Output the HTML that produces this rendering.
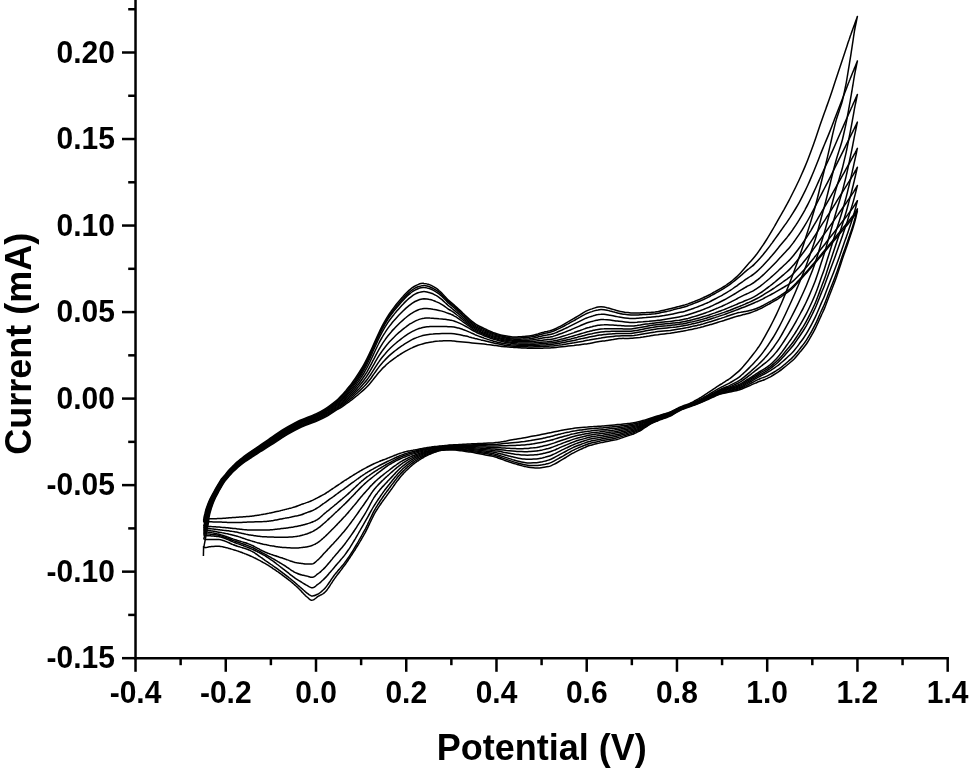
<!DOCTYPE html>
<html><head><meta charset="utf-8"><style>
html,body{margin:0;padding:0;background:#fff;}
svg{display:block;filter:grayscale(1);}
.t{font-family:"Liberation Sans",sans-serif;font-weight:bold;font-size:30px;fill:#000;}
.a{font-family:"Liberation Sans",sans-serif;font-weight:bold;font-size:36px;fill:#000;}
path{fill:none;stroke:#000;stroke-width:1.5;stroke-linejoin:round;}
</style></head><body>
<svg width="969" height="774" viewBox="0 0 969 774">
<line x1="135.52" y1="-2" x2="135.52" y2="659.42" stroke="#000" stroke-width="2.5"/>
<line x1="134.27" y1="658.17" x2="948.93" y2="658.17" stroke="#000" stroke-width="2.5"/>
<line x1="122.0" y1="658.18" x2="135.52" y2="658.18" stroke="#000" stroke-width="2.5"/>
<text transform="translate(114.9,668.18) scale(1,1.065)" text-anchor="end" class="t">-0.15</text>
<line x1="128.2" y1="614.91" x2="135.52" y2="614.91" stroke="#000" stroke-width="2.5"/>
<line x1="122.0" y1="571.65" x2="135.52" y2="571.65" stroke="#000" stroke-width="2.5"/>
<text transform="translate(114.9,581.65) scale(1,1.065)" text-anchor="end" class="t">-0.10</text>
<line x1="128.2" y1="528.39" x2="135.52" y2="528.39" stroke="#000" stroke-width="2.5"/>
<line x1="122.0" y1="485.12" x2="135.52" y2="485.12" stroke="#000" stroke-width="2.5"/>
<text transform="translate(114.9,495.12) scale(1,1.065)" text-anchor="end" class="t">-0.05</text>
<line x1="128.2" y1="441.86" x2="135.52" y2="441.86" stroke="#000" stroke-width="2.5"/>
<line x1="122.0" y1="398.60" x2="135.52" y2="398.60" stroke="#000" stroke-width="2.5"/>
<text transform="translate(114.9,408.60) scale(1,1.065)" text-anchor="end" class="t">0.00</text>
<line x1="128.2" y1="355.34" x2="135.52" y2="355.34" stroke="#000" stroke-width="2.5"/>
<line x1="122.0" y1="312.08" x2="135.52" y2="312.08" stroke="#000" stroke-width="2.5"/>
<text transform="translate(114.9,322.08) scale(1,1.065)" text-anchor="end" class="t">0.05</text>
<line x1="128.2" y1="268.81" x2="135.52" y2="268.81" stroke="#000" stroke-width="2.5"/>
<line x1="122.0" y1="225.55" x2="135.52" y2="225.55" stroke="#000" stroke-width="2.5"/>
<text transform="translate(114.9,235.55) scale(1,1.065)" text-anchor="end" class="t">0.10</text>
<line x1="128.2" y1="182.29" x2="135.52" y2="182.29" stroke="#000" stroke-width="2.5"/>
<line x1="122.0" y1="139.02" x2="135.52" y2="139.02" stroke="#000" stroke-width="2.5"/>
<text transform="translate(114.9,149.02) scale(1,1.065)" text-anchor="end" class="t">0.15</text>
<line x1="128.2" y1="95.76" x2="135.52" y2="95.76" stroke="#000" stroke-width="2.5"/>
<line x1="122.0" y1="52.50" x2="135.52" y2="52.50" stroke="#000" stroke-width="2.5"/>
<text transform="translate(114.9,62.50) scale(1,1.065)" text-anchor="end" class="t">0.20</text>
<line x1="128.2" y1="9.24" x2="135.52" y2="9.24" stroke="#000" stroke-width="2.5"/>
<line x1="135.52" y1="658.17" x2="135.52" y2="671.8" stroke="#000" stroke-width="2.5"/>
<text transform="translate(135.52,703.05) scale(1,1.065)" text-anchor="middle" class="t">-0.4</text>
<line x1="180.64" y1="658.17" x2="180.64" y2="665.2" stroke="#000" stroke-width="2.5"/>
<line x1="225.76" y1="658.17" x2="225.76" y2="671.8" stroke="#000" stroke-width="2.5"/>
<text transform="translate(225.76,703.05) scale(1,1.065)" text-anchor="middle" class="t">-0.2</text>
<line x1="270.88" y1="658.17" x2="270.88" y2="665.2" stroke="#000" stroke-width="2.5"/>
<line x1="316.00" y1="658.17" x2="316.00" y2="671.8" stroke="#000" stroke-width="2.5"/>
<text transform="translate(316.00,703.05) scale(1,1.065)" text-anchor="middle" class="t">0.0</text>
<line x1="361.12" y1="658.17" x2="361.12" y2="665.2" stroke="#000" stroke-width="2.5"/>
<line x1="406.24" y1="658.17" x2="406.24" y2="671.8" stroke="#000" stroke-width="2.5"/>
<text transform="translate(406.24,703.05) scale(1,1.065)" text-anchor="middle" class="t">0.2</text>
<line x1="451.36" y1="658.17" x2="451.36" y2="665.2" stroke="#000" stroke-width="2.5"/>
<line x1="496.48" y1="658.17" x2="496.48" y2="671.8" stroke="#000" stroke-width="2.5"/>
<text transform="translate(496.48,703.05) scale(1,1.065)" text-anchor="middle" class="t">0.4</text>
<line x1="541.60" y1="658.17" x2="541.60" y2="665.2" stroke="#000" stroke-width="2.5"/>
<line x1="586.72" y1="658.17" x2="586.72" y2="671.8" stroke="#000" stroke-width="2.5"/>
<text transform="translate(586.72,703.05) scale(1,1.065)" text-anchor="middle" class="t">0.6</text>
<line x1="631.84" y1="658.17" x2="631.84" y2="665.2" stroke="#000" stroke-width="2.5"/>
<line x1="676.96" y1="658.17" x2="676.96" y2="671.8" stroke="#000" stroke-width="2.5"/>
<text transform="translate(676.96,703.05) scale(1,1.065)" text-anchor="middle" class="t">0.8</text>
<line x1="722.08" y1="658.17" x2="722.08" y2="665.2" stroke="#000" stroke-width="2.5"/>
<line x1="767.20" y1="658.17" x2="767.20" y2="671.8" stroke="#000" stroke-width="2.5"/>
<text transform="translate(767.20,703.05) scale(1,1.065)" text-anchor="middle" class="t">1.0</text>
<line x1="812.32" y1="658.17" x2="812.32" y2="665.2" stroke="#000" stroke-width="2.5"/>
<line x1="857.44" y1="658.17" x2="857.44" y2="671.8" stroke="#000" stroke-width="2.5"/>
<text transform="translate(857.44,703.05) scale(1,1.065)" text-anchor="middle" class="t">1.2</text>
<line x1="902.56" y1="658.17" x2="902.56" y2="665.2" stroke="#000" stroke-width="2.5"/>
<line x1="947.68" y1="658.17" x2="947.68" y2="671.8" stroke="#000" stroke-width="2.5"/>
<text transform="translate(947.68,703.05) scale(1,1.065)" text-anchor="middle" class="t">1.4</text>
<text x="541.8" y="759.6" text-anchor="middle" class="a">Potential (V)</text>
<text transform="translate(31.4,343.7) rotate(-90)" text-anchor="middle" class="a">Current (mA)</text>
<path d="M203.7,547.8 C204.5,543.5 207.6,527.1 208.5,522.2 C209.3,517.3 208.6,519.6 208.8,518.4 C209.0,517.1 209.3,515.8 209.6,514.6 C209.9,513.3 210.1,512.1 210.6,510.7 C211.0,509.2 211.6,507.4 212.2,505.8 C212.7,504.2 213.3,502.5 214.0,500.9 C214.7,499.3 215.5,497.6 216.4,496.0 C217.2,494.3 218.1,492.7 219.0,491.0 C219.9,489.3 220.8,487.7 221.8,486.0 C222.8,484.4 223.8,482.6 224.8,481.2 C225.9,479.8 226.8,478.9 228.0,477.5 C229.2,476.1 230.6,474.3 231.9,472.9 C233.2,471.5 234.6,470.3 236.0,469.1 C237.4,467.8 238.6,466.7 240.2,465.5 C241.8,464.2 243.6,462.8 245.5,461.5 C247.3,460.1 248.8,459.2 251.5,457.5 C254.1,455.7 258.2,453.2 261.5,451.0 C264.9,448.9 267.4,447.2 271.6,444.6 C275.8,441.9 281.7,437.9 286.7,434.9 C291.6,432.0 296.3,429.3 301.4,427.0 C306.5,424.6 313.0,422.6 317.4,420.8 C321.7,418.9 324.3,417.6 327.6,415.8 C330.9,413.9 334.9,411.0 337.0,409.7 C339.1,408.4 339.0,408.7 340.0,408.1 C341.0,407.5 342.0,406.8 343.0,406.1 C344.0,405.4 345.0,404.7 346.0,403.9 C347.0,403.2 348.0,402.5 349.0,401.8 C350.0,401.1 351.0,400.3 352.0,399.6 C353.0,398.8 354.0,398.0 355.0,397.2 C356.0,396.4 357.0,395.6 358.0,394.8 C359.0,393.9 360.0,393.1 361.0,392.2 C362.0,391.4 363.0,390.5 364.0,389.6 C365.0,388.7 366.0,387.8 367.0,386.8 C368.0,385.8 369.0,384.7 370.0,383.5 C371.0,382.4 372.0,381.0 373.0,379.8 C374.0,378.5 375.0,377.2 376.0,376.0 C377.0,374.7 378.0,373.4 379.0,372.3 C380.0,371.1 381.0,370.0 382.0,368.9 C383.0,367.9 384.0,367.0 385.0,366.1 C386.0,365.1 387.0,364.2 388.0,363.3 C389.0,362.5 390.0,361.6 391.0,360.8 C392.0,360.1 393.0,359.4 394.0,358.6 C395.0,357.9 396.0,357.2 397.0,356.5 C398.0,355.8 399.0,355.2 400.0,354.5 C401.0,353.9 402.0,353.3 403.0,352.7 C404.0,352.1 405.0,351.5 406.0,350.9 C407.0,350.4 408.0,349.8 409.0,349.3 C410.0,348.8 411.0,348.3 412.0,347.9 C413.0,347.4 414.0,346.9 415.0,346.5 C416.0,346.1 417.0,345.7 418.0,345.3 C419.0,345.0 420.0,344.7 421.0,344.4 C422.0,344.1 423.0,343.8 424.0,343.5 C425.0,343.2 426.0,342.9 427.0,342.7 C428.0,342.5 429.0,342.4 430.0,342.2 C431.0,342.0 432.0,341.8 433.0,341.7 C434.0,341.5 435.0,341.4 436.0,341.3 C437.0,341.2 438.0,341.1 439.0,341.1 C440.0,341.0 441.0,340.9 442.0,340.9 C443.0,340.8 444.0,340.8 445.0,340.7 C446.0,340.7 447.0,340.7 448.0,340.8 C449.0,340.8 450.0,340.8 451.0,340.8 C452.0,340.9 453.0,341.0 454.0,341.0 C455.0,341.1 456.0,341.3 457.0,341.4 C458.0,341.5 459.0,341.6 460.0,341.7 C461.0,341.8 462.0,341.9 463.0,342.0 C464.0,342.1 465.0,342.2 466.0,342.3 C467.0,342.4 468.0,342.5 469.0,342.6 C470.0,342.7 471.0,342.8 472.0,342.9 C473.0,343.0 474.0,343.1 475.0,343.2 C476.0,343.3 477.0,343.4 478.0,343.5 C479.0,343.6 480.0,343.7 481.0,343.8 C482.0,343.9 483.0,344.0 484.0,344.1 C485.0,344.2 486.0,344.3 487.0,344.5 C488.0,344.6 489.0,344.7 490.0,344.8 C491.0,344.9 492.0,345.1 493.0,345.2 C494.0,345.3 495.0,345.5 496.0,345.6 C497.0,345.7 498.0,345.9 499.0,346.0 C500.0,346.1 501.0,346.3 502.0,346.4 C503.0,346.5 504.0,346.6 505.0,346.7 C506.0,346.8 507.0,346.8 508.0,346.9 C509.0,347.0 510.0,347.1 511.0,347.2 C512.0,347.3 513.0,347.3 514.0,347.4 C515.0,347.5 516.0,347.6 517.0,347.6 C518.0,347.7 519.0,347.8 520.0,347.8 C521.0,347.9 522.0,347.9 523.0,348.0 C524.0,348.0 525.0,348.1 526.0,348.1 C527.0,348.1 528.0,348.2 529.0,348.2 C530.0,348.2 531.0,348.3 532.0,348.3 C533.0,348.3 534.0,348.3 535.0,348.3 C536.0,348.3 537.0,348.2 538.0,348.2 C539.0,348.2 540.0,348.2 541.0,348.2 C542.0,348.2 543.0,348.1 544.0,348.1 C545.0,348.1 546.0,348.0 547.0,348.0 C548.0,348.0 549.0,347.9 550.0,347.9 C551.0,347.8 552.0,347.8 553.0,347.7 C554.0,347.6 555.0,347.5 556.0,347.4 C557.0,347.3 558.0,347.2 559.0,347.1 C560.0,347.0 561.0,346.9 562.0,346.8 C563.0,346.7 564.0,346.6 565.0,346.5 C566.0,346.4 567.0,346.3 568.0,346.1 C569.0,346.0 570.0,345.9 571.0,345.8 C572.0,345.7 573.0,345.6 574.0,345.5 C575.0,345.3 576.0,345.2 577.0,345.1 C578.0,345.0 579.0,344.8 580.0,344.7 C581.0,344.6 582.0,344.4 583.0,344.3 C584.0,344.2 585.0,344.0 586.0,343.9 C587.0,343.7 588.0,343.6 589.0,343.4 C590.0,343.2 591.0,343.1 592.0,342.9 C593.0,342.7 594.0,342.5 595.0,342.3 C596.0,342.2 597.0,342.0 598.0,341.8 C599.0,341.7 600.0,341.5 601.0,341.3 C602.0,341.2 603.0,341.0 604.0,340.9 C605.0,340.7 606.0,340.6 607.0,340.4 C608.0,340.2 609.0,340.1 610.0,339.9 C611.0,339.8 612.0,339.6 613.0,339.5 C614.0,339.3 615.0,339.2 616.0,339.0 C617.0,338.9 618.0,338.7 619.0,338.6 C620.0,338.5 621.0,338.4 622.0,338.4 C623.0,338.3 624.0,338.4 625.0,338.4 C626.0,338.4 627.0,338.4 628.0,338.4 C629.0,338.4 630.0,338.4 631.0,338.3 C632.0,338.3 633.0,338.2 634.0,338.0 C635.0,337.9 636.0,337.8 637.0,337.7 C638.0,337.6 639.0,337.5 640.0,337.4 C641.0,337.2 642.0,337.1 643.0,337.0 C644.0,336.8 645.0,336.6 646.0,336.5 C647.0,336.3 648.0,336.1 649.0,336.0 C650.0,335.8 651.0,335.7 652.0,335.5 C653.0,335.3 654.0,335.2 655.0,335.0 C656.0,334.9 657.0,334.8 658.0,334.7 C659.0,334.5 660.0,334.4 661.0,334.3 C662.0,334.2 663.0,334.1 664.0,334.0 C665.0,333.9 666.0,333.8 667.0,333.6 C668.0,333.5 669.0,333.4 670.0,333.3 C671.0,333.1 672.0,333.0 673.0,332.8 C674.0,332.6 675.0,332.5 676.0,332.3 C677.0,332.1 678.0,332.0 679.0,331.8 C680.0,331.6 681.0,331.5 682.0,331.3 C683.0,331.1 684.0,331.0 685.0,330.8 C686.0,330.6 687.0,330.4 688.0,330.1 C689.0,329.9 690.0,329.7 691.0,329.5 C692.0,329.3 693.0,329.0 694.0,328.8 C695.0,328.6 696.0,328.4 697.0,328.2 C698.0,327.9 699.0,327.7 700.0,327.5 C701.0,327.2 702.0,326.9 703.0,326.7 C704.0,326.4 705.0,326.1 706.0,325.8 C707.0,325.6 708.0,325.3 709.0,325.0 C710.0,324.7 711.0,324.5 712.0,324.2 C713.0,323.9 714.0,323.6 715.0,323.3 C716.0,323.0 717.0,322.7 718.0,322.3 C719.0,322.0 720.0,321.7 721.0,321.4 C722.0,321.1 723.0,320.8 724.0,320.5 C725.0,320.1 726.0,319.8 727.0,319.5 C728.0,319.2 729.0,318.8 730.0,318.5 C731.0,318.2 732.0,317.8 733.0,317.5 C734.0,317.2 735.0,316.9 736.0,316.6 C737.0,316.4 738.0,316.1 739.0,315.8 C740.0,315.5 741.0,315.3 742.0,315.0 C743.0,314.7 744.0,314.5 745.0,314.2 C746.0,314.0 747.0,313.8 748.0,313.5 C749.0,313.2 750.0,312.9 751.0,312.5 C752.0,312.2 753.0,311.8 754.0,311.4 C755.0,311.0 756.0,310.6 757.0,310.2 C758.0,309.8 759.0,309.4 760.0,308.9 C761.0,308.4 762.0,307.9 763.0,307.3 C764.0,306.8 765.0,306.3 766.0,305.7 C767.0,305.2 768.0,304.6 769.0,304.1 C770.0,303.5 771.0,303.0 772.0,302.4 C773.0,301.9 774.0,301.3 775.0,300.7 C776.0,300.1 777.0,299.4 778.0,298.8 C779.0,298.1 780.0,297.4 781.0,296.8 C782.0,296.1 783.0,295.4 784.0,294.7 C785.0,294.1 786.0,293.4 787.0,292.7 C788.0,292.0 789.0,291.3 790.0,290.5 C791.0,289.7 792.0,288.7 793.0,287.7 C794.0,286.7 795.0,285.6 796.0,284.5 C797.0,283.4 798.0,282.3 799.0,281.2 C800.0,280.1 801.0,279.0 802.0,277.9 C803.0,276.8 804.0,275.7 805.0,274.6 C806.0,273.5 807.0,272.4 808.0,271.2 C809.0,270.1 810.0,268.9 811.0,267.8 C812.0,266.6 813.0,265.5 814.0,264.3 C815.0,263.1 816.0,262.0 817.0,260.8 C818.0,259.6 819.0,258.5 820.0,257.3 C821.0,256.1 822.0,255.0 823.0,253.8 C824.0,252.6 825.0,251.4 826.0,250.2 C827.0,249.0 828.0,247.8 829.0,246.6 C830.0,245.5 831.0,244.3 832.0,243.1 C833.0,241.9 834.0,240.7 835.0,239.5 C836.0,238.3 837.0,237.1 838.0,235.9 C839.0,234.7 840.0,233.5 841.0,232.3 C842.0,231.1 843.0,229.9 844.0,228.7 C845.0,227.6 846.3,226.0 847.0,225.2 C847.7,224.4 847.7,224.4 848.0,224.0 C848.3,223.6 848.7,223.2 849.0,222.7 C849.3,222.3 849.7,221.9 850.0,221.5 C850.3,221.0 850.7,220.6 851.0,220.2 C851.3,219.8 851.7,219.3 852.0,218.9 C852.3,218.5 852.7,218.1 853.0,217.6 C853.3,217.2 853.7,216.7 854.0,216.2 C854.3,215.7 854.7,215.2 855.0,214.7 C855.3,214.2 855.6,213.8 856.0,213.2 C856.4,212.5 857.2,211.4 857.4,211.0 L857.4,211.0 C857.2,211.7 856.7,213.8 856.4,215.2 C856.1,216.6 855.7,218.1 855.4,219.4 C855.1,220.7 854.7,221.8 854.4,223.0 C854.1,224.2 853.7,225.4 853.4,226.6 C853.1,227.7 852.7,228.8 852.4,229.8 C852.1,230.8 851.7,231.8 851.4,232.8 C851.1,233.8 850.7,234.8 850.4,235.8 C850.1,236.8 849.7,237.8 849.4,238.8 C849.1,239.8 848.7,240.8 848.4,241.8 C848.1,242.7 847.7,243.7 847.4,244.7 C847.1,245.7 846.7,246.7 846.4,247.6 C846.1,248.6 846.1,248.5 845.4,250.4 C844.7,252.3 843.4,256.1 842.4,259.1 C841.4,262.1 840.4,265.3 839.4,268.3 C838.4,271.3 837.4,274.3 836.4,277.2 C835.4,280.0 834.4,282.7 833.4,285.3 C832.4,288.0 831.4,290.4 830.4,293.0 C829.4,295.5 828.4,298.1 827.4,300.7 C826.4,303.3 825.4,306.2 824.4,308.6 C823.4,311.0 822.4,312.9 821.4,315.1 C820.4,317.3 819.4,319.7 818.4,321.9 C817.4,324.1 816.4,326.4 815.4,328.4 C814.4,330.4 813.4,332.1 812.4,333.9 C811.4,335.7 810.4,337.5 809.4,339.2 C808.4,340.8 807.4,342.5 806.4,344.0 C805.4,345.5 804.4,346.7 803.4,348.0 C802.4,349.3 801.4,350.4 800.4,351.6 C799.4,352.8 798.4,354.1 797.4,355.2 C796.4,356.4 795.4,357.6 794.4,358.7 C793.4,359.7 792.4,360.6 791.4,361.5 C790.4,362.4 789.4,363.2 788.4,364.0 C787.4,364.9 786.4,365.7 785.4,366.5 C784.4,367.3 783.4,368.1 782.4,368.9 C781.4,369.7 780.4,370.5 779.4,371.2 C778.4,371.9 777.4,372.6 776.4,373.2 C775.4,373.8 774.4,374.4 773.4,375.0 C772.4,375.6 771.4,376.2 770.4,376.8 C769.4,377.3 768.4,378.0 767.4,378.4 C766.4,378.9 765.4,379.3 764.4,379.7 C763.4,380.1 762.4,380.4 761.4,380.7 C760.4,381.1 759.4,381.4 758.4,381.8 C757.4,382.2 756.4,382.7 755.4,383.1 C754.4,383.6 753.4,384.0 752.4,384.4 C751.4,384.9 750.4,385.3 749.4,385.8 C748.4,386.2 747.4,386.6 746.4,387.0 C745.4,387.5 744.4,387.9 743.4,388.3 C742.4,388.7 741.4,389.2 740.4,389.5 C739.4,389.8 738.4,390.1 737.4,390.4 C736.4,390.6 735.4,390.8 734.4,391.0 C733.4,391.3 732.4,391.5 731.4,391.7 C730.4,391.9 729.4,392.1 728.4,392.3 C727.4,392.5 726.4,392.7 725.4,392.9 C724.4,393.1 723.4,393.3 722.4,393.5 C721.4,393.8 720.4,394.1 719.4,394.4 C718.4,394.8 717.4,395.2 716.4,395.6 C715.4,396.1 714.4,396.5 713.4,397.0 C712.4,397.4 711.4,397.9 710.4,398.3 C709.4,398.8 708.4,399.2 707.4,399.7 C706.4,400.1 705.4,400.6 704.4,401.0 C703.4,401.5 702.4,401.9 701.4,402.3 C700.4,402.8 699.4,403.2 698.4,403.6 C697.4,403.9 696.4,404.3 695.4,404.7 C694.4,405.0 693.4,405.4 692.4,405.7 C691.4,406.1 690.4,406.5 689.4,406.8 C688.4,407.2 687.4,407.6 686.4,407.9 C685.4,408.3 684.4,408.7 683.4,409.1 C682.4,409.4 681.4,409.8 680.4,410.3 C679.4,410.8 678.4,411.3 677.4,411.9 C676.4,412.5 675.4,413.1 674.4,413.7 C673.4,414.3 672.4,414.9 671.4,415.5 C670.4,416.0 669.4,416.5 668.4,416.9 C667.4,417.3 666.4,417.6 665.4,418.0 C664.4,418.3 663.4,418.6 662.4,419.0 C661.4,419.4 660.4,419.7 659.4,420.1 C658.4,420.5 657.4,421.0 656.4,421.4 C655.4,421.8 654.4,422.2 653.4,422.7 C652.4,423.2 651.4,423.6 650.4,424.2 C649.4,424.7 648.4,425.4 647.4,426.0 C646.4,426.6 645.4,427.3 644.4,428.0 C643.4,428.7 642.4,429.4 641.4,430.0 C640.4,430.6 639.4,431.2 638.4,431.7 C637.4,432.2 636.4,432.6 635.4,433.1 C634.4,433.5 633.4,434.0 632.4,434.4 C631.4,434.7 630.4,435.1 629.4,435.4 C628.4,435.7 627.4,436.0 626.4,436.4 C625.4,436.7 624.4,437.0 623.4,437.4 C622.4,437.7 621.4,438.1 620.4,438.4 C619.4,438.8 618.4,439.1 617.4,439.4 C616.4,439.6 615.4,439.8 614.4,440.1 C613.4,440.3 612.4,440.4 611.4,440.6 C610.4,440.8 609.4,441.0 608.4,441.2 C607.4,441.4 606.4,441.6 605.4,441.8 C604.4,442.0 603.4,442.2 602.4,442.4 C601.4,442.7 600.4,442.9 599.4,443.1 C598.4,443.4 597.4,443.6 596.4,443.8 C595.4,444.1 594.4,444.3 593.4,444.5 C592.4,444.8 591.4,445.0 590.4,445.3 C589.4,445.6 588.4,445.9 587.4,446.3 C586.4,446.7 585.4,447.2 584.4,447.6 C583.4,448.1 582.4,448.5 581.4,449.0 C580.4,449.4 579.4,449.9 578.4,450.3 C577.4,450.8 576.4,451.3 575.4,451.8 C574.4,452.3 573.4,452.8 572.4,453.4 C571.4,454.0 570.4,454.6 569.4,455.2 C568.4,455.8 567.4,456.5 566.4,457.1 C565.4,457.7 564.4,458.3 563.4,458.9 C562.4,459.5 561.4,460.1 560.4,460.7 C559.4,461.3 558.4,461.9 557.4,462.5 C556.4,463.1 555.4,463.7 554.4,464.2 C553.4,464.7 552.4,465.2 551.4,465.6 C550.4,466.0 549.4,466.3 548.4,466.6 C547.4,466.8 546.4,467.0 545.4,467.1 C544.4,467.3 543.4,467.4 542.4,467.5 C541.4,467.7 540.4,467.8 539.4,467.9 C538.4,467.9 537.4,467.9 536.4,467.9 C535.4,467.9 534.4,467.8 533.4,467.7 C532.4,467.6 531.4,467.5 530.4,467.4 C529.4,467.3 528.4,467.2 527.4,467.0 C526.4,466.9 525.4,466.6 524.4,466.4 C523.4,466.2 522.4,465.9 521.4,465.6 C520.4,465.4 519.4,465.1 518.4,464.8 C517.4,464.5 516.4,464.3 515.4,463.9 C514.4,463.6 513.4,463.3 512.4,463.0 C511.4,462.6 510.4,462.3 509.4,462.0 C508.4,461.6 507.4,461.3 506.4,461.0 C505.4,460.6 504.4,460.3 503.4,459.9 C502.4,459.5 501.4,459.2 500.4,458.8 C499.4,458.4 498.4,458.0 497.4,457.7 C496.4,457.4 495.4,457.0 494.4,456.8 C493.4,456.5 492.4,456.3 491.4,456.1 C490.4,455.9 489.4,455.7 488.4,455.5 C487.4,455.3 486.4,455.1 485.4,454.9 C484.4,454.7 483.4,454.5 482.4,454.3 C481.4,454.1 480.4,453.9 479.4,453.7 C478.4,453.6 477.4,453.4 476.4,453.2 C475.4,453.0 474.4,452.8 473.4,452.6 C472.4,452.5 471.4,452.3 470.4,452.1 C469.4,452.0 468.4,451.8 467.4,451.7 C466.4,451.5 465.4,451.3 464.4,451.2 C463.4,451.0 462.4,450.9 461.4,450.8 C460.4,450.6 459.4,450.5 458.4,450.4 C457.4,450.3 456.4,450.2 455.4,450.1 C454.4,450.0 453.4,449.9 452.4,449.9 C451.4,449.8 450.4,449.8 449.4,449.8 C448.4,449.9 447.4,449.9 446.4,450.0 C445.4,450.0 444.2,450.1 443.4,450.2 C442.6,450.2 442.1,450.2 441.4,450.3 C440.7,450.4 440.1,450.6 439.4,450.8 C438.7,451.0 438.1,451.2 437.4,451.4 C436.7,451.6 436.1,451.8 435.4,452.0 C434.7,452.3 434.1,452.5 433.4,452.8 C432.7,453.0 432.1,453.3 431.4,453.5 C430.7,453.8 430.1,454.1 429.4,454.4 C428.7,454.7 428.1,455.0 427.4,455.4 C426.7,455.7 426.1,456.0 425.4,456.4 C424.7,456.7 424.1,457.1 423.4,457.5 C422.7,457.9 422.1,458.3 421.4,458.7 C420.7,459.1 420.1,459.5 419.4,459.9 C418.7,460.3 418.1,460.8 417.4,461.2 C416.7,461.7 416.1,462.2 415.4,462.7 C414.7,463.2 414.1,463.7 413.4,464.2 C412.7,464.8 412.1,465.3 411.4,465.9 C410.7,466.5 410.1,467.1 409.4,467.7 C408.7,468.3 408.1,468.9 407.4,469.6 C406.7,470.2 406.1,470.9 405.4,471.5 C404.7,472.2 404.1,472.9 403.4,473.6 C402.7,474.3 402.1,475.0 401.4,475.8 C400.7,476.6 400.1,477.4 399.4,478.2 C398.7,479.1 398.1,480.0 397.4,480.8 C396.7,481.7 396.1,482.7 395.4,483.6 C394.7,484.5 394.1,485.5 393.4,486.4 C392.7,487.4 392.1,488.3 391.4,489.2 C390.7,490.2 390.1,491.1 389.4,492.0 C388.7,492.9 388.1,493.8 387.4,494.7 C386.7,495.7 386.1,496.6 385.4,497.5 C384.7,498.4 384.1,499.3 383.4,500.2 C382.7,501.1 382.1,502.1 381.4,503.0 C380.7,504.0 380.1,504.9 379.4,505.9 C378.7,506.9 378.1,507.9 377.4,509.0 C376.7,510.0 376.1,511.1 375.4,512.2 C374.7,513.4 374.1,514.5 373.4,515.8 C372.7,517.1 372.1,518.5 371.4,519.9 C370.7,521.2 370.1,522.7 369.4,524.1 C368.7,525.5 368.1,527.0 367.4,528.3 C366.7,529.7 366.1,531.0 365.4,532.3 C364.7,533.5 364.1,534.7 363.4,535.8 C362.7,537.0 362.1,538.2 361.4,539.3 C360.7,540.4 360.1,541.6 359.4,542.7 C358.7,543.8 358.1,544.9 357.4,546.0 C356.7,547.0 356.1,548.1 355.4,549.2 C354.7,550.2 354.1,551.2 353.4,552.3 C352.7,553.3 352.1,554.3 351.4,555.3 C350.7,556.3 350.1,557.3 349.4,558.3 C348.7,559.3 348.1,560.3 347.4,561.3 C346.7,562.2 346.1,563.2 345.4,564.2 C344.7,565.1 344.1,566.0 343.4,566.9 C342.7,567.8 342.1,568.7 341.4,569.6 C340.7,570.5 340.1,571.3 339.4,572.2 C338.7,573.1 338.1,573.9 337.4,574.8 C336.7,575.7 336.1,576.5 335.4,577.5 C334.7,578.4 334.1,579.3 333.4,580.3 C332.7,581.3 332.1,582.4 331.4,583.4 C330.7,584.4 330.1,585.5 329.4,586.5 C328.7,587.5 328.1,588.5 327.4,589.4 C326.7,590.3 326.1,591.1 325.4,591.8 C324.7,592.5 324.1,593.1 323.4,593.5 C322.7,594.0 322.1,594.4 321.4,594.7 C320.7,595.1 320.1,595.4 319.4,595.7 C318.7,596.1 318.1,596.4 317.4,596.9 C316.7,597.4 316.1,598.0 315.4,598.5 C314.7,599.0 314.1,599.6 313.4,599.9 C312.7,600.2 312.1,600.4 311.4,600.2 C310.7,600.1 310.1,599.5 309.4,599.1 C308.7,598.6 308.1,597.9 307.4,597.3 C306.7,596.7 306.1,596.2 305.4,595.6 C304.7,594.9 304.1,594.2 303.4,593.5 C302.7,592.8 302.1,592.1 301.4,591.4 C300.7,590.7 300.1,590.0 299.4,589.3 C298.7,588.7 298.1,588.0 297.4,587.3 C296.7,586.7 296.1,586.1 295.4,585.5 C294.7,584.9 294.1,584.3 293.4,583.7 C292.7,583.1 292.1,582.6 291.4,582.0 C290.7,581.5 290.1,580.9 289.4,580.4 C288.7,579.9 288.1,579.3 287.4,578.8 C286.7,578.3 286.1,577.8 285.4,577.3 C284.7,576.8 284.1,576.3 283.4,575.8 C282.7,575.3 282.1,574.8 281.4,574.3 C280.7,573.9 280.1,573.4 279.4,572.9 C278.7,572.4 278.1,572.0 277.4,571.5 C276.7,571.0 276.1,570.6 275.4,570.1 C274.7,569.6 274.1,569.2 273.4,568.8 C272.7,568.3 272.1,567.9 271.4,567.4 C270.7,567.0 270.1,566.6 269.4,566.2 C268.7,565.7 268.1,565.3 267.4,564.9 C266.7,564.5 266.1,564.1 265.4,563.7 C264.7,563.3 264.1,563.0 263.4,562.6 C262.7,562.2 262.1,561.8 261.4,561.5 C260.7,561.1 260.1,560.7 259.4,560.4 C258.7,560.0 258.1,559.7 257.4,559.3 C256.7,559.0 256.1,558.6 255.4,558.3 C254.7,558.0 254.1,557.7 253.4,557.3 C252.7,557.0 252.1,556.7 251.4,556.4 C250.7,556.1 250.1,555.8 249.4,555.5 C248.7,555.3 248.1,555.0 247.4,554.7 C246.7,554.4 246.1,554.1 245.4,553.9 C244.7,553.6 244.1,553.3 243.4,553.1 C242.7,552.8 242.1,552.6 241.4,552.3 C240.7,552.1 240.1,551.8 239.4,551.6 C238.7,551.4 238.1,551.1 237.4,550.9 C236.7,550.7 236.1,550.5 235.4,550.3 C234.7,550.1 234.1,549.9 233.4,549.7 C232.7,549.5 232.1,549.3 231.4,549.1 C230.7,548.9 230.1,548.7 229.4,548.5 C228.7,548.3 228.1,548.1 227.4,547.9 C226.7,547.7 226.1,547.5 225.4,547.4 C224.7,547.2 224.1,547.0 223.4,546.9 C222.7,546.8 222.1,546.6 221.4,546.6 C220.7,546.5 220.1,546.4 219.4,546.3 C218.7,546.3 218.1,546.3 217.4,546.3 C216.7,546.3 216.1,546.3 215.4,546.3 C214.7,546.4 214.1,546.4 213.4,546.4 C212.7,546.5 212.1,546.5 211.4,546.6 C210.7,546.7 210.1,546.7 209.4,546.8 C208.7,546.9 208.1,547.0 207.4,547.2 C206.7,547.3 205.9,547.5 205.4,547.6 C204.9,547.7 204.7,547.8 204.5,547.8"/>
<path d="M203.7,539.5 C204.4,536.6 207.2,525.7 208.0,522.1 C208.7,518.6 208.1,519.6 208.2,518.3 C208.4,517.0 208.8,515.7 209.1,514.4 C209.4,513.1 209.6,512.0 210.1,510.5 C210.5,509.1 211.1,507.3 211.7,505.6 C212.3,504.0 212.8,502.3 213.6,500.7 C214.3,499.1 215.1,497.4 215.9,495.8 C216.8,494.1 217.7,492.4 218.6,490.8 C219.5,489.1 220.5,487.4 221.4,485.8 C222.4,484.2 223.4,482.3 224.5,480.9 C225.5,479.5 226.5,478.6 227.7,477.2 C228.9,475.8 230.2,474.0 231.6,472.6 C232.9,471.2 234.3,470.0 235.6,468.7 C237.0,467.5 238.3,466.3 239.9,465.1 C241.4,463.8 243.3,462.4 245.1,461.0 C247.0,459.7 248.5,458.7 251.1,457.0 C253.8,455.2 257.8,452.7 261.2,450.5 C264.6,448.4 267.1,446.7 271.3,444.0 C275.4,441.3 281.3,437.3 286.3,434.3 C291.3,431.4 296.0,428.7 301.1,426.3 C306.2,423.9 312.7,421.9 317.1,420.1 C321.4,418.2 323.9,417.0 327.2,415.1 C330.6,413.2 334.9,410.0 337.0,408.6 C339.1,407.2 339.0,407.5 340.0,406.9 C341.0,406.2 342.0,405.5 343.0,404.7 C344.0,404.0 345.0,403.2 346.0,402.4 C347.0,401.7 348.0,400.9 349.0,400.1 C350.0,399.3 351.0,398.5 352.0,397.7 C353.0,396.8 354.0,395.9 355.0,395.0 C356.0,394.2 357.0,393.2 358.0,392.3 C359.0,391.4 360.0,390.5 361.0,389.5 C362.0,388.5 363.0,387.5 364.0,386.5 C365.0,385.4 366.0,384.4 367.0,383.2 C368.0,382.1 369.0,380.8 370.0,379.5 C371.0,378.2 372.0,376.7 373.0,375.3 C374.0,373.9 375.0,372.4 376.0,371.0 C377.0,369.6 378.0,368.2 379.0,366.9 C380.0,365.6 381.0,364.3 382.0,363.2 C383.0,362.0 384.0,361.0 385.0,359.9 C386.0,358.9 387.0,357.9 388.0,356.9 C389.0,355.9 390.0,355.0 391.0,354.1 C392.0,353.3 393.0,352.5 394.0,351.7 C395.0,350.9 396.0,350.1 397.0,349.3 C398.0,348.6 399.0,347.8 400.0,347.1 C401.0,346.4 402.0,345.7 403.0,345.1 C404.0,344.4 405.0,343.7 406.0,343.1 C407.0,342.5 408.0,341.9 409.0,341.3 C410.0,340.7 411.0,340.2 412.0,339.7 C413.0,339.2 414.0,338.7 415.0,338.3 C416.0,337.8 417.0,337.4 418.0,337.1 C419.0,336.7 420.0,336.4 421.0,336.1 C422.0,335.8 423.0,335.5 424.0,335.3 C425.0,335.1 426.0,334.9 427.0,334.7 C428.0,334.6 429.0,334.5 430.0,334.3 C431.0,334.2 432.0,334.1 433.0,334.1 C434.0,334.0 435.0,333.9 436.0,333.8 C437.0,333.8 438.0,333.7 439.0,333.7 C440.0,333.6 441.0,333.5 442.0,333.5 C443.0,333.5 444.0,333.4 445.0,333.4 C446.0,333.4 447.0,333.5 448.0,333.5 C449.0,333.5 450.0,333.5 451.0,333.5 C452.0,333.6 453.0,333.7 454.0,333.8 C455.0,333.9 456.0,334.1 457.0,334.2 C458.0,334.4 459.0,334.6 460.0,334.8 C461.0,335.0 462.0,335.2 463.0,335.4 C464.0,335.6 465.0,335.9 466.0,336.1 C467.0,336.3 468.0,336.6 469.0,336.9 C470.0,337.1 471.0,337.4 472.0,337.7 C473.0,337.9 474.0,338.2 475.0,338.5 C476.0,338.7 477.0,339.0 478.0,339.2 C479.0,339.4 480.0,339.6 481.0,339.9 C482.0,340.1 483.0,340.4 484.0,340.6 C485.0,340.8 486.0,341.1 487.0,341.3 C488.0,341.6 489.0,341.8 490.0,342.1 C491.0,342.3 492.0,342.6 493.0,342.8 C494.0,343.0 495.0,343.3 496.0,343.5 C497.0,343.7 498.0,343.9 499.0,344.1 C500.0,344.3 501.0,344.5 502.0,344.7 C503.0,344.9 504.0,345.0 505.0,345.2 C506.0,345.3 507.0,345.4 508.0,345.5 C509.0,345.7 510.0,345.8 511.0,345.9 C512.0,346.0 513.0,346.1 514.0,346.2 C515.0,346.3 516.0,346.3 517.0,346.4 C518.0,346.5 519.0,346.5 520.0,346.6 C521.0,346.6 522.0,346.7 523.0,346.7 C524.0,346.8 525.0,346.8 526.0,346.8 C527.0,346.8 528.0,346.9 529.0,346.9 C530.0,346.9 531.0,346.9 532.0,346.9 C533.0,346.9 534.0,346.9 535.0,346.8 C536.0,346.8 537.0,346.8 538.0,346.7 C539.0,346.7 540.0,346.6 541.0,346.6 C542.0,346.5 543.0,346.5 544.0,346.4 C545.0,346.4 546.0,346.3 547.0,346.3 C548.0,346.2 549.0,346.2 550.0,346.1 C551.0,346.1 552.0,346.0 553.0,345.9 C554.0,345.8 555.0,345.7 556.0,345.5 C557.0,345.4 558.0,345.2 559.0,345.1 C560.0,344.9 561.0,344.8 562.0,344.7 C563.0,344.5 564.0,344.4 565.0,344.2 C566.0,344.0 567.0,343.9 568.0,343.7 C569.0,343.6 570.0,343.4 571.0,343.2 C572.0,343.1 573.0,342.9 574.0,342.8 C575.0,342.6 576.0,342.4 577.0,342.2 C578.0,342.1 579.0,341.9 580.0,341.7 C581.0,341.5 582.0,341.3 583.0,341.2 C584.0,341.0 585.0,340.8 586.0,340.6 C587.0,340.4 588.0,340.2 589.0,340.1 C590.0,339.9 591.0,339.7 592.0,339.5 C593.0,339.3 594.0,339.1 595.0,338.9 C596.0,338.7 597.0,338.5 598.0,338.4 C599.0,338.2 600.0,338.0 601.0,337.9 C602.0,337.7 603.0,337.6 604.0,337.5 C605.0,337.4 606.0,337.2 607.0,337.1 C608.0,337.0 609.0,336.9 610.0,336.8 C611.0,336.7 612.0,336.6 613.0,336.5 C614.0,336.4 615.0,336.2 616.0,336.1 C617.0,336.0 618.0,335.9 619.0,335.9 C620.0,335.8 621.0,335.7 622.0,335.7 C623.0,335.7 624.0,335.7 625.0,335.8 C626.0,335.8 627.0,335.8 628.0,335.8 C629.0,335.8 630.0,335.8 631.0,335.7 C632.0,335.6 633.0,335.5 634.0,335.4 C635.0,335.2 636.0,335.1 637.0,335.0 C638.0,334.8 639.0,334.7 640.0,334.5 C641.0,334.4 642.0,334.2 643.0,334.0 C644.0,333.9 645.0,333.7 646.0,333.5 C647.0,333.3 648.0,333.1 649.0,332.9 C650.0,332.8 651.0,332.6 652.0,332.4 C653.0,332.3 654.0,332.1 655.0,332.0 C656.0,331.8 657.0,331.7 658.0,331.6 C659.0,331.5 660.0,331.4 661.0,331.3 C662.0,331.2 663.0,331.1 664.0,331.0 C665.0,330.9 666.0,330.8 667.0,330.7 C668.0,330.6 669.0,330.5 670.0,330.4 C671.0,330.2 672.0,330.1 673.0,329.9 C674.0,329.8 675.0,329.6 676.0,329.5 C677.0,329.4 678.0,329.2 679.0,329.0 C680.0,328.9 681.0,328.7 682.0,328.6 C683.0,328.4 684.0,328.3 685.0,328.1 C686.0,327.9 687.0,327.7 688.0,327.4 C689.0,327.2 690.0,327.0 691.0,326.8 C692.0,326.5 693.0,326.3 694.0,326.1 C695.0,325.9 696.0,325.6 697.0,325.4 C698.0,325.2 699.0,324.9 700.0,324.7 C701.0,324.4 702.0,324.1 703.0,323.9 C704.0,323.6 705.0,323.3 706.0,323.0 C707.0,322.7 708.0,322.4 709.0,322.1 C710.0,321.9 711.0,321.6 712.0,321.2 C713.0,320.9 714.0,320.6 715.0,320.3 C716.0,320.0 717.0,319.7 718.0,319.3 C719.0,319.0 720.0,318.7 721.0,318.4 C722.0,318.0 723.0,317.7 724.0,317.4 C725.0,317.0 726.0,316.7 727.0,316.3 C728.0,316.0 729.0,315.6 730.0,315.3 C731.0,315.0 732.0,314.6 733.0,314.3 C734.0,314.0 735.0,313.7 736.0,313.4 C737.0,313.1 738.0,312.8 739.0,312.6 C740.0,312.3 741.0,312.1 742.0,311.9 C743.0,311.7 744.0,311.6 745.0,311.4 C746.0,311.2 747.0,311.1 748.0,310.9 C749.0,310.7 750.0,310.5 751.0,310.2 C752.0,310.0 753.0,309.6 754.0,309.3 C755.0,309.0 756.0,308.6 757.0,308.2 C758.0,307.8 759.0,307.4 760.0,307.0 C761.0,306.5 762.0,306.0 763.0,305.5 C764.0,304.9 765.0,304.4 766.0,303.8 C767.0,303.3 768.0,302.8 769.0,302.2 C770.0,301.7 771.0,301.1 772.0,300.6 C773.0,300.0 774.0,299.5 775.0,298.9 C776.0,298.3 777.0,297.7 778.0,297.0 C779.0,296.4 780.0,295.7 781.0,295.1 C782.0,294.4 783.0,293.8 784.0,293.1 C785.0,292.4 786.0,291.8 787.0,291.1 C788.0,290.5 789.0,289.8 790.0,289.0 C791.0,288.2 792.0,287.3 793.0,286.3 C794.0,285.4 795.0,284.2 796.0,283.2 C797.0,282.1 798.0,281.0 799.0,280.0 C800.0,278.9 801.0,277.8 802.0,276.7 C803.0,275.6 804.0,274.5 805.0,273.4 C806.0,272.3 807.0,271.1 808.0,270.0 C809.0,268.8 810.0,267.7 811.0,266.5 C812.0,265.3 813.0,264.1 814.0,263.0 C815.0,261.8 816.0,260.6 817.0,259.4 C818.0,258.2 819.0,257.1 820.0,255.9 C821.0,254.7 822.0,253.5 823.0,252.3 C824.0,251.1 825.0,249.9 826.0,248.7 C827.0,247.5 828.0,246.2 829.0,245.0 C830.0,243.8 831.0,242.6 832.0,241.4 C833.0,240.2 834.0,239.0 835.0,237.8 C836.0,236.5 837.0,235.3 838.0,234.1 C839.0,232.9 840.0,231.7 841.0,230.5 C842.0,229.3 843.0,228.0 844.0,226.8 C845.0,225.6 846.3,224.0 847.0,223.2 C847.7,222.4 847.7,222.4 848.0,222.0 C848.3,221.6 848.7,221.1 849.0,220.7 C849.3,220.3 849.7,219.9 850.0,219.4 C850.3,219.0 850.7,218.6 851.0,218.1 C851.3,217.7 851.7,217.3 852.0,216.8 C852.3,216.4 852.7,216.0 853.0,215.6 C853.3,215.1 853.7,214.6 854.0,214.1 C854.3,213.6 854.7,213.1 855.0,212.6 C855.3,212.1 855.6,211.7 856.0,211.0 C856.4,210.4 857.2,209.2 857.4,208.9 L857.4,208.9 C857.2,209.5 856.7,211.6 856.4,213.0 C856.1,214.3 855.7,215.7 855.4,217.0 C855.1,218.2 854.7,219.3 854.4,220.5 C854.1,221.7 853.7,222.9 853.4,224.0 C853.1,225.1 852.7,226.2 852.4,227.2 C852.1,228.2 851.7,229.1 851.4,230.1 C851.1,231.1 850.7,232.1 850.4,233.0 C850.1,234.0 849.7,235.0 849.4,236.0 C849.1,236.9 848.7,237.9 848.4,238.9 C848.1,239.8 847.7,240.8 847.4,241.8 C847.1,242.7 846.7,243.7 846.4,244.6 C846.1,245.6 846.1,245.5 845.4,247.4 C844.7,249.2 843.4,253.0 842.4,255.8 C841.4,258.7 840.4,261.8 839.4,264.7 C838.4,267.6 837.4,270.6 836.4,273.3 C835.4,276.1 834.4,278.7 833.4,281.3 C832.4,283.8 831.4,286.2 830.4,288.8 C829.4,291.3 828.4,293.8 827.4,296.4 C826.4,298.9 825.4,301.8 824.4,304.2 C823.4,306.6 822.4,308.5 821.4,310.7 C820.4,312.9 819.4,315.3 818.4,317.6 C817.4,319.8 816.4,322.2 815.4,324.2 C814.4,326.2 813.4,328.0 812.4,329.8 C811.4,331.7 810.4,333.5 809.4,335.2 C808.4,336.9 807.4,338.7 806.4,340.2 C805.4,341.7 804.4,343.1 803.4,344.4 C802.4,345.7 801.4,346.9 800.4,348.2 C799.4,349.5 798.4,350.7 797.4,352.0 C796.4,353.2 795.4,354.4 794.4,355.5 C793.4,356.6 792.4,357.6 791.4,358.6 C790.4,359.5 789.4,360.3 788.4,361.2 C787.4,362.1 786.4,362.9 785.4,363.8 C784.4,364.6 783.4,365.5 782.4,366.3 C781.4,367.1 780.4,367.9 779.4,368.7 C778.4,369.4 777.4,370.0 776.4,370.7 C775.4,371.3 774.4,371.9 773.4,372.5 C772.4,373.1 771.4,373.7 770.4,374.2 C769.4,374.8 768.4,375.3 767.4,375.8 C766.4,376.3 765.4,376.7 764.4,377.1 C763.4,377.5 762.4,377.8 761.4,378.1 C760.4,378.5 759.4,379.0 758.4,379.4 C757.4,379.9 756.4,380.4 755.4,380.9 C754.4,381.4 753.4,381.9 752.4,382.5 C751.4,383.0 750.4,383.5 749.4,384.0 C748.4,384.6 747.4,385.1 746.4,385.6 C745.4,386.1 744.4,386.6 743.4,387.0 C742.4,387.5 741.4,388.0 740.4,388.4 C739.4,388.8 738.4,389.1 737.4,389.3 C736.4,389.6 735.4,389.9 734.4,390.1 C733.4,390.3 732.4,390.6 731.4,390.8 C730.4,391.1 729.4,391.3 728.4,391.5 C727.4,391.7 726.4,391.9 725.4,392.2 C724.4,392.4 723.4,392.6 722.4,392.9 C721.4,393.1 720.4,393.4 719.4,393.8 C718.4,394.1 717.4,394.6 716.4,395.0 C715.4,395.5 714.4,396.0 713.4,396.4 C712.4,396.9 711.4,397.4 710.4,397.8 C709.4,398.3 708.4,398.7 707.4,399.2 C706.4,399.7 705.4,400.1 704.4,400.6 C703.4,401.1 702.4,401.5 701.4,402.0 C700.4,402.4 699.4,402.8 698.4,403.2 C697.4,403.6 696.4,403.9 695.4,404.3 C694.4,404.7 693.4,405.1 692.4,405.4 C691.4,405.8 690.4,406.2 689.4,406.5 C688.4,406.9 687.4,407.3 686.4,407.6 C685.4,408.0 684.4,408.3 683.4,408.7 C682.4,409.1 681.4,409.5 680.4,409.9 C679.4,410.4 678.4,411.0 677.4,411.5 C676.4,412.1 675.4,412.7 674.4,413.3 C673.4,413.9 672.4,414.5 671.4,415.0 C670.4,415.5 669.4,416.0 668.4,416.4 C667.4,416.8 666.4,417.1 665.4,417.5 C664.4,417.8 663.4,418.1 662.4,418.5 C661.4,418.8 660.4,419.2 659.4,419.6 C658.4,420.0 657.4,420.4 656.4,420.8 C655.4,421.2 654.4,421.7 653.4,422.1 C652.4,422.6 651.4,423.0 650.4,423.5 C649.4,424.0 648.4,424.6 647.4,425.2 C646.4,425.8 645.4,426.5 644.4,427.1 C643.4,427.8 642.4,428.4 641.4,429.0 C640.4,429.6 639.4,430.1 638.4,430.6 C637.4,431.1 636.4,431.5 635.4,431.9 C634.4,432.3 633.4,432.7 632.4,433.1 C631.4,433.4 630.4,433.8 629.4,434.1 C628.4,434.4 627.4,434.7 626.4,435.0 C625.4,435.3 624.4,435.6 623.4,435.9 C622.4,436.2 621.4,436.6 620.4,436.9 C619.4,437.2 618.4,437.5 617.4,437.7 C616.4,438.0 615.4,438.2 614.4,438.4 C613.4,438.6 612.4,438.7 611.4,438.9 C610.4,439.1 609.4,439.3 608.4,439.5 C607.4,439.7 606.4,439.8 605.4,440.0 C604.4,440.2 603.4,440.4 602.4,440.6 C601.4,440.8 600.4,441.0 599.4,441.3 C598.4,441.5 597.4,441.7 596.4,441.9 C595.4,442.1 594.4,442.3 593.4,442.5 C592.4,442.8 591.4,443.0 590.4,443.2 C589.4,443.5 588.4,443.8 587.4,444.2 C586.4,444.5 585.4,445.0 584.4,445.4 C583.4,445.8 582.4,446.2 581.4,446.6 C580.4,447.0 579.4,447.4 578.4,447.8 C577.4,448.3 576.4,448.7 575.4,449.1 C574.4,449.6 573.4,450.1 572.4,450.7 C571.4,451.2 570.4,451.8 569.4,452.3 C568.4,452.9 567.4,453.5 566.4,454.0 C565.4,454.6 564.4,455.2 563.4,455.8 C562.4,456.3 561.4,456.9 560.4,457.5 C559.4,458.1 558.4,458.6 557.4,459.2 C556.4,459.8 555.4,460.4 554.4,460.9 C553.4,461.4 552.4,461.9 551.4,462.4 C550.4,462.8 549.4,463.2 548.4,463.5 C547.4,463.8 546.4,463.9 545.4,464.2 C544.4,464.4 543.4,464.6 542.4,464.8 C541.4,464.9 540.4,465.2 539.4,465.3 C538.4,465.4 537.4,465.5 536.4,465.5 C535.4,465.5 534.4,465.5 533.4,465.5 C532.4,465.5 531.4,465.5 530.4,465.4 C529.4,465.4 528.4,465.3 527.4,465.2 C526.4,465.1 525.4,464.9 524.4,464.7 C523.4,464.5 522.4,464.3 521.4,464.0 C520.4,463.8 519.4,463.6 518.4,463.3 C517.4,463.0 516.4,462.7 515.4,462.4 C514.4,462.1 513.4,461.8 512.4,461.4 C511.4,461.1 510.4,460.8 509.4,460.4 C508.4,460.1 507.4,459.7 506.4,459.4 C505.4,459.1 504.4,458.7 503.4,458.4 C502.4,458.0 501.4,457.6 500.4,457.3 C499.4,456.9 498.4,456.6 497.4,456.2 C496.4,455.9 495.4,455.6 494.4,455.4 C493.4,455.1 492.4,454.9 491.4,454.7 C490.4,454.5 489.4,454.3 488.4,454.1 C487.4,454.0 486.4,453.8 485.4,453.6 C484.4,453.4 483.4,453.3 482.4,453.1 C481.4,452.9 480.4,452.8 479.4,452.6 C478.4,452.4 477.4,452.3 476.4,452.1 C475.4,452.0 474.4,451.8 473.4,451.7 C472.4,451.5 471.4,451.4 470.4,451.2 C469.4,451.1 468.4,451.0 467.4,450.8 C466.4,450.7 465.4,450.5 464.4,450.4 C463.4,450.3 462.4,450.2 461.4,450.1 C460.4,449.9 459.4,449.9 458.4,449.8 C457.4,449.7 456.4,449.6 455.4,449.5 C454.4,449.4 453.4,449.3 452.4,449.3 C451.4,449.3 450.4,449.3 449.4,449.3 C448.4,449.4 447.4,449.4 446.4,449.5 C445.4,449.5 444.2,449.6 443.4,449.7 C442.6,449.7 442.1,449.7 441.4,449.8 C440.7,449.9 440.1,450.1 439.4,450.3 C438.7,450.4 438.1,450.6 437.4,450.8 C436.7,451.0 436.1,451.2 435.4,451.4 C434.7,451.7 434.1,451.9 433.4,452.1 C432.7,452.3 432.1,452.6 431.4,452.8 C430.7,453.1 430.1,453.3 429.4,453.6 C428.7,453.9 428.1,454.1 427.4,454.4 C426.7,454.7 426.1,455.0 425.4,455.3 C424.7,455.6 424.1,455.9 423.4,456.3 C422.7,456.6 422.1,456.9 421.4,457.3 C420.7,457.6 420.1,458.0 419.4,458.4 C418.7,458.8 418.1,459.1 417.4,459.6 C416.7,460.0 416.1,460.4 415.4,460.9 C414.7,461.3 414.1,461.8 413.4,462.3 C412.7,462.8 412.1,463.3 411.4,463.8 C410.7,464.4 410.1,464.9 409.4,465.5 C408.7,466.0 408.1,466.6 407.4,467.2 C406.7,467.8 406.1,468.4 405.4,469.0 C404.7,469.6 404.1,470.3 403.4,470.9 C402.7,471.6 402.1,472.2 401.4,472.9 C400.7,473.6 400.1,474.4 399.4,475.2 C398.7,475.9 398.1,476.8 397.4,477.6 C396.7,478.4 396.1,479.3 395.4,480.1 C394.7,481.0 394.1,481.9 393.4,482.8 C392.7,483.6 392.1,484.5 391.4,485.4 C390.7,486.3 390.1,487.2 389.4,488.1 C388.7,489.0 388.1,489.9 387.4,490.8 C386.7,491.7 386.1,492.6 385.4,493.5 C384.7,494.4 384.1,495.4 383.4,496.3 C382.7,497.2 382.1,498.2 381.4,499.2 C380.7,500.2 380.1,501.2 379.4,502.2 C378.7,503.2 378.1,504.2 377.4,505.3 C376.7,506.4 376.1,507.5 375.4,508.6 C374.7,509.8 374.1,511.0 373.4,512.2 C372.7,513.5 372.1,514.9 371.4,516.3 C370.7,517.7 370.1,519.1 369.4,520.5 C368.7,521.9 368.1,523.4 367.4,524.8 C366.7,526.1 366.1,527.5 365.4,528.8 C364.7,530.0 364.1,531.2 363.4,532.4 C362.7,533.6 362.1,534.9 361.4,536.1 C360.7,537.3 360.1,538.4 359.4,539.6 C358.7,540.8 358.1,542.0 357.4,543.1 C356.7,544.3 356.1,545.4 355.4,546.5 C354.7,547.6 354.1,548.7 353.4,549.8 C352.7,550.9 352.1,552.0 351.4,553.0 C350.7,554.1 350.1,555.1 349.4,556.1 C348.7,557.1 348.1,558.1 347.4,559.0 C346.7,560.0 346.1,560.9 345.4,561.8 C344.7,562.7 344.1,563.5 343.4,564.4 C342.7,565.2 342.1,566.0 341.4,566.7 C340.7,567.5 340.1,568.3 339.4,569.1 C338.7,569.8 338.1,570.6 337.4,571.4 C336.7,572.2 336.1,572.9 335.4,573.8 C334.7,574.6 334.1,575.5 333.4,576.5 C332.7,577.4 332.1,578.4 331.4,579.3 C330.7,580.3 330.1,581.3 329.4,582.3 C328.7,583.3 328.1,584.2 327.4,585.1 C326.7,586.0 326.1,586.9 325.4,587.7 C324.7,588.5 324.1,589.1 323.4,589.8 C322.7,590.4 322.1,591.1 321.4,591.6 C320.7,592.2 320.1,592.8 319.4,593.2 C318.7,593.6 318.1,594.0 317.4,594.3 C316.7,594.6 316.1,594.9 315.4,595.2 C314.7,595.5 314.1,595.7 313.4,595.8 C312.7,596.0 312.1,596.1 311.4,595.9 C310.7,595.8 310.1,595.3 309.4,594.9 C308.7,594.4 308.1,593.8 307.4,593.3 C306.7,592.8 306.1,592.3 305.4,591.8 C304.7,591.2 304.1,590.6 303.4,590.0 C302.7,589.4 302.1,588.9 301.4,588.3 C300.7,587.7 300.1,587.1 299.4,586.5 C298.7,585.9 298.1,585.3 297.4,584.7 C296.7,584.1 296.1,583.6 295.4,583.0 C294.7,582.4 294.1,581.9 293.4,581.3 C292.7,580.7 292.1,580.2 291.4,579.6 C290.7,579.1 290.1,578.5 289.4,578.0 C288.7,577.4 288.1,576.9 287.4,576.4 C286.7,575.8 286.1,575.3 285.4,574.8 C284.7,574.3 284.1,573.8 283.4,573.3 C282.7,572.8 282.1,572.3 281.4,571.8 C280.7,571.3 280.1,570.8 279.4,570.3 C278.7,569.8 278.1,569.4 277.4,568.9 C276.7,568.4 276.1,567.9 275.4,567.5 C274.7,567.0 274.1,566.5 273.4,566.1 C272.7,565.6 272.1,565.1 271.4,564.7 C270.7,564.2 270.1,563.8 269.4,563.3 C268.7,562.9 268.1,562.4 267.4,561.9 C266.7,561.5 266.1,561.0 265.4,560.6 C264.7,560.1 264.1,559.7 263.4,559.2 C262.7,558.7 262.1,558.2 261.4,557.7 C260.7,557.2 260.1,556.8 259.4,556.3 C258.7,555.8 258.1,555.3 257.4,554.8 C256.7,554.4 256.1,553.9 255.4,553.5 C254.7,553.0 254.1,552.6 253.4,552.2 C252.7,551.8 252.1,551.4 251.4,551.1 C250.7,550.7 250.1,550.4 249.4,550.1 C248.7,549.9 248.1,549.6 247.4,549.3 C246.7,549.1 246.1,548.9 245.4,548.6 C244.7,548.4 244.1,548.2 243.4,548.0 C242.7,547.8 242.1,547.6 241.4,547.4 C240.7,547.2 240.1,547.0 239.4,546.8 C238.7,546.6 238.1,546.4 237.4,546.2 C236.7,546.0 236.1,545.8 235.4,545.5 C234.7,545.3 234.1,545.1 233.4,544.8 C232.7,544.5 232.1,544.3 231.4,544.0 C230.7,543.7 230.1,543.4 229.4,543.0 C228.7,542.7 228.1,542.4 227.4,542.1 C226.7,541.8 226.1,541.5 225.4,541.3 C224.7,541.0 224.1,540.7 223.4,540.5 C222.7,540.3 222.1,540.1 221.4,539.9 C220.7,539.8 220.1,539.6 219.4,539.6 C218.7,539.5 218.1,539.5 217.4,539.5 C216.7,539.5 216.1,539.5 215.4,539.5 C214.7,539.5 214.1,539.5 213.4,539.5 C212.7,539.5 212.1,539.5 211.4,539.5 C210.7,539.5 210.1,539.5 209.4,539.5 C208.7,539.5 208.1,539.5 207.4,539.5 C206.7,539.5 205.9,539.5 205.4,539.5 C204.9,539.5 204.7,539.5 204.5,539.5"/>
<path d="M203.7,535.6 C204.3,533.3 206.8,525.0 207.4,522.1 C208.1,519.2 207.5,519.5 207.7,518.2 C207.9,516.9 208.3,515.6 208.6,514.3 C208.9,513.0 209.1,511.9 209.6,510.4 C210.0,508.9 210.6,507.1 211.2,505.4 C211.8,503.8 212.4,502.2 213.1,500.5 C213.8,498.9 214.7,497.2 215.5,495.5 C216.4,493.9 217.3,492.2 218.2,490.6 C219.1,488.9 220.1,487.2 221.1,485.6 C222.0,483.9 223.0,482.1 224.1,480.7 C225.1,479.2 226.2,478.3 227.3,476.9 C228.5,475.5 229.9,473.7 231.2,472.3 C232.6,470.8 233.9,469.6 235.3,468.4 C236.7,467.1 237.9,466.0 239.5,464.7 C241.1,463.4 242.9,462.0 244.8,460.6 C246.7,459.2 248.1,458.3 250.8,456.5 C253.5,454.7 257.5,452.2 260.9,450.0 C264.2,447.8 266.7,446.2 270.9,443.5 C275.1,440.8 280.9,436.7 285.9,433.7 C290.9,430.8 295.6,428.1 300.8,425.7 C305.9,423.3 312.4,421.2 316.8,419.4 C321.1,417.5 323.5,416.3 326.9,414.4 C330.3,412.4 334.8,409.0 337.0,407.5 C339.2,406.1 339.0,406.3 340.0,405.6 C341.0,405.0 342.0,404.2 343.0,403.4 C344.0,402.6 345.0,401.8 346.0,400.9 C347.0,400.1 348.0,399.3 349.0,398.4 C350.0,397.6 351.0,396.7 352.0,395.8 C353.0,394.9 354.0,393.9 355.0,392.9 C356.0,391.9 357.0,390.9 358.0,389.9 C359.0,388.9 360.0,387.8 361.0,386.7 C362.0,385.6 363.0,384.5 364.0,383.3 C365.0,382.2 366.0,381.0 367.0,379.7 C368.0,378.4 369.0,376.9 370.0,375.5 C371.0,374.0 372.0,372.4 373.0,370.8 C374.0,369.3 375.0,367.7 376.0,366.1 C377.0,364.6 378.0,363.0 379.0,361.6 C380.0,360.1 381.0,358.8 382.0,357.5 C383.0,356.2 384.0,355.0 385.0,353.9 C386.0,352.7 387.0,351.6 388.0,350.5 C389.0,349.5 390.0,348.5 391.0,347.5 C392.0,346.6 393.0,345.7 394.0,344.8 C395.0,343.9 396.0,343.1 397.0,342.2 C398.0,341.4 399.0,340.6 400.0,339.8 C401.0,339.0 402.0,338.3 403.0,337.5 C404.0,336.8 405.0,336.1 406.0,335.4 C407.0,334.7 408.0,334.0 409.0,333.4 C410.0,332.8 411.0,332.2 412.0,331.7 C413.0,331.2 414.0,330.6 415.0,330.2 C416.0,329.7 417.0,329.3 418.0,328.9 C419.0,328.6 420.0,328.2 421.0,328.0 C422.0,327.7 423.0,327.4 424.0,327.2 C425.0,327.1 426.0,326.9 427.0,326.8 C428.0,326.7 429.0,326.7 430.0,326.6 C431.0,326.6 432.0,326.6 433.0,326.6 C434.0,326.5 435.0,326.5 436.0,326.5 C437.0,326.5 438.0,326.5 439.0,326.5 C440.0,326.5 441.0,326.4 442.0,326.4 C443.0,326.5 444.0,326.5 445.0,326.5 C446.0,326.6 447.0,326.6 448.0,326.7 C449.0,326.7 450.0,326.7 451.0,326.8 C452.0,326.9 453.0,327.0 454.0,327.1 C455.0,327.3 456.0,327.5 457.0,327.7 C458.0,328.0 459.0,328.2 460.0,328.5 C461.0,328.8 462.0,329.1 463.0,329.5 C464.0,329.8 465.0,330.2 466.0,330.6 C467.0,331.0 468.0,331.4 469.0,331.9 C470.0,332.3 471.0,332.8 472.0,333.3 C473.0,333.7 474.0,334.2 475.0,334.7 C476.0,335.1 477.0,335.5 478.0,335.9 C479.0,336.3 480.0,336.6 481.0,337.0 C482.0,337.4 483.0,337.7 484.0,338.1 C485.0,338.4 486.0,338.8 487.0,339.1 C488.0,339.4 489.0,339.8 490.0,340.1 C491.0,340.4 492.0,340.7 493.0,341.0 C494.0,341.3 495.0,341.5 496.0,341.8 C497.0,342.1 498.0,342.3 499.0,342.6 C500.0,342.8 501.0,343.0 502.0,343.2 C503.0,343.4 504.0,343.6 505.0,343.7 C506.0,343.9 507.0,344.1 508.0,344.2 C509.0,344.4 510.0,344.5 511.0,344.7 C512.0,344.8 513.0,344.9 514.0,345.0 C515.0,345.1 516.0,345.1 517.0,345.2 C518.0,345.3 519.0,345.3 520.0,345.4 C521.0,345.4 522.0,345.5 523.0,345.5 C524.0,345.5 525.0,345.6 526.0,345.6 C527.0,345.6 528.0,345.6 529.0,345.6 C530.0,345.6 531.0,345.6 532.0,345.6 C533.0,345.6 534.0,345.5 535.0,345.5 C536.0,345.4 537.0,345.4 538.0,345.3 C539.0,345.2 540.0,345.2 541.0,345.1 C542.0,345.0 543.0,345.0 544.0,344.9 C545.0,344.9 546.0,344.8 547.0,344.7 C548.0,344.7 549.0,344.6 550.0,344.6 C551.0,344.5 552.0,344.4 553.0,344.3 C554.0,344.2 555.0,344.0 556.0,343.8 C557.0,343.7 558.0,343.5 559.0,343.3 C560.0,343.1 561.0,343.0 562.0,342.8 C563.0,342.6 564.0,342.4 565.0,342.2 C566.0,342.0 567.0,341.8 568.0,341.6 C569.0,341.4 570.0,341.2 571.0,341.0 C572.0,340.8 573.0,340.6 574.0,340.4 C575.0,340.2 576.0,340.0 577.0,339.8 C578.0,339.5 579.0,339.3 580.0,339.1 C581.0,338.9 582.0,338.7 583.0,338.4 C584.0,338.2 585.0,338.0 586.0,337.8 C587.0,337.6 588.0,337.3 589.0,337.1 C590.0,336.9 591.0,336.7 592.0,336.5 C593.0,336.3 594.0,336.1 595.0,335.9 C596.0,335.7 597.0,335.5 598.0,335.3 C599.0,335.2 600.0,335.0 601.0,334.9 C602.0,334.8 603.0,334.6 604.0,334.5 C605.0,334.4 606.0,334.4 607.0,334.3 C608.0,334.2 609.0,334.1 610.0,334.0 C611.0,334.0 612.0,333.9 613.0,333.8 C614.0,333.8 615.0,333.7 616.0,333.6 C617.0,333.6 618.0,333.5 619.0,333.5 C620.0,333.4 621.0,333.4 622.0,333.4 C623.0,333.4 624.0,333.4 625.0,333.4 C626.0,333.5 627.0,333.5 628.0,333.5 C629.0,333.5 630.0,333.4 631.0,333.4 C632.0,333.3 633.0,333.1 634.0,333.0 C635.0,332.9 636.0,332.7 637.0,332.5 C638.0,332.4 639.0,332.2 640.0,332.0 C641.0,331.8 642.0,331.6 643.0,331.4 C644.0,331.2 645.0,331.0 646.0,330.8 C647.0,330.6 648.0,330.4 649.0,330.2 C650.0,330.0 651.0,329.9 652.0,329.7 C653.0,329.5 654.0,329.4 655.0,329.2 C656.0,329.1 657.0,328.9 658.0,328.8 C659.0,328.7 660.0,328.6 661.0,328.5 C662.0,328.4 663.0,328.3 664.0,328.2 C665.0,328.1 666.0,328.0 667.0,327.9 C668.0,327.8 669.0,327.7 670.0,327.6 C671.0,327.5 672.0,327.4 673.0,327.3 C674.0,327.1 675.0,327.0 676.0,326.9 C677.0,326.7 678.0,326.6 679.0,326.4 C680.0,326.3 681.0,326.2 682.0,326.0 C683.0,325.8 684.0,325.7 685.0,325.5 C686.0,325.3 687.0,325.1 688.0,324.9 C689.0,324.7 690.0,324.4 691.0,324.2 C692.0,324.0 693.0,323.7 694.0,323.5 C695.0,323.3 696.0,323.0 697.0,322.8 C698.0,322.5 699.0,322.3 700.0,322.0 C701.0,321.8 702.0,321.5 703.0,321.2 C704.0,320.9 705.0,320.7 706.0,320.4 C707.0,320.1 708.0,319.8 709.0,319.5 C710.0,319.2 711.0,318.9 712.0,318.5 C713.0,318.2 714.0,317.9 715.0,317.6 C716.0,317.2 717.0,316.9 718.0,316.6 C719.0,316.2 720.0,315.9 721.0,315.6 C722.0,315.3 723.0,314.9 724.0,314.6 C725.0,314.2 726.0,313.8 727.0,313.5 C728.0,313.1 729.0,312.7 730.0,312.4 C731.0,312.0 732.0,311.6 733.0,311.2 C734.0,310.9 735.0,310.5 736.0,310.1 C737.0,309.8 738.0,309.4 739.0,309.0 C740.0,308.6 741.0,308.2 742.0,307.8 C743.0,307.4 744.0,307.0 745.0,306.7 C746.0,306.3 747.0,305.9 748.0,305.5 C749.0,305.1 750.0,304.7 751.0,304.3 C752.0,303.9 753.0,303.5 754.0,303.0 C755.0,302.6 756.0,302.2 757.0,301.7 C758.0,301.3 759.0,300.8 760.0,300.3 C761.0,299.9 762.0,299.3 763.0,298.8 C764.0,298.3 765.0,297.7 766.0,297.2 C767.0,296.7 768.0,296.1 769.0,295.6 C770.0,295.1 771.0,294.6 772.0,294.0 C773.0,293.5 774.0,293.0 775.0,292.4 C776.0,291.9 777.0,291.3 778.0,290.7 C779.0,290.1 780.0,289.5 781.0,288.9 C782.0,288.3 783.0,287.7 784.0,287.1 C785.0,286.5 786.0,286.0 787.0,285.4 C788.0,284.8 789.0,284.2 790.0,283.5 C791.0,282.8 792.0,282.0 793.0,281.1 C794.0,280.2 795.0,279.2 796.0,278.2 C797.0,277.2 798.0,276.2 799.0,275.2 C800.0,274.2 801.0,273.1 802.0,272.0 C803.0,271.0 804.0,269.9 805.0,268.7 C806.0,267.6 807.0,266.4 808.0,265.2 C809.0,264.0 810.0,262.8 811.0,261.6 C812.0,260.3 813.0,259.1 814.0,257.9 C815.0,256.6 816.0,255.4 817.0,254.1 C818.0,252.8 819.0,251.6 820.0,250.3 C821.0,249.1 822.0,247.8 823.0,246.5 C824.0,245.3 825.0,244.0 826.0,242.7 C827.0,241.4 828.0,240.2 829.0,238.9 C830.0,237.6 831.0,236.3 832.0,235.0 C833.0,233.7 834.0,232.4 835.0,231.1 C836.0,229.8 837.0,228.6 838.0,227.3 C839.0,226.0 840.0,224.7 841.0,223.4 C842.0,222.1 843.0,220.8 844.0,219.5 C845.0,218.2 846.3,216.5 847.0,215.7 C847.7,214.8 847.7,214.8 848.0,214.4 C848.3,213.9 848.7,213.5 849.0,213.0 C849.3,212.6 849.7,212.1 850.0,211.7 C850.3,211.2 850.7,210.8 851.0,210.3 C851.3,209.9 851.7,209.4 852.0,209.0 C852.3,208.5 852.7,208.1 853.0,207.6 C853.3,207.1 853.7,206.6 854.0,206.1 C854.3,205.6 854.7,205.1 855.0,204.5 C855.3,204.0 855.6,203.6 856.0,202.9 C856.4,202.3 857.2,201.1 857.4,200.7 L857.4,200.7 C857.2,201.4 856.7,203.4 856.4,204.7 C856.1,206.0 855.7,207.4 855.4,208.7 C855.1,209.9 854.7,211.0 854.4,212.2 C854.1,213.3 853.7,214.6 853.4,215.7 C853.1,216.9 852.7,217.9 852.4,218.9 C852.1,220.0 851.7,221.0 851.4,222.0 C851.1,223.0 850.7,224.0 850.4,225.0 C850.1,226.0 849.7,226.9 849.4,227.9 C849.1,228.9 848.7,229.9 848.4,230.9 C848.1,231.9 847.7,232.9 847.4,233.9 C847.1,234.9 846.7,235.8 846.4,236.8 C846.1,237.7 846.1,237.7 845.4,239.5 C844.7,241.4 843.4,245.2 842.4,248.1 C841.4,250.9 840.4,253.9 839.4,256.7 C838.4,259.5 837.4,262.4 836.4,265.1 C835.4,267.8 834.4,270.4 833.4,273.0 C832.4,275.6 831.4,278.0 830.4,280.6 C829.4,283.1 828.4,285.7 827.4,288.3 C826.4,290.9 825.4,293.8 824.4,296.2 C823.4,298.6 822.4,300.6 821.4,302.9 C820.4,305.2 819.4,307.7 818.4,310.0 C817.4,312.4 816.4,314.8 815.4,316.9 C814.4,319.0 813.4,320.9 812.4,322.8 C811.4,324.7 810.4,326.6 809.4,328.4 C808.4,330.3 807.4,332.1 806.4,333.7 C805.4,335.3 804.4,336.8 803.4,338.2 C802.4,339.6 801.4,341.0 800.4,342.3 C799.4,343.7 798.4,345.0 797.4,346.4 C796.4,347.7 795.4,349.0 794.4,350.2 C793.4,351.4 792.4,352.4 791.4,353.5 C790.4,354.5 789.4,355.4 788.4,356.3 C787.4,357.3 786.4,358.2 785.4,359.1 C784.4,360.0 783.4,360.9 782.4,361.8 C781.4,362.7 780.4,363.5 779.4,364.3 C778.4,365.1 777.4,365.8 776.4,366.5 C775.4,367.2 774.4,367.9 773.4,368.6 C772.4,369.2 771.4,369.9 770.4,370.6 C769.4,371.2 768.4,371.9 767.4,372.4 C766.4,373.0 765.4,373.5 764.4,374.0 C763.4,374.5 762.4,375.0 761.4,375.5 C760.4,376.0 759.4,376.5 758.4,377.1 C757.4,377.6 756.4,378.2 755.4,378.8 C754.4,379.4 753.4,380.0 752.4,380.6 C751.4,381.2 750.4,381.8 749.4,382.4 C748.4,383.0 747.4,383.6 746.4,384.2 C745.4,384.7 744.4,385.3 743.4,385.8 C742.4,386.4 741.4,386.9 740.4,387.3 C739.4,387.7 738.4,388.1 737.4,388.4 C736.4,388.7 735.4,389.0 734.4,389.2 C733.4,389.5 732.4,389.8 731.4,390.0 C730.4,390.3 729.4,390.5 728.4,390.8 C727.4,391.0 726.4,391.3 725.4,391.5 C724.4,391.8 723.4,392.0 722.4,392.3 C721.4,392.5 720.4,392.9 719.4,393.2 C718.4,393.6 717.4,394.1 716.4,394.5 C715.4,395.0 714.4,395.5 713.4,396.0 C712.4,396.4 711.4,396.9 710.4,397.4 C709.4,397.9 708.4,398.3 707.4,398.8 C706.4,399.3 705.4,399.8 704.4,400.2 C703.4,400.7 702.4,401.2 701.4,401.6 C700.4,402.1 699.4,402.5 698.4,402.9 C697.4,403.3 696.4,403.6 695.4,404.0 C694.4,404.4 693.4,404.8 692.4,405.1 C691.4,405.5 690.4,405.9 689.4,406.3 C688.4,406.6 687.4,407.0 686.4,407.3 C685.4,407.7 684.4,408.0 683.4,408.4 C682.4,408.8 681.4,409.1 680.4,409.6 C679.4,410.1 678.4,410.6 677.4,411.1 C676.4,411.7 675.4,412.3 674.4,412.9 C673.4,413.5 672.4,414.1 671.4,414.6 C670.4,415.1 669.4,415.5 668.4,416.0 C667.4,416.4 666.4,416.7 665.4,417.0 C664.4,417.3 663.4,417.7 662.4,418.0 C661.4,418.3 660.4,418.7 659.4,419.1 C658.4,419.4 657.4,419.9 656.4,420.3 C655.4,420.7 654.4,421.1 653.4,421.5 C652.4,421.9 651.4,422.3 650.4,422.8 C649.4,423.3 648.4,423.9 647.4,424.5 C646.4,425.0 645.4,425.7 644.4,426.2 C643.4,426.8 642.4,427.5 641.4,428.0 C640.4,428.5 639.4,429.0 638.4,429.5 C637.4,429.9 636.4,430.3 635.4,430.7 C634.4,431.1 633.4,431.5 632.4,431.8 C631.4,432.2 630.4,432.4 629.4,432.7 C628.4,433.0 627.4,433.3 626.4,433.6 C625.4,433.9 624.4,434.1 623.4,434.4 C622.4,434.7 621.4,435.0 620.4,435.3 C619.4,435.6 618.4,435.9 617.4,436.1 C616.4,436.3 615.4,436.5 614.4,436.7 C613.4,436.9 612.4,437.0 611.4,437.2 C610.4,437.4 609.4,437.6 608.4,437.7 C607.4,437.9 606.4,438.1 605.4,438.3 C604.4,438.4 603.4,438.6 602.4,438.8 C601.4,439.0 600.4,439.2 599.4,439.4 C598.4,439.6 597.4,439.8 596.4,440.0 C595.4,440.2 594.4,440.3 593.4,440.5 C592.4,440.8 591.4,440.9 590.4,441.2 C589.4,441.4 588.4,441.7 587.4,442.0 C586.4,442.3 585.4,442.7 584.4,443.1 C583.4,443.5 582.4,443.8 581.4,444.2 C580.4,444.6 579.4,445.0 578.4,445.3 C577.4,445.7 576.4,446.1 575.4,446.5 C574.4,446.9 573.4,447.4 572.4,447.9 C571.4,448.4 570.4,448.9 569.4,449.4 C568.4,449.9 567.4,450.5 566.4,451.0 C565.4,451.5 564.4,452.0 563.4,452.6 C562.4,453.1 561.4,453.7 560.4,454.2 C559.4,454.7 558.4,455.3 557.4,455.9 C556.4,456.4 555.4,457.0 554.4,457.5 C553.4,458.0 552.4,458.5 551.4,459.0 C550.4,459.4 549.4,459.8 548.4,460.1 C547.4,460.5 546.4,460.7 545.4,461.0 C544.4,461.2 543.4,461.4 542.4,461.7 C541.4,461.9 540.4,462.1 539.4,462.3 C538.4,462.5 537.4,462.6 536.4,462.7 C535.4,462.8 534.4,462.8 533.4,462.8 C532.4,462.9 531.4,462.9 530.4,462.9 C529.4,462.9 528.4,462.9 527.4,462.9 C526.4,462.8 525.4,462.7 524.4,462.5 C523.4,462.4 522.4,462.2 521.4,462.0 C520.4,461.8 519.4,461.6 518.4,461.3 C517.4,461.1 516.4,460.8 515.4,460.5 C514.4,460.2 513.4,459.9 512.4,459.6 C511.4,459.2 510.4,458.9 509.4,458.6 C508.4,458.3 507.4,457.9 506.4,457.6 C505.4,457.3 504.4,457.0 503.4,456.6 C502.4,456.3 501.4,456.0 500.4,455.6 C499.4,455.3 498.4,455.0 497.4,454.7 C496.4,454.4 495.4,454.1 494.4,453.9 C493.4,453.7 492.4,453.5 491.4,453.3 C490.4,453.1 489.4,453.0 488.4,452.8 C487.4,452.6 486.4,452.5 485.4,452.3 C484.4,452.2 483.4,452.0 482.4,451.9 C481.4,451.8 480.4,451.6 479.4,451.5 C478.4,451.3 477.4,451.2 476.4,451.1 C475.4,450.9 474.4,450.8 473.4,450.7 C472.4,450.6 471.4,450.4 470.4,450.3 C469.4,450.2 468.4,450.1 467.4,450.0 C466.4,449.9 465.4,449.8 464.4,449.6 C463.4,449.5 462.4,449.4 461.4,449.4 C460.4,449.3 459.4,449.2 458.4,449.1 C457.4,449.0 456.4,449.0 455.4,448.9 C454.4,448.8 453.4,448.8 452.4,448.8 C451.4,448.7 450.4,448.8 449.4,448.8 C448.4,448.8 447.4,448.9 446.4,449.0 C445.4,449.0 444.2,449.1 443.4,449.2 C442.6,449.2 442.1,449.2 441.4,449.3 C440.7,449.4 440.1,449.6 439.4,449.8 C438.7,449.9 438.1,450.1 437.4,450.3 C436.7,450.5 436.1,450.7 435.4,450.8 C434.7,451.0 434.1,451.2 433.4,451.5 C432.7,451.7 432.1,451.9 431.4,452.1 C430.7,452.3 430.1,452.5 429.4,452.8 C428.7,453.0 428.1,453.2 427.4,453.5 C426.7,453.7 426.1,454.0 425.4,454.3 C424.7,454.5 424.1,454.8 423.4,455.1 C422.7,455.4 422.1,455.7 421.4,456.0 C420.7,456.3 420.1,456.6 419.4,456.9 C418.7,457.3 418.1,457.6 417.4,458.0 C416.7,458.4 416.1,458.8 415.4,459.2 C414.7,459.6 414.1,460.0 413.4,460.5 C412.7,460.9 412.1,461.4 411.4,461.9 C410.7,462.3 410.1,462.8 409.4,463.3 C408.7,463.9 408.1,464.4 407.4,464.9 C406.7,465.5 406.1,466.0 405.4,466.6 C404.7,467.2 404.1,467.7 403.4,468.3 C402.7,468.9 402.1,469.5 401.4,470.2 C400.7,470.8 400.1,471.5 399.4,472.2 C398.7,472.9 398.1,473.7 397.4,474.4 C396.7,475.2 396.1,476.0 395.4,476.8 C394.7,477.6 394.1,478.4 393.4,479.2 C392.7,480.0 392.1,480.8 391.4,481.7 C390.7,482.5 390.1,483.3 389.4,484.2 C388.7,485.0 388.1,485.8 387.4,486.7 C386.7,487.6 386.1,488.4 385.4,489.3 C384.7,490.2 384.1,491.1 383.4,492.0 C382.7,492.9 382.1,493.8 381.4,494.8 C380.7,495.7 380.1,496.7 379.4,497.7 C378.7,498.6 378.1,499.6 377.4,500.6 C376.7,501.6 376.1,502.6 375.4,503.7 C374.7,504.7 374.1,505.8 373.4,506.9 C372.7,508.0 372.1,509.2 371.4,510.4 C370.7,511.6 370.1,512.8 369.4,514.0 C368.7,515.2 368.1,516.5 367.4,517.7 C366.7,518.9 366.1,520.0 365.4,521.2 C364.7,522.4 364.1,523.5 363.4,524.7 C362.7,525.8 362.1,527.0 361.4,528.1 C360.7,529.3 360.1,530.5 359.4,531.6 C358.7,532.8 358.1,534.0 357.4,535.1 C356.7,536.3 356.1,537.4 355.4,538.6 C354.7,539.7 354.1,540.8 353.4,541.9 C352.7,543.1 352.1,544.2 351.4,545.2 C350.7,546.3 350.1,547.3 349.4,548.4 C348.7,549.4 348.1,550.4 347.4,551.3 C346.7,552.3 346.1,553.2 345.4,554.1 C344.7,555.0 344.1,555.9 343.4,556.7 C342.7,557.5 342.1,558.3 341.4,559.1 C340.7,559.9 340.1,560.7 339.4,561.5 C338.7,562.2 338.1,563.0 337.4,563.7 C336.7,564.5 336.1,565.3 335.4,566.0 C334.7,566.8 334.1,567.6 333.4,568.4 C332.7,569.2 332.1,570.0 331.4,570.8 C330.7,571.6 330.1,572.3 329.4,573.1 C328.7,573.9 328.1,574.7 327.4,575.4 C326.7,576.2 326.1,576.9 325.4,577.6 C324.7,578.3 324.1,578.9 323.4,579.6 C322.7,580.2 322.1,580.9 321.4,581.5 C320.7,582.1 320.1,582.7 319.4,583.2 C318.7,583.8 318.1,584.2 317.4,584.7 C316.7,585.2 316.1,585.8 315.4,586.3 C314.7,586.7 314.1,587.3 313.4,587.5 C312.7,587.7 312.1,587.8 311.4,587.7 C310.7,587.6 310.1,587.3 309.4,586.9 C308.7,586.6 308.1,586.1 307.4,585.7 C306.7,585.3 306.1,585.0 305.4,584.6 C304.7,584.2 304.1,583.8 303.4,583.4 C302.7,583.0 302.1,582.5 301.4,582.1 C300.7,581.7 300.1,581.3 299.4,580.9 C298.7,580.5 298.1,580.1 297.4,579.7 C296.7,579.3 296.1,578.9 295.4,578.4 C294.7,577.9 294.1,577.4 293.4,576.9 C292.7,576.4 292.1,575.9 291.4,575.4 C290.7,574.8 290.1,574.3 289.4,573.8 C288.7,573.2 288.1,572.7 287.4,572.2 C286.7,571.6 286.1,571.1 285.4,570.6 C284.7,570.1 284.1,569.6 283.4,569.1 C282.7,568.6 282.1,568.1 281.4,567.6 C280.7,567.0 280.1,566.5 279.4,566.0 C278.7,565.5 278.1,565.0 277.4,564.5 C276.7,564.0 276.1,563.4 275.4,562.9 C274.7,562.4 274.1,561.9 273.4,561.4 C272.7,561.0 272.1,560.5 271.4,560.0 C270.7,559.5 270.1,559.1 269.4,558.6 C268.7,558.1 268.1,557.7 267.4,557.3 C266.7,556.8 266.1,556.4 265.4,556.0 C264.7,555.6 264.1,555.3 263.4,554.9 C262.7,554.5 262.1,554.1 261.4,553.8 C260.7,553.4 260.1,553.1 259.4,552.7 C258.7,552.4 258.1,552.0 257.4,551.7 C256.7,551.4 256.1,551.0 255.4,550.7 C254.7,550.4 254.1,550.1 253.4,549.8 C252.7,549.5 252.1,549.2 251.4,548.9 C250.7,548.6 250.1,548.3 249.4,548.0 C248.7,547.8 248.1,547.5 247.4,547.2 C246.7,547.0 246.1,546.7 245.4,546.5 C244.7,546.2 244.1,546.0 243.4,545.7 C242.7,545.5 242.1,545.2 241.4,545.0 C240.7,544.8 240.1,544.5 239.4,544.3 C238.7,544.0 238.1,543.8 237.4,543.6 C236.7,543.3 236.1,543.1 235.4,542.8 C234.7,542.6 234.1,542.3 233.4,542.1 C232.7,541.8 232.1,541.5 231.4,541.2 C230.7,540.9 230.1,540.6 229.4,540.3 C228.7,540.0 228.1,539.7 227.4,539.4 C226.7,539.1 226.1,538.9 225.4,538.6 C224.7,538.3 224.1,538.1 223.4,537.8 C222.7,537.6 222.1,537.4 221.4,537.2 C220.7,537.0 220.1,536.8 219.4,536.7 C218.7,536.6 218.1,536.5 217.4,536.4 C216.7,536.4 216.1,536.3 215.4,536.2 C214.7,536.2 214.1,536.1 213.4,536.0 C212.7,536.0 212.1,535.9 211.4,535.9 C210.7,535.8 210.1,535.8 209.4,535.7 C208.7,535.7 208.1,535.7 207.4,535.7 C206.7,535.6 205.9,535.6 205.4,535.6 C204.9,535.6 204.7,535.6 204.5,535.6"/>
<path d="M203.7,533.8 C204.2,531.8 206.3,524.7 206.9,522.1 C207.5,519.4 207.0,519.4 207.2,518.1 C207.4,516.8 207.8,515.5 208.1,514.2 C208.4,512.9 208.6,511.7 209.1,510.2 C209.5,508.7 210.1,506.9 210.7,505.3 C211.3,503.6 211.9,502.0 212.7,500.3 C213.4,498.6 214.3,497.0 215.1,495.3 C216.0,493.7 216.9,492.0 217.8,490.3 C218.7,488.7 219.7,487.0 220.7,485.3 C221.7,483.7 222.7,481.8 223.7,480.4 C224.8,478.9 225.8,478.0 227.0,476.6 C228.2,475.2 229.6,473.4 230.9,472.0 C232.2,470.5 233.6,469.3 235.0,468.0 C236.4,466.7 237.6,465.6 239.2,464.3 C240.8,463.0 242.6,461.5 244.5,460.2 C246.4,458.8 247.8,457.8 250.5,456.0 C253.2,454.2 257.2,451.7 260.5,449.5 C263.9,447.3 266.4,445.6 270.5,442.9 C274.7,440.2 280.6,436.1 285.6,433.1 C290.5,430.1 295.3,427.4 300.5,425.0 C305.6,422.6 312.1,420.5 316.5,418.7 C320.8,416.8 323.1,415.7 326.5,413.7 C330.0,411.6 334.8,408.0 337.0,406.5 C339.2,404.9 339.0,405.2 340.0,404.4 C341.0,403.7 342.0,402.8 343.0,402.0 C344.0,401.2 345.0,400.3 346.0,399.4 C347.0,398.5 348.0,397.7 349.0,396.7 C350.0,395.8 351.0,394.9 352.0,393.9 C353.0,392.8 354.0,391.8 355.0,390.7 C356.0,389.6 357.0,388.5 358.0,387.3 C359.0,386.2 360.0,385.0 361.0,383.8 C362.0,382.6 363.0,381.3 364.0,380.0 C365.0,378.7 366.0,377.3 367.0,375.8 C368.0,374.4 369.0,372.8 370.0,371.1 C371.0,369.5 372.0,367.7 373.0,365.9 C374.0,364.2 375.0,362.4 376.0,360.7 C377.0,359.0 378.0,357.3 379.0,355.7 C380.0,354.1 381.0,352.6 382.0,351.2 C383.0,349.7 384.0,348.5 385.0,347.2 C386.0,345.9 387.0,344.6 388.0,343.5 C389.0,342.3 390.0,341.2 391.0,340.2 C392.0,339.1 393.0,338.1 394.0,337.2 C395.0,336.2 396.0,335.3 397.0,334.3 C398.0,333.4 399.0,332.5 400.0,331.7 C401.0,330.8 402.0,330.0 403.0,329.2 C404.0,328.4 405.0,327.5 406.0,326.8 C407.0,326.0 408.0,325.3 409.0,324.6 C410.0,324.0 411.0,323.3 412.0,322.8 C413.0,322.2 414.0,321.6 415.0,321.2 C416.0,320.7 417.0,320.2 418.0,319.9 C419.0,319.5 420.0,319.2 421.0,318.9 C422.0,318.6 423.0,318.4 424.0,318.3 C425.0,318.1 426.0,318.1 427.0,318.0 C428.0,318.0 429.0,318.0 430.0,318.1 C431.0,318.1 432.0,318.2 433.0,318.2 C434.0,318.3 435.0,318.4 436.0,318.4 C437.0,318.5 438.0,318.6 439.0,318.7 C440.0,318.7 441.0,318.8 442.0,318.9 C443.0,319.0 444.0,319.1 445.0,319.3 C446.0,319.5 447.0,319.6 448.0,319.8 C449.0,320.0 450.0,320.1 451.0,320.3 C452.0,320.5 453.0,320.7 454.0,321.0 C455.0,321.3 456.0,321.7 457.0,322.1 C458.0,322.5 459.0,322.9 460.0,323.4 C461.0,323.9 462.0,324.4 463.0,324.9 C464.0,325.4 465.0,325.9 466.0,326.5 C467.0,327.1 468.0,327.6 469.0,328.2 C470.0,328.8 471.0,329.4 472.0,330.0 C473.0,330.6 474.0,331.2 475.0,331.7 C476.0,332.3 477.0,332.7 478.0,333.2 C479.0,333.6 480.0,334.0 481.0,334.4 C482.0,334.9 483.0,335.3 484.0,335.7 C485.0,336.1 486.0,336.5 487.0,336.8 C488.0,337.2 489.0,337.6 490.0,338.0 C491.0,338.3 492.0,338.7 493.0,339.0 C494.0,339.3 495.0,339.6 496.0,339.9 C497.0,340.2 498.0,340.5 499.0,340.8 C500.0,341.1 501.0,341.3 502.0,341.5 C503.0,341.8 504.0,342.0 505.0,342.2 C506.0,342.4 507.0,342.6 508.0,342.8 C509.0,343.0 510.0,343.2 511.0,343.3 C512.0,343.5 513.0,343.6 514.0,343.7 C515.0,343.8 516.0,343.9 517.0,344.0 C518.0,344.0 519.0,344.1 520.0,344.2 C521.0,344.2 522.0,344.2 523.0,344.3 C524.0,344.3 525.0,344.3 526.0,344.3 C527.0,344.3 528.0,344.4 529.0,344.4 C530.0,344.4 531.0,344.4 532.0,344.3 C533.0,344.3 534.0,344.2 535.0,344.2 C536.0,344.1 537.0,344.0 538.0,343.9 C539.0,343.8 540.0,343.7 541.0,343.6 C542.0,343.6 543.0,343.5 544.0,343.4 C545.0,343.3 546.0,343.3 547.0,343.2 C548.0,343.1 549.0,343.1 550.0,343.0 C551.0,342.9 552.0,342.8 553.0,342.7 C554.0,342.6 555.0,342.4 556.0,342.2 C557.0,342.0 558.0,341.8 559.0,341.6 C560.0,341.4 561.0,341.2 562.0,340.9 C563.0,340.7 564.0,340.5 565.0,340.3 C566.0,340.1 567.0,339.8 568.0,339.6 C569.0,339.3 570.0,339.1 571.0,338.9 C572.0,338.6 573.0,338.4 574.0,338.1 C575.0,337.9 576.0,337.6 577.0,337.4 C578.0,337.1 579.0,336.8 580.0,336.6 C581.0,336.3 582.0,336.1 583.0,335.8 C584.0,335.5 585.0,335.3 586.0,335.0 C587.0,334.8 588.0,334.6 589.0,334.3 C590.0,334.1 591.0,333.9 592.0,333.7 C593.0,333.4 594.0,333.2 595.0,333.0 C596.0,332.8 597.0,332.6 598.0,332.4 C599.0,332.2 600.0,332.1 601.0,332.0 C602.0,331.9 603.0,331.8 604.0,331.7 C605.0,331.6 606.0,331.6 607.0,331.5 C608.0,331.5 609.0,331.4 610.0,331.4 C611.0,331.4 612.0,331.3 613.0,331.3 C614.0,331.3 615.0,331.3 616.0,331.2 C617.0,331.2 618.0,331.2 619.0,331.2 C620.0,331.1 621.0,331.1 622.0,331.2 C623.0,331.2 624.0,331.2 625.0,331.2 C626.0,331.3 627.0,331.3 628.0,331.3 C629.0,331.3 630.0,331.3 631.0,331.2 C632.0,331.1 633.0,331.0 634.0,330.8 C635.0,330.7 636.0,330.5 637.0,330.4 C638.0,330.2 639.0,330.0 640.0,329.8 C641.0,329.6 642.0,329.4 643.0,329.2 C644.0,329.0 645.0,328.8 646.0,328.6 C647.0,328.4 648.0,328.2 649.0,328.0 C650.0,327.9 651.0,327.7 652.0,327.5 C653.0,327.3 654.0,327.2 655.0,327.0 C656.0,326.9 657.0,326.8 658.0,326.6 C659.0,326.5 660.0,326.4 661.0,326.3 C662.0,326.2 663.0,326.1 664.0,326.0 C665.0,325.9 666.0,325.8 667.0,325.8 C668.0,325.7 669.0,325.6 670.0,325.5 C671.0,325.4 672.0,325.2 673.0,325.1 C674.0,325.0 675.0,324.8 676.0,324.7 C677.0,324.6 678.0,324.4 679.0,324.3 C680.0,324.2 681.0,324.0 682.0,323.9 C683.0,323.7 684.0,323.6 685.0,323.4 C686.0,323.2 687.0,323.0 688.0,322.8 C689.0,322.5 690.0,322.3 691.0,322.1 C692.0,321.8 693.0,321.6 694.0,321.4 C695.0,321.1 696.0,320.9 697.0,320.7 C698.0,320.4 699.0,320.2 700.0,319.9 C701.0,319.7 702.0,319.4 703.0,319.1 C704.0,318.8 705.0,318.5 706.0,318.2 C707.0,317.9 708.0,317.7 709.0,317.3 C710.0,317.0 711.0,316.7 712.0,316.4 C713.0,316.1 714.0,315.7 715.0,315.4 C716.0,315.1 717.0,314.7 718.0,314.4 C719.0,314.1 720.0,313.8 721.0,313.4 C722.0,313.1 723.0,312.7 724.0,312.4 C725.0,312.0 726.0,311.7 727.0,311.3 C728.0,310.9 729.0,310.5 730.0,310.2 C731.0,309.8 732.0,309.4 733.0,309.0 C734.0,308.6 735.0,308.2 736.0,307.8 C737.0,307.4 738.0,307.0 739.0,306.6 C740.0,306.2 741.0,305.8 742.0,305.4 C743.0,304.9 744.0,304.5 745.0,304.1 C746.0,303.6 747.0,303.2 748.0,302.8 C749.0,302.4 750.0,301.9 751.0,301.5 C752.0,301.0 753.0,300.5 754.0,300.0 C755.0,299.5 756.0,299.0 757.0,298.5 C758.0,298.0 759.0,297.5 760.0,296.9 C761.0,296.3 762.0,295.7 763.0,295.1 C764.0,294.5 765.0,293.9 766.0,293.2 C767.0,292.6 768.0,292.0 769.0,291.3 C770.0,290.7 771.0,290.1 772.0,289.5 C773.0,288.8 774.0,288.2 775.0,287.5 C776.0,286.8 777.0,286.1 778.0,285.4 C779.0,284.7 780.0,284.0 781.0,283.3 C782.0,282.6 783.0,281.9 784.0,281.2 C785.0,280.5 786.0,279.8 787.0,279.1 C788.0,278.3 789.0,277.6 790.0,276.8 C791.0,276.0 792.0,275.0 793.0,274.0 C794.0,273.0 795.0,271.9 796.0,270.8 C797.0,269.7 798.0,268.6 799.0,267.5 C800.0,266.3 801.0,265.2 802.0,264.0 C803.0,262.8 804.0,261.6 805.0,260.3 C806.0,259.1 807.0,257.8 808.0,256.5 C809.0,255.2 810.0,253.9 811.0,252.5 C812.0,251.1 813.0,249.8 814.0,248.4 C815.0,247.0 816.0,245.6 817.0,244.2 C818.0,242.8 819.0,241.4 820.0,240.0 C821.0,238.6 822.0,237.2 823.0,235.8 C824.0,234.4 825.0,233.0 826.0,231.6 C827.0,230.2 828.0,228.9 829.0,227.4 C830.0,226.0 831.0,224.6 832.0,223.2 C833.0,221.7 834.0,220.3 835.0,218.9 C836.0,217.4 837.0,216.0 838.0,214.6 C839.0,213.1 840.0,211.7 841.0,210.3 C842.0,208.8 843.0,207.4 844.0,206.0 C845.0,204.5 846.3,202.6 847.0,201.7 C847.7,200.7 847.7,200.7 848.0,200.2 C848.3,199.8 848.7,199.3 849.0,198.8 C849.3,198.3 849.7,197.8 850.0,197.3 C850.3,196.8 850.7,196.3 851.0,195.8 C851.3,195.3 851.7,194.8 852.0,194.3 C852.3,193.8 852.7,193.4 853.0,192.9 C853.3,192.4 853.7,191.8 854.0,191.3 C854.3,190.7 854.7,190.2 855.0,189.6 C855.3,189.0 855.6,188.6 856.0,187.9 C856.4,187.2 857.2,185.9 857.4,185.5 L857.4,185.5 C857.2,186.2 856.7,188.3 856.4,189.6 C856.1,191.0 855.7,192.4 855.4,193.6 C855.1,194.9 854.7,196.0 854.4,197.3 C854.1,198.5 853.7,199.9 853.4,201.1 C853.1,202.3 852.7,203.4 852.4,204.6 C852.1,205.7 851.7,206.8 851.4,207.9 C851.1,209.0 850.7,210.1 850.4,211.2 C850.1,212.2 849.7,213.3 849.4,214.4 C849.1,215.5 848.7,216.5 848.4,217.6 C848.1,218.7 847.7,219.8 847.4,220.9 C847.1,221.9 846.7,223.0 846.4,224.0 C846.1,225.0 846.1,225.0 845.4,227.0 C844.7,228.9 843.4,233.0 842.4,235.9 C841.4,238.8 840.4,241.7 839.4,244.6 C838.4,247.5 837.4,250.3 836.4,253.1 C835.4,255.8 834.4,258.6 833.4,261.3 C832.4,264.0 831.4,266.6 830.4,269.3 C829.4,272.0 828.4,274.7 827.4,277.5 C826.4,280.2 825.4,283.2 824.4,285.7 C823.4,288.3 822.4,290.4 821.4,292.9 C820.4,295.3 819.4,298.0 818.4,300.4 C817.4,302.9 816.4,305.5 815.4,307.7 C814.4,310.0 813.4,311.9 812.4,314.0 C811.4,316.0 810.4,318.0 809.4,320.0 C808.4,321.9 807.4,323.8 806.4,325.6 C805.4,327.3 804.4,328.9 803.4,330.5 C802.4,332.0 801.4,333.5 800.4,335.0 C799.4,336.5 798.4,338.0 797.4,339.4 C796.4,340.9 795.4,342.4 794.4,343.7 C793.4,345.1 792.4,346.3 791.4,347.5 C790.4,348.8 789.4,349.9 788.4,351.0 C787.4,352.2 786.4,353.3 785.4,354.4 C784.4,355.6 783.4,356.7 782.4,357.8 C781.4,358.9 780.4,360.0 779.4,361.0 C778.4,362.0 777.4,362.9 776.4,363.7 C775.4,364.6 774.4,365.4 773.4,366.2 C772.4,367.0 771.4,367.8 770.4,368.5 C769.4,369.2 768.4,370.0 767.4,370.6 C766.4,371.2 765.4,371.8 764.4,372.3 C763.4,372.9 762.4,373.3 761.4,373.9 C760.4,374.4 759.4,375.0 758.4,375.5 C757.4,376.1 756.4,376.7 755.4,377.3 C754.4,377.9 753.4,378.6 752.4,379.2 C751.4,379.8 750.4,380.4 749.4,381.1 C748.4,381.7 747.4,382.3 746.4,382.8 C745.4,383.4 744.4,384.0 743.4,384.6 C742.4,385.1 741.4,385.7 740.4,386.1 C739.4,386.6 738.4,386.9 737.4,387.3 C736.4,387.6 735.4,387.9 734.4,388.2 C733.4,388.5 732.4,388.8 731.4,389.1 C730.4,389.4 729.4,389.7 728.4,389.9 C727.4,390.2 726.4,390.5 725.4,390.7 C724.4,391.0 723.4,391.2 722.4,391.6 C721.4,391.9 720.4,392.2 719.4,392.6 C718.4,393.0 717.4,393.5 716.4,394.0 C715.4,394.4 714.4,394.9 713.4,395.4 C712.4,395.9 711.4,396.4 710.4,396.9 C709.4,397.4 708.4,397.9 707.4,398.4 C706.4,398.8 705.4,399.3 704.4,399.8 C703.4,400.3 702.4,400.8 701.4,401.2 C700.4,401.7 699.4,402.1 698.4,402.5 C697.4,402.9 696.4,403.3 695.4,403.7 C694.4,404.1 693.4,404.5 692.4,404.8 C691.4,405.2 690.4,405.6 689.4,406.0 C688.4,406.3 687.4,406.7 686.4,407.0 C685.4,407.4 684.4,407.7 683.4,408.1 C682.4,408.4 681.4,408.8 680.4,409.2 C679.4,409.7 678.4,410.2 677.4,410.8 C676.4,411.3 675.4,411.9 674.4,412.5 C673.4,413.0 672.4,413.6 671.4,414.1 C670.4,414.6 669.4,415.1 668.4,415.5 C667.4,415.9 666.4,416.2 665.4,416.5 C664.4,416.9 663.4,417.2 662.4,417.5 C661.4,417.8 660.4,418.2 659.4,418.5 C658.4,418.9 657.4,419.3 656.4,419.7 C655.4,420.1 654.4,420.5 653.4,420.9 C652.4,421.3 651.4,421.7 650.4,422.2 C649.4,422.6 648.4,423.2 647.4,423.7 C646.4,424.2 645.4,424.8 644.4,425.4 C643.4,425.9 642.4,426.5 641.4,427.0 C640.4,427.5 639.4,428.0 638.4,428.4 C637.4,428.8 636.4,429.2 635.4,429.5 C634.4,429.9 633.4,430.2 632.4,430.5 C631.4,430.9 630.4,431.1 629.4,431.4 C628.4,431.7 627.4,431.9 626.4,432.2 C625.4,432.4 624.4,432.7 623.4,433.0 C622.4,433.2 621.4,433.5 620.4,433.8 C619.4,434.0 618.4,434.3 617.4,434.5 C616.4,434.7 615.4,434.8 614.4,435.0 C613.4,435.2 612.4,435.3 611.4,435.5 C610.4,435.7 609.4,435.8 608.4,436.0 C607.4,436.2 606.4,436.3 605.4,436.5 C604.4,436.6 603.4,436.8 602.4,437.0 C601.4,437.1 600.4,437.3 599.4,437.5 C598.4,437.7 597.4,437.8 596.4,438.0 C595.4,438.2 594.4,438.4 593.4,438.5 C592.4,438.7 591.4,438.9 590.4,439.1 C589.4,439.3 588.4,439.6 587.4,439.9 C586.4,440.2 585.4,440.5 584.4,440.8 C583.4,441.2 582.4,441.5 581.4,441.8 C580.4,442.2 579.4,442.5 578.4,442.8 C577.4,443.2 576.4,443.5 575.4,443.9 C574.4,444.3 573.4,444.7 572.4,445.1 C571.4,445.6 570.4,446.0 569.4,446.5 C568.4,447.0 567.4,447.4 566.4,447.9 C565.4,448.4 564.4,448.9 563.4,449.4 C562.4,449.8 561.4,450.3 560.4,450.8 C559.4,451.3 558.4,451.8 557.4,452.3 C556.4,452.9 555.4,453.4 554.4,453.9 C553.4,454.3 552.4,454.8 551.4,455.2 C550.4,455.6 549.4,456.0 548.4,456.3 C547.4,456.6 546.4,456.9 545.4,457.1 C544.4,457.4 543.4,457.6 542.4,457.9 C541.4,458.1 540.4,458.3 539.4,458.5 C538.4,458.7 537.4,458.8 536.4,458.9 C535.4,459.0 534.4,459.1 533.4,459.1 C532.4,459.2 531.4,459.3 530.4,459.3 C529.4,459.3 528.4,459.4 527.4,459.3 C526.4,459.3 525.4,459.2 524.4,459.1 C523.4,459.0 522.4,458.9 521.4,458.7 C520.4,458.6 519.4,458.4 518.4,458.2 C517.4,458.0 516.4,457.8 515.4,457.6 C514.4,457.4 513.4,457.1 512.4,456.8 C511.4,456.6 510.4,456.3 509.4,456.1 C508.4,455.8 507.4,455.6 506.4,455.3 C505.4,455.0 504.4,454.8 503.4,454.5 C502.4,454.2 501.4,454.0 500.4,453.7 C499.4,453.5 498.4,453.2 497.4,453.0 C496.4,452.7 495.4,452.5 494.4,452.3 C493.4,452.1 492.4,452.0 491.4,451.8 C490.4,451.7 489.4,451.6 488.4,451.4 C487.4,451.3 486.4,451.2 485.4,451.0 C484.4,450.9 483.4,450.8 482.4,450.7 C481.4,450.6 480.4,450.5 479.4,450.3 C478.4,450.2 477.4,450.1 476.4,450.0 C475.4,449.9 474.4,449.8 473.4,449.7 C472.4,449.6 471.4,449.5 470.4,449.4 C469.4,449.3 468.4,449.2 467.4,449.1 C466.4,449.1 465.4,449.0 464.4,448.9 C463.4,448.8 462.4,448.7 461.4,448.6 C460.4,448.6 459.4,448.5 458.4,448.5 C457.4,448.4 456.4,448.3 455.4,448.3 C454.4,448.3 453.4,448.2 452.4,448.2 C451.4,448.2 450.4,448.2 449.4,448.3 C448.4,448.3 447.4,448.4 446.4,448.5 C445.4,448.5 444.2,448.6 443.4,448.7 C442.6,448.7 442.1,448.7 441.4,448.8 C440.7,448.9 440.1,449.1 439.4,449.2 C438.7,449.4 438.1,449.6 437.4,449.7 C436.7,449.9 436.1,450.1 435.4,450.2 C434.7,450.4 434.1,450.6 433.4,450.8 C432.7,451.0 432.1,451.2 431.4,451.4 C430.7,451.6 430.1,451.8 429.4,452.0 C428.7,452.2 428.1,452.4 427.4,452.6 C426.7,452.8 426.1,453.0 425.4,453.3 C424.7,453.5 424.1,453.7 423.4,454.0 C422.7,454.2 422.1,454.5 421.4,454.8 C420.7,455.0 420.1,455.3 419.4,455.6 C418.7,455.9 418.1,456.2 417.4,456.5 C416.7,456.8 416.1,457.2 415.4,457.5 C414.7,457.9 414.1,458.3 413.4,458.7 C412.7,459.1 412.1,459.5 411.4,459.9 C410.7,460.3 410.1,460.8 409.4,461.2 C408.7,461.7 408.1,462.1 407.4,462.6 C406.7,463.1 406.1,463.6 405.4,464.1 C404.7,464.6 404.1,465.1 403.4,465.6 C402.7,466.1 402.1,466.6 401.4,467.2 C400.7,467.8 400.1,468.4 399.4,469.0 C398.7,469.7 398.1,470.3 397.4,471.0 C396.7,471.7 396.1,472.4 395.4,473.1 C394.7,473.8 394.1,474.5 393.4,475.2 C392.7,476.0 392.1,476.7 391.4,477.4 C390.7,478.1 390.1,478.8 389.4,479.5 C388.7,480.2 388.1,480.9 387.4,481.6 C386.7,482.3 386.1,483.0 385.4,483.7 C384.7,484.4 384.1,485.1 383.4,485.9 C382.7,486.6 382.1,487.3 381.4,488.1 C380.7,488.8 380.1,489.6 379.4,490.4 C378.7,491.2 378.1,492.0 377.4,492.9 C376.7,493.7 376.1,494.6 375.4,495.5 C374.7,496.5 374.1,497.5 373.4,498.6 C372.7,499.6 372.1,500.8 371.4,502.1 C370.7,503.3 370.1,504.5 369.4,505.8 C368.7,507.1 368.1,508.4 367.4,509.6 C366.7,510.8 366.1,512.0 365.4,513.1 C364.7,514.3 364.1,515.3 363.4,516.4 C362.7,517.5 362.1,518.6 361.4,519.6 C360.7,520.7 360.1,521.8 359.4,522.8 C358.7,523.9 358.1,524.9 357.4,525.9 C356.7,527.0 356.1,528.0 355.4,529.0 C354.7,530.0 354.1,531.0 353.4,532.0 C352.7,533.0 352.1,533.9 351.4,534.9 C350.7,535.9 350.1,536.8 349.4,537.8 C348.7,538.7 348.1,539.6 347.4,540.5 C346.7,541.4 346.1,542.3 345.4,543.2 C344.7,544.1 344.1,544.9 343.4,545.7 C342.7,546.6 342.1,547.4 341.4,548.2 C340.7,549.0 340.1,549.8 339.4,550.5 C338.7,551.3 338.1,552.1 337.4,552.9 C336.7,553.7 336.1,554.4 335.4,555.2 C334.7,556.0 334.1,556.8 333.4,557.6 C332.7,558.4 332.1,559.3 331.4,560.1 C330.7,560.9 330.1,561.7 329.4,562.5 C328.7,563.3 328.1,564.1 327.4,564.8 C326.7,565.6 326.1,566.3 325.4,567.1 C324.7,567.8 324.1,568.4 323.4,569.1 C322.7,569.7 322.1,570.4 321.4,571.0 C320.7,571.6 320.1,572.2 319.4,572.7 C318.7,573.3 318.1,573.7 317.4,574.2 C316.7,574.7 316.1,575.3 315.4,575.8 C314.7,576.2 314.1,576.7 313.4,577.0 C312.7,577.2 312.1,577.3 311.4,577.3 C310.7,577.2 310.1,577.0 309.4,576.8 C308.7,576.6 308.1,576.3 307.4,576.1 C306.7,575.9 306.1,575.8 305.4,575.7 C304.7,575.5 304.1,575.5 303.4,575.3 C302.7,575.2 302.1,575.0 301.4,574.8 C300.7,574.7 300.1,574.5 299.4,574.2 C298.7,574.0 298.1,573.8 297.4,573.5 C296.7,573.2 296.1,572.9 295.4,572.6 C294.7,572.3 294.1,571.9 293.4,571.5 C292.7,571.1 292.1,570.7 291.4,570.3 C290.7,569.8 290.1,569.3 289.4,568.9 C288.7,568.4 288.1,567.9 287.4,567.5 C286.7,567.0 286.1,566.6 285.4,566.1 C284.7,565.7 284.1,565.3 283.4,564.9 C282.7,564.5 282.1,564.1 281.4,563.7 C280.7,563.3 280.1,562.9 279.4,562.5 C278.7,562.1 278.1,561.7 277.4,561.3 C276.7,560.9 276.1,560.5 275.4,560.1 C274.7,559.7 274.1,559.3 273.4,558.9 C272.7,558.6 272.1,558.2 271.4,557.8 C270.7,557.4 270.1,557.0 269.4,556.6 C268.7,556.3 268.1,555.9 267.4,555.5 C266.7,555.2 266.1,554.8 265.4,554.4 C264.7,554.1 264.1,553.7 263.4,553.3 C262.7,553.0 262.1,552.6 261.4,552.2 C260.7,551.9 260.1,551.5 259.4,551.1 C258.7,550.8 258.1,550.4 257.4,550.1 C256.7,549.7 256.1,549.4 255.4,549.0 C254.7,548.7 254.1,548.4 253.4,548.0 C252.7,547.7 252.1,547.4 251.4,547.1 C250.7,546.8 250.1,546.5 249.4,546.3 C248.7,546.0 248.1,545.7 247.4,545.5 C246.7,545.2 246.1,545.0 245.4,544.7 C244.7,544.5 244.1,544.3 243.4,544.0 C242.7,543.8 242.1,543.6 241.4,543.4 C240.7,543.1 240.1,542.9 239.4,542.7 C238.7,542.5 238.1,542.3 237.4,542.0 C236.7,541.8 236.1,541.6 235.4,541.3 C234.7,541.1 234.1,540.9 233.4,540.6 C232.7,540.4 232.1,540.1 231.4,539.8 C230.7,539.5 230.1,539.3 229.4,539.0 C228.7,538.7 228.1,538.4 227.4,538.1 C226.7,537.9 226.1,537.6 225.4,537.3 C224.7,537.1 224.1,536.8 223.4,536.6 C222.7,536.4 222.1,536.2 221.4,536.0 C220.7,535.8 220.1,535.6 219.4,535.5 C218.7,535.3 218.1,535.2 217.4,535.1 C216.7,535.0 216.1,534.9 215.4,534.8 C214.7,534.7 214.1,534.6 213.4,534.5 C212.7,534.4 212.1,534.3 211.4,534.3 C210.7,534.2 210.1,534.1 209.4,534.0 C208.7,534.0 208.1,533.9 207.4,533.9 C206.7,533.9 205.9,533.8 205.4,533.8 C204.9,533.8 204.7,533.8 204.5,533.8"/>
<path d="M203.7,531.6 C204.1,530.0 205.9,524.3 206.4,522.0 C206.9,519.8 206.5,519.4 206.7,518.0 C206.9,516.7 207.2,515.4 207.6,514.1 C207.9,512.7 208.1,511.6 208.6,510.1 C209.0,508.6 209.6,506.8 210.2,505.1 C210.9,503.4 211.5,501.8 212.2,500.1 C213.0,498.4 213.8,496.8 214.7,495.1 C215.6,493.4 216.5,491.8 217.4,490.1 C218.3,488.4 219.3,486.8 220.3,485.1 C221.3,483.5 222.3,481.6 223.4,480.1 C224.4,478.7 225.5,477.8 226.7,476.3 C227.9,474.9 229.2,473.1 230.6,471.7 C231.9,470.2 233.3,469.0 234.7,467.7 C236.0,466.4 237.3,465.2 238.9,463.9 C240.4,462.6 242.3,461.1 244.2,459.7 C246.0,458.3 247.5,457.3 250.2,455.5 C252.8,453.7 256.8,451.2 260.2,449.0 C263.5,446.8 266.0,445.1 270.2,442.4 C274.3,439.6 280.2,435.5 285.2,432.5 C290.2,429.5 295.0,426.8 300.2,424.3 C305.3,421.9 311.8,419.8 316.2,418.0 C320.5,416.1 322.7,415.0 326.2,413.0 C329.7,410.9 334.7,407.0 337.0,405.4 C339.3,403.8 339.0,404.0 340.0,403.2 C341.0,402.4 342.0,401.5 343.0,400.7 C344.0,399.8 345.0,398.9 346.0,397.9 C347.0,397.0 348.0,396.0 349.0,395.0 C350.0,394.0 351.0,393.0 352.0,391.9 C353.0,390.8 354.0,389.6 355.0,388.4 C356.0,387.2 357.0,386.0 358.0,384.7 C359.0,383.4 360.0,382.2 361.0,380.8 C362.0,379.4 363.0,378.0 364.0,376.5 C365.0,375.0 366.0,373.4 367.0,371.8 C368.0,370.1 369.0,368.3 370.0,366.4 C371.0,364.6 372.0,362.6 373.0,360.7 C374.0,358.8 375.0,356.8 376.0,354.9 C377.0,353.0 378.0,351.1 379.0,349.3 C380.0,347.6 381.0,345.9 382.0,344.3 C383.0,342.7 384.0,341.3 385.0,339.9 C386.0,338.4 387.0,337.1 388.0,335.8 C389.0,334.5 390.0,333.3 391.0,332.2 C392.0,331.0 393.0,329.9 394.0,328.9 C395.0,327.8 396.0,326.8 397.0,325.8 C398.0,324.8 399.0,323.8 400.0,322.8 C401.0,321.9 402.0,321.0 403.0,320.1 C404.0,319.2 405.0,318.3 406.0,317.5 C407.0,316.6 408.0,315.8 409.0,315.1 C410.0,314.4 411.0,313.7 412.0,313.1 C413.0,312.4 414.0,311.9 415.0,311.3 C416.0,310.8 417.0,310.4 418.0,310.0 C419.0,309.6 420.0,309.3 421.0,309.1 C422.0,308.8 423.0,308.6 424.0,308.5 C425.0,308.5 426.0,308.5 427.0,308.5 C428.0,308.5 429.0,308.7 430.0,308.8 C431.0,308.9 432.0,309.1 433.0,309.3 C434.0,309.4 435.0,309.6 436.0,309.8 C437.0,310.0 438.0,310.2 439.0,310.4 C440.0,310.6 441.0,310.8 442.0,311.1 C443.0,311.4 444.0,311.8 445.0,312.1 C446.0,312.5 447.0,312.9 448.0,313.2 C449.0,313.6 450.0,313.9 451.0,314.3 C452.0,314.8 453.0,315.2 454.0,315.8 C455.0,316.3 456.0,317.0 457.0,317.6 C458.0,318.3 459.0,319.0 460.0,319.7 C461.0,320.4 462.0,321.1 463.0,321.8 C464.0,322.5 465.0,323.3 466.0,324.0 C467.0,324.8 468.0,325.5 469.0,326.2 C470.0,326.9 471.0,327.7 472.0,328.3 C473.0,329.0 474.0,329.7 475.0,330.3 C476.0,330.9 477.0,331.4 478.0,331.9 C479.0,332.4 480.0,332.8 481.0,333.2 C482.0,333.7 483.0,334.1 484.0,334.5 C485.0,334.9 486.0,335.3 487.0,335.7 C488.0,336.1 489.0,336.5 490.0,336.9 C491.0,337.2 492.0,337.6 493.0,337.9 C494.0,338.2 495.0,338.5 496.0,338.8 C497.0,339.1 498.0,339.4 499.0,339.7 C500.0,339.9 501.0,340.2 502.0,340.4 C503.0,340.7 504.0,340.9 505.0,341.1 C506.0,341.3 507.0,341.5 508.0,341.7 C509.0,341.9 510.0,342.1 511.0,342.2 C512.0,342.4 513.0,342.5 514.0,342.6 C515.0,342.7 516.0,342.7 517.0,342.8 C518.0,342.9 519.0,342.9 520.0,343.0 C521.0,343.0 522.0,343.0 523.0,343.1 C524.0,343.1 525.0,343.1 526.0,343.1 C527.0,343.1 528.0,343.1 529.0,343.1 C530.0,343.1 531.0,343.1 532.0,343.0 C533.0,343.0 534.0,342.9 535.0,342.8 C536.0,342.7 537.0,342.6 538.0,342.5 C539.0,342.4 540.0,342.3 541.0,342.2 C542.0,342.1 543.0,342.0 544.0,341.9 C545.0,341.8 546.0,341.7 547.0,341.7 C548.0,341.6 549.0,341.5 550.0,341.4 C551.0,341.3 552.0,341.2 553.0,341.1 C554.0,340.9 555.0,340.7 556.0,340.5 C557.0,340.3 558.0,340.0 559.0,339.8 C560.0,339.5 561.0,339.3 562.0,339.1 C563.0,338.8 564.0,338.6 565.0,338.3 C566.0,338.0 567.0,337.7 568.0,337.5 C569.0,337.2 570.0,336.9 571.0,336.6 C572.0,336.3 573.0,336.1 574.0,335.8 C575.0,335.5 576.0,335.2 577.0,334.9 C578.0,334.6 579.0,334.3 580.0,334.0 C581.0,333.7 582.0,333.4 583.0,333.1 C584.0,332.8 585.0,332.5 586.0,332.2 C587.0,331.9 588.0,331.7 589.0,331.4 C590.0,331.2 591.0,330.9 592.0,330.7 C593.0,330.5 594.0,330.2 595.0,330.0 C596.0,329.8 597.0,329.6 598.0,329.4 C599.0,329.2 600.0,329.1 601.0,329.0 C602.0,328.9 603.0,328.8 604.0,328.8 C605.0,328.7 606.0,328.7 607.0,328.7 C608.0,328.7 609.0,328.7 610.0,328.7 C611.0,328.7 612.0,328.7 613.0,328.7 C614.0,328.7 615.0,328.7 616.0,328.7 C617.0,328.7 618.0,328.7 619.0,328.8 C620.0,328.8 621.0,328.8 622.0,328.8 C623.0,328.9 624.0,328.9 625.0,329.0 C626.0,329.0 627.0,329.0 628.0,329.0 C629.0,329.0 630.0,329.0 631.0,329.0 C632.0,328.9 633.0,328.8 634.0,328.6 C635.0,328.5 636.0,328.3 637.0,328.1 C638.0,328.0 639.0,327.8 640.0,327.6 C641.0,327.4 642.0,327.2 643.0,327.0 C644.0,326.8 645.0,326.6 646.0,326.4 C647.0,326.2 648.0,326.0 649.0,325.8 C650.0,325.6 651.0,325.5 652.0,325.3 C653.0,325.2 654.0,325.0 655.0,324.9 C656.0,324.7 657.0,324.6 658.0,324.5 C659.0,324.4 660.0,324.3 661.0,324.2 C662.0,324.1 663.0,324.0 664.0,323.9 C665.0,323.8 666.0,323.8 667.0,323.7 C668.0,323.6 669.0,323.5 670.0,323.5 C671.0,323.4 672.0,323.2 673.0,323.1 C674.0,323.0 675.0,322.9 676.0,322.7 C677.0,322.6 678.0,322.5 679.0,322.4 C680.0,322.2 681.0,322.1 682.0,321.9 C683.0,321.8 684.0,321.6 685.0,321.4 C686.0,321.3 687.0,321.0 688.0,320.8 C689.0,320.6 690.0,320.3 691.0,320.1 C692.0,319.8 693.0,319.6 694.0,319.3 C695.0,319.1 696.0,318.8 697.0,318.5 C698.0,318.3 699.0,318.0 700.0,317.7 C701.0,317.5 702.0,317.2 703.0,316.8 C704.0,316.5 705.0,316.2 706.0,315.9 C707.0,315.6 708.0,315.3 709.0,315.0 C710.0,314.6 711.0,314.3 712.0,313.9 C713.0,313.6 714.0,313.2 715.0,312.9 C716.0,312.5 717.0,312.1 718.0,311.8 C719.0,311.4 720.0,311.1 721.0,310.7 C722.0,310.3 723.0,310.0 724.0,309.6 C725.0,309.2 726.0,308.8 727.0,308.4 C728.0,308.0 729.0,307.6 730.0,307.1 C731.0,306.7 732.0,306.3 733.0,305.9 C734.0,305.4 735.0,305.0 736.0,304.6 C737.0,304.2 738.0,303.7 739.0,303.3 C740.0,302.9 741.0,302.5 742.0,302.1 C743.0,301.7 744.0,301.2 745.0,300.8 C746.0,300.4 747.0,300.0 748.0,299.6 C749.0,299.2 750.0,298.8 751.0,298.3 C752.0,297.8 753.0,297.3 754.0,296.8 C755.0,296.3 756.0,295.7 757.0,295.1 C758.0,294.5 759.0,293.9 760.0,293.2 C761.0,292.6 762.0,291.9 763.0,291.1 C764.0,290.4 765.0,289.7 766.0,288.9 C767.0,288.2 768.0,287.4 769.0,286.6 C770.0,285.9 771.0,285.1 772.0,284.4 C773.0,283.6 774.0,282.8 775.0,282.0 C776.0,281.2 777.0,280.3 778.0,279.4 C779.0,278.6 780.0,277.7 781.0,276.9 C782.0,276.0 783.0,275.1 784.0,274.3 C785.0,273.4 786.0,272.6 787.0,271.7 C788.0,270.8 789.0,269.9 790.0,268.9 C791.0,267.9 792.0,266.8 793.0,265.6 C794.0,264.5 795.0,263.2 796.0,262.0 C797.0,260.8 798.0,259.5 799.0,258.2 C800.0,256.9 801.0,255.6 802.0,254.3 C803.0,253.0 804.0,251.6 805.0,250.2 C806.0,248.9 807.0,247.5 808.0,246.0 C809.0,244.6 810.0,243.1 811.0,241.6 C812.0,240.1 813.0,238.5 814.0,237.0 C815.0,235.5 816.0,233.9 817.0,232.3 C818.0,230.8 819.0,229.2 820.0,227.6 C821.0,226.1 822.0,224.5 823.0,222.9 C824.0,221.4 825.0,219.9 826.0,218.3 C827.0,216.8 828.0,215.2 829.0,213.7 C830.0,212.1 831.0,210.5 832.0,208.9 C833.0,207.3 834.0,205.7 835.0,204.1 C836.0,202.5 837.0,200.8 838.0,199.2 C839.0,197.6 840.0,196.0 841.0,194.4 C842.0,192.8 843.0,191.2 844.0,189.6 C845.0,188.0 846.3,185.9 847.0,184.8 C847.7,183.8 847.7,183.8 848.0,183.2 C848.3,182.7 848.7,182.1 849.0,181.6 C849.3,181.1 849.7,180.5 850.0,180.0 C850.3,179.4 850.7,178.9 851.0,178.3 C851.3,177.8 851.7,177.3 852.0,176.7 C852.3,176.2 852.7,175.6 853.0,175.1 C853.3,174.5 853.7,174.0 854.0,173.4 C854.3,172.8 854.7,172.2 855.0,171.6 C855.3,171.0 855.6,170.5 856.0,169.8 C856.4,169.0 857.2,167.7 857.4,167.2 L857.4,167.2 C857.2,168.0 856.7,170.2 856.4,171.7 C856.1,173.1 855.7,174.6 855.4,176.0 C855.1,177.4 854.7,178.7 854.4,180.1 C854.1,181.5 853.7,183.0 853.4,184.4 C853.1,185.8 852.7,187.2 852.4,188.5 C852.1,189.8 851.7,191.1 851.4,192.4 C851.1,193.7 850.7,195.0 850.4,196.2 C850.1,197.5 849.7,198.7 849.4,200.0 C849.1,201.2 848.7,202.5 848.4,203.7 C848.1,205.0 847.7,206.2 847.4,207.4 C847.1,208.7 846.7,209.9 846.4,211.1 C846.1,212.2 846.1,212.2 845.4,214.4 C844.7,216.7 843.4,221.2 842.4,224.4 C841.4,227.7 840.4,230.8 839.4,233.9 C838.4,237.0 837.4,240.0 836.4,243.0 C835.4,246.1 834.4,249.1 833.4,252.1 C832.4,255.2 831.4,258.1 830.4,261.1 C829.4,264.1 828.4,267.1 827.4,270.1 C826.4,273.1 825.4,276.3 824.4,279.1 C823.4,281.9 822.4,284.3 821.4,286.9 C820.4,289.6 819.4,292.4 818.4,295.0 C817.4,297.7 816.4,300.3 815.4,302.7 C814.4,305.0 813.4,307.1 812.4,309.2 C811.4,311.3 810.4,313.4 809.4,315.4 C808.4,317.4 807.4,319.4 806.4,321.2 C805.4,323.1 804.4,324.7 803.4,326.4 C802.4,328.0 801.4,329.5 800.4,331.1 C799.4,332.7 798.4,334.2 797.4,335.7 C796.4,337.2 795.4,338.8 794.4,340.2 C793.4,341.6 792.4,343.0 791.4,344.3 C790.4,345.5 789.4,346.7 788.4,347.9 C787.4,349.2 786.4,350.4 785.4,351.6 C784.4,352.8 783.4,354.0 782.4,355.2 C781.4,356.4 780.4,357.5 779.4,358.6 C778.4,359.6 777.4,360.6 776.4,361.5 C775.4,362.4 774.4,363.3 773.4,364.1 C772.4,365.0 771.4,365.8 770.4,366.6 C769.4,367.3 768.4,368.1 767.4,368.8 C766.4,369.4 765.4,370.0 764.4,370.6 C763.4,371.1 762.4,371.7 761.4,372.2 C760.4,372.8 759.4,373.4 758.4,374.0 C757.4,374.6 756.4,375.2 755.4,375.8 C754.4,376.4 753.4,377.1 752.4,377.7 C751.4,378.4 750.4,379.0 749.4,379.7 C748.4,380.3 747.4,380.9 746.4,381.5 C745.4,382.1 744.4,382.7 743.4,383.3 C742.4,383.9 741.4,384.5 740.4,385.0 C739.4,385.4 738.4,385.8 737.4,386.2 C736.4,386.6 735.4,386.9 734.4,387.2 C733.4,387.5 732.4,387.9 731.4,388.2 C730.4,388.5 729.4,388.8 728.4,389.1 C727.4,389.4 726.4,389.7 725.4,390.0 C724.4,390.2 723.4,390.5 722.4,390.9 C721.4,391.2 720.4,391.5 719.4,392.0 C718.4,392.4 717.4,392.9 716.4,393.4 C715.4,393.9 714.4,394.4 713.4,394.9 C712.4,395.4 711.4,395.9 710.4,396.4 C709.4,396.9 708.4,397.4 707.4,397.9 C706.4,398.4 705.4,398.9 704.4,399.4 C703.4,399.9 702.4,400.4 701.4,400.8 C700.4,401.3 699.4,401.7 698.4,402.2 C697.4,402.6 696.4,403.0 695.4,403.3 C694.4,403.7 693.4,404.1 692.4,404.5 C691.4,404.9 690.4,405.3 689.4,405.7 C688.4,406.0 687.4,406.4 686.4,406.7 C685.4,407.1 684.4,407.4 683.4,407.7 C682.4,408.1 681.4,408.5 680.4,408.9 C679.4,409.3 678.4,409.9 677.4,410.4 C676.4,410.9 675.4,411.5 674.4,412.1 C673.4,412.6 672.4,413.2 671.4,413.7 C670.4,414.2 669.4,414.6 668.4,415.0 C667.4,415.4 666.4,415.7 665.4,416.0 C664.4,416.4 663.4,416.7 662.4,417.0 C661.4,417.3 660.4,417.7 659.4,418.0 C658.4,418.4 657.4,418.8 656.4,419.1 C655.4,419.5 654.4,419.9 653.4,420.3 C652.4,420.7 651.4,421.1 650.4,421.5 C649.4,422.0 648.4,422.4 647.4,422.9 C646.4,423.4 645.4,424.0 644.4,424.5 C643.4,425.0 642.4,425.5 641.4,426.0 C640.4,426.5 639.4,426.9 638.4,427.3 C637.4,427.7 636.4,428.0 635.4,428.3 C634.4,428.7 633.4,429.0 632.4,429.3 C631.4,429.6 630.4,429.8 629.4,430.1 C628.4,430.3 627.4,430.5 626.4,430.8 C625.4,431.0 624.4,431.3 623.4,431.5 C622.4,431.7 621.4,432.0 620.4,432.2 C619.4,432.4 618.4,432.6 617.4,432.8 C616.4,433.0 615.4,433.2 614.4,433.3 C613.4,433.5 612.4,433.6 611.4,433.8 C610.4,433.9 609.4,434.1 608.4,434.2 C607.4,434.4 606.4,434.5 605.4,434.7 C604.4,434.9 603.4,435.0 602.4,435.2 C601.4,435.3 600.4,435.5 599.4,435.6 C598.4,435.8 597.4,435.9 596.4,436.1 C595.4,436.2 594.4,436.4 593.4,436.5 C592.4,436.7 591.4,436.9 590.4,437.0 C589.4,437.2 588.4,437.5 587.4,437.7 C586.4,438.0 585.4,438.3 584.4,438.6 C583.4,438.9 582.4,439.2 581.4,439.4 C580.4,439.7 579.4,440.0 578.4,440.3 C577.4,440.6 576.4,440.9 575.4,441.3 C574.4,441.6 573.4,442.0 572.4,442.4 C571.4,442.8 570.4,443.2 569.4,443.6 C568.4,444.0 567.4,444.4 566.4,444.9 C565.4,445.3 564.4,445.7 563.4,446.1 C562.4,446.6 561.4,447.0 560.4,447.4 C559.4,447.9 558.4,448.3 557.4,448.8 C556.4,449.2 555.4,449.7 554.4,450.1 C553.4,450.5 552.4,450.9 551.4,451.3 C550.4,451.7 549.4,452.0 548.4,452.3 C547.4,452.6 546.4,452.8 545.4,453.0 C544.4,453.2 543.4,453.5 542.4,453.7 C541.4,453.9 540.4,454.1 539.4,454.3 C538.4,454.4 537.4,454.6 536.4,454.7 C535.4,454.8 534.4,454.8 533.4,454.9 C532.4,455.0 531.4,455.1 530.4,455.1 C529.4,455.2 528.4,455.2 527.4,455.2 C526.4,455.2 525.4,455.2 524.4,455.1 C523.4,455.1 522.4,455.0 521.4,454.9 C520.4,454.8 519.4,454.7 518.4,454.6 C517.4,454.5 516.4,454.3 515.4,454.2 C514.4,454.0 513.4,453.9 512.4,453.7 C511.4,453.5 510.4,453.4 509.4,453.2 C508.4,453.0 507.4,452.9 506.4,452.7 C505.4,452.5 504.4,452.3 503.4,452.2 C502.4,452.0 501.4,451.8 500.4,451.6 C499.4,451.5 498.4,451.3 497.4,451.1 C496.4,451.0 495.4,450.8 494.4,450.7 C493.4,450.6 492.4,450.4 491.4,450.3 C490.4,450.2 489.4,450.1 488.4,450.0 C487.4,449.9 486.4,449.8 485.4,449.7 C484.4,449.6 483.4,449.5 482.4,449.5 C481.4,449.4 480.4,449.3 479.4,449.2 C478.4,449.1 477.4,449.0 476.4,449.0 C475.4,448.9 474.4,448.8 473.4,448.7 C472.4,448.6 471.4,448.6 470.4,448.5 C469.4,448.4 468.4,448.4 467.4,448.3 C466.4,448.2 465.4,448.2 464.4,448.1 C463.4,448.0 462.4,448.0 461.4,447.9 C460.4,447.9 459.4,447.9 458.4,447.8 C457.4,447.8 456.4,447.7 455.4,447.7 C454.4,447.7 453.4,447.6 452.4,447.6 C451.4,447.7 450.4,447.7 449.4,447.7 C448.4,447.8 447.4,447.9 446.4,448.0 C445.4,448.0 444.2,448.1 443.4,448.2 C442.6,448.2 442.1,448.2 441.4,448.3 C440.7,448.4 440.1,448.6 439.4,448.7 C438.7,448.9 438.1,449.0 437.4,449.2 C436.7,449.3 436.1,449.5 435.4,449.6 C434.7,449.8 434.1,450.0 433.4,450.1 C432.7,450.3 432.1,450.5 431.4,450.7 C430.7,450.8 430.1,451.0 429.4,451.2 C428.7,451.4 428.1,451.6 427.4,451.8 C426.7,452.0 426.1,452.2 425.4,452.4 C424.7,452.6 424.1,452.8 423.4,453.0 C422.7,453.2 422.1,453.5 421.4,453.7 C420.7,454.0 420.1,454.2 419.4,454.5 C418.7,454.7 418.1,455.0 417.4,455.2 C416.7,455.5 416.1,455.8 415.4,456.1 C414.7,456.4 414.1,456.7 413.4,457.1 C412.7,457.4 412.1,457.7 411.4,458.1 C410.7,458.4 410.1,458.8 409.4,459.1 C408.7,459.5 408.1,459.9 407.4,460.3 C406.7,460.7 406.1,461.1 405.4,461.5 C404.7,461.9 404.1,462.3 403.4,462.7 C402.7,463.2 402.1,463.6 401.4,464.1 C400.7,464.6 400.1,465.1 399.4,465.6 C398.7,466.1 398.1,466.6 397.4,467.2 C396.7,467.7 396.1,468.3 395.4,468.9 C394.7,469.5 394.1,470.1 393.4,470.7 C392.7,471.2 392.1,471.8 391.4,472.4 C390.7,473.0 390.1,473.6 389.4,474.2 C388.7,474.8 388.1,475.4 387.4,476.0 C386.7,476.6 386.1,477.2 385.4,477.8 C384.7,478.5 384.1,479.1 383.4,479.7 C382.7,480.3 382.1,481.0 381.4,481.6 C380.7,482.3 380.1,482.9 379.4,483.6 C378.7,484.3 378.1,485.0 377.4,485.8 C376.7,486.5 376.1,487.2 375.4,488.0 C374.7,488.8 374.1,489.6 373.4,490.5 C372.7,491.4 372.1,492.4 371.4,493.3 C370.7,494.3 370.1,495.3 369.4,496.3 C368.7,497.3 368.1,498.4 367.4,499.4 C366.7,500.4 366.1,501.4 365.4,502.3 C364.7,503.3 364.1,504.2 363.4,505.2 C362.7,506.1 362.1,507.1 361.4,508.0 C360.7,508.9 360.1,509.9 359.4,510.8 C358.7,511.8 358.1,512.7 357.4,513.7 C356.7,514.6 356.1,515.6 355.4,516.5 C354.7,517.4 354.1,518.3 353.4,519.3 C352.7,520.2 352.1,521.1 351.4,522.0 C350.7,522.9 350.1,523.8 349.4,524.6 C348.7,525.5 348.1,526.4 347.4,527.2 C346.7,528.1 346.1,528.9 345.4,529.7 C344.7,530.6 344.1,531.4 343.4,532.2 C342.7,533.0 342.1,533.7 341.4,534.5 C340.7,535.3 340.1,536.0 339.4,536.8 C338.7,537.5 338.1,538.3 337.4,539.0 C336.7,539.8 336.1,540.5 335.4,541.3 C334.7,542.0 334.1,542.7 333.4,543.5 C332.7,544.2 332.1,544.9 331.4,545.6 C330.7,546.4 330.1,547.1 329.4,547.8 C328.7,548.5 328.1,549.2 327.4,549.9 C326.7,550.6 326.1,551.3 325.4,552.0 C324.7,552.7 324.1,553.4 323.4,554.1 C322.7,554.9 322.1,555.6 321.4,556.4 C320.7,557.1 320.1,557.8 319.4,558.5 C318.7,559.2 318.1,559.7 317.4,560.3 C316.7,560.9 316.1,561.6 315.4,562.2 C314.7,562.7 314.1,563.3 313.4,563.6 C312.7,563.9 312.1,563.9 311.4,564.0 C310.7,564.1 310.1,564.0 309.4,564.0 C308.7,564.0 308.1,564.0 307.4,564.0 C306.7,564.0 306.1,564.0 305.4,563.9 C304.7,563.9 304.1,563.8 303.4,563.7 C302.7,563.6 302.1,563.5 301.4,563.4 C300.7,563.3 300.1,563.3 299.4,563.2 C298.7,563.1 298.1,563.0 297.4,562.9 C296.7,562.7 296.1,562.6 295.4,562.5 C294.7,562.3 294.1,562.1 293.4,561.9 C292.7,561.8 292.1,561.5 291.4,561.3 C290.7,561.1 290.1,560.8 289.4,560.6 C288.7,560.3 288.1,560.1 287.4,559.9 C286.7,559.6 286.1,559.4 285.4,559.1 C284.7,558.9 284.1,558.7 283.4,558.5 C282.7,558.2 282.1,558.0 281.4,557.8 C280.7,557.6 280.1,557.4 279.4,557.2 C278.7,556.9 278.1,556.7 277.4,556.5 C276.7,556.3 276.1,556.1 275.4,555.8 C274.7,555.6 274.1,555.4 273.4,555.2 C272.7,554.9 272.1,554.7 271.4,554.5 C270.7,554.2 270.1,554.0 269.4,553.7 C268.7,553.5 268.1,553.2 267.4,553.0 C266.7,552.7 266.1,552.4 265.4,552.2 C264.7,551.9 264.1,551.6 263.4,551.3 C262.7,551.0 262.1,550.6 261.4,550.3 C260.7,550.0 260.1,549.6 259.4,549.2 C258.7,548.9 258.1,548.5 257.4,548.2 C256.7,547.8 256.1,547.4 255.4,547.1 C254.7,546.7 254.1,546.4 253.4,546.0 C252.7,545.7 252.1,545.4 251.4,545.1 C250.7,544.8 250.1,544.5 249.4,544.3 C248.7,544.0 248.1,543.8 247.4,543.5 C246.7,543.3 246.1,543.1 245.4,542.8 C244.7,542.6 244.1,542.4 243.4,542.2 C242.7,542.0 242.1,541.8 241.4,541.6 C240.7,541.4 240.1,541.2 239.4,541.0 C238.7,540.8 238.1,540.6 237.4,540.4 C236.7,540.2 236.1,539.9 235.4,539.7 C234.7,539.5 234.1,539.3 233.4,539.1 C232.7,538.8 232.1,538.6 231.4,538.4 C230.7,538.1 230.1,537.9 229.4,537.6 C228.7,537.4 228.1,537.1 227.4,536.9 C226.7,536.7 226.1,536.4 225.4,536.2 C224.7,536.0 224.1,535.7 223.4,535.5 C222.7,535.3 222.1,535.1 221.4,534.9 C220.7,534.7 220.1,534.5 219.4,534.3 C218.7,534.2 218.1,534.0 217.4,533.9 C216.7,533.7 216.1,533.6 215.4,533.4 C214.7,533.3 214.1,533.1 213.4,533.0 C212.7,532.9 212.1,532.8 211.4,532.6 C210.7,532.5 210.1,532.4 209.4,532.3 C208.7,532.2 208.1,532.1 207.4,532.0 C206.7,531.9 205.9,531.8 205.4,531.7 C204.9,531.6 204.7,531.6 204.5,531.6"/>
<path d="M203.7,529.8 C204.1,528.5 205.4,524.0 205.8,522.0 C206.2,520.0 205.9,519.3 206.1,518.0 C206.3,516.6 206.7,515.3 207.0,513.9 C207.4,512.6 207.6,511.4 208.0,509.9 C208.5,508.4 209.1,506.6 209.8,504.9 C210.4,503.2 211.0,501.6 211.8,499.9 C212.5,498.2 213.4,496.6 214.3,494.9 C215.2,493.2 216.1,491.6 217.0,489.9 C217.9,488.2 218.9,486.6 219.9,484.9 C220.9,483.2 222.0,481.3 223.0,479.9 C224.1,478.4 225.1,477.5 226.3,476.1 C227.5,474.6 228.9,472.8 230.2,471.3 C231.6,469.9 233.0,468.6 234.3,467.3 C235.7,466.0 237.0,464.8 238.5,463.5 C240.1,462.2 242.0,460.7 243.8,459.3 C245.7,457.9 247.2,456.9 249.8,455.1 C252.5,453.3 256.5,450.6 259.8,448.4 C263.2,446.2 265.7,444.6 269.8,441.8 C274.0,439.1 279.8,434.9 284.8,431.9 C289.8,428.9 294.7,426.1 299.8,423.7 C305.0,421.2 311.5,419.2 315.8,417.2 C320.2,415.3 322.3,414.4 325.8,412.2 C329.3,410.1 334.6,406.0 337.0,404.3 C339.4,402.6 339.0,402.8 340.0,401.9 C341.0,401.1 342.0,400.2 343.0,399.3 C344.0,398.4 345.0,397.4 346.0,396.4 C347.0,395.4 348.0,394.4 349.0,393.3 C350.0,392.2 351.0,391.1 352.0,389.9 C353.0,388.7 354.0,387.5 355.0,386.2 C356.0,384.8 357.0,383.5 358.0,382.1 C359.0,380.7 360.0,379.3 361.0,377.7 C362.0,376.2 363.0,374.6 364.0,373.0 C365.0,371.3 366.0,369.5 367.0,367.7 C368.0,365.8 369.0,363.8 370.0,361.7 C371.0,359.7 372.0,357.5 373.0,355.4 C374.0,353.3 375.0,351.1 376.0,349.0 C377.0,347.0 378.0,344.9 379.0,343.0 C380.0,341.0 381.0,339.2 382.0,337.5 C383.0,335.7 384.0,334.1 385.0,332.6 C386.0,331.0 387.0,329.5 388.0,328.1 C389.0,326.7 390.0,325.4 391.0,324.2 C392.0,322.9 393.0,321.7 394.0,320.6 C395.0,319.4 396.0,318.3 397.0,317.2 C398.0,316.1 399.0,315.0 400.0,314.0 C401.0,313.0 402.0,312.0 403.0,311.0 C404.0,310.0 405.0,309.0 406.0,308.1 C407.0,307.2 408.0,306.4 409.0,305.6 C410.0,304.8 411.0,304.0 412.0,303.3 C413.0,302.7 414.0,302.1 415.0,301.5 C416.0,301.0 417.0,300.6 418.0,300.2 C419.0,299.8 420.0,299.4 421.0,299.2 C422.0,299.0 423.0,298.9 424.0,298.8 C425.0,298.8 426.0,298.9 427.0,299.0 C428.0,299.1 429.0,299.3 430.0,299.6 C431.0,299.8 432.0,300.1 433.0,300.4 C434.0,300.8 435.0,301.1 436.0,301.6 C437.0,302.0 438.0,302.4 439.0,302.9 C440.0,303.4 441.0,304.0 442.0,304.6 C443.0,305.2 444.0,306.0 445.0,306.7 C446.0,307.4 447.0,308.1 448.0,308.8 C449.0,309.5 450.0,310.0 451.0,310.7 C452.0,311.3 453.0,312.0 454.0,312.7 C455.0,313.4 456.0,314.2 457.0,315.0 C458.0,315.7 459.0,316.5 460.0,317.4 C461.0,318.2 462.0,319.0 463.0,319.8 C464.0,320.6 465.0,321.5 466.0,322.3 C467.0,323.1 468.0,323.9 469.0,324.6 C470.0,325.4 471.0,326.2 472.0,326.9 C473.0,327.6 474.0,328.3 475.0,329.0 C476.0,329.6 477.0,330.1 478.0,330.6 C479.0,331.1 480.0,331.5 481.0,332.0 C482.0,332.4 483.0,332.8 484.0,333.3 C485.0,333.7 486.0,334.1 487.0,334.5 C488.0,334.9 489.0,335.3 490.0,335.7 C491.0,336.1 492.0,336.4 493.0,336.8 C494.0,337.1 495.0,337.4 496.0,337.7 C497.0,338.0 498.0,338.3 499.0,338.6 C500.0,338.8 501.0,339.1 502.0,339.3 C503.0,339.5 504.0,339.8 505.0,340.0 C506.0,340.2 507.0,340.4 508.0,340.6 C509.0,340.8 510.0,341.0 511.0,341.1 C512.0,341.3 513.0,341.4 514.0,341.5 C515.0,341.5 516.0,341.6 517.0,341.6 C518.0,341.7 519.0,341.7 520.0,341.7 C521.0,341.7 522.0,341.8 523.0,341.8 C524.0,341.8 525.0,341.8 526.0,341.8 C527.0,341.7 528.0,341.7 529.0,341.7 C530.0,341.7 531.0,341.7 532.0,341.6 C533.0,341.5 534.0,341.4 535.0,341.3 C536.0,341.2 537.0,341.0 538.0,340.8 C539.0,340.7 540.0,340.5 541.0,340.4 C542.0,340.3 543.0,340.2 544.0,340.0 C545.0,339.9 546.0,339.8 547.0,339.7 C548.0,339.6 549.0,339.6 550.0,339.4 C551.0,339.3 552.0,339.2 553.0,339.0 C554.0,338.8 555.0,338.5 556.0,338.2 C557.0,338.0 558.0,337.7 559.0,337.4 C560.0,337.1 561.0,336.8 562.0,336.5 C563.0,336.2 564.0,335.9 565.0,335.6 C566.0,335.3 567.0,334.9 568.0,334.6 C569.0,334.3 570.0,333.9 571.0,333.6 C572.0,333.3 573.0,332.9 574.0,332.6 C575.0,332.2 576.0,331.9 577.0,331.5 C578.0,331.2 579.0,330.8 580.0,330.5 C581.0,330.1 582.0,329.7 583.0,329.4 C584.0,329.0 585.0,328.7 586.0,328.3 C587.0,328.0 588.0,327.7 589.0,327.5 C590.0,327.2 591.0,326.9 592.0,326.7 C593.0,326.4 594.0,326.2 595.0,325.9 C596.0,325.7 597.0,325.5 598.0,325.3 C599.0,325.1 600.0,325.0 601.0,324.9 C602.0,324.8 603.0,324.8 604.0,324.8 C605.0,324.7 606.0,324.8 607.0,324.8 C608.0,324.8 609.0,324.9 610.0,325.0 C611.0,325.0 612.0,325.1 613.0,325.1 C614.0,325.2 615.0,325.3 616.0,325.3 C617.0,325.4 618.0,325.5 619.0,325.5 C620.0,325.6 621.0,325.6 622.0,325.7 C623.0,325.8 624.0,325.8 625.0,325.9 C626.0,326.0 627.0,326.0 628.0,326.1 C629.0,326.1 630.0,326.1 631.0,326.1 C632.0,326.0 633.0,326.0 634.0,325.9 C635.0,325.7 636.0,325.6 637.0,325.5 C638.0,325.3 639.0,325.2 640.0,325.1 C641.0,324.9 642.0,324.8 643.0,324.6 C644.0,324.5 645.0,324.3 646.0,324.1 C647.0,324.0 648.0,323.8 649.0,323.7 C650.0,323.5 651.0,323.4 652.0,323.3 C653.0,323.1 654.0,323.0 655.0,322.9 C656.0,322.8 657.0,322.7 658.0,322.5 C659.0,322.4 660.0,322.3 661.0,322.2 C662.0,322.1 663.0,322.0 664.0,321.9 C665.0,321.8 666.0,321.8 667.0,321.7 C668.0,321.6 669.0,321.5 670.0,321.4 C671.0,321.3 672.0,321.2 673.0,321.0 C674.0,320.9 675.0,320.7 676.0,320.6 C677.0,320.5 678.0,320.3 679.0,320.2 C680.0,320.0 681.0,319.9 682.0,319.7 C683.0,319.5 684.0,319.3 685.0,319.1 C686.0,318.9 687.0,318.6 688.0,318.4 C689.0,318.1 690.0,317.8 691.0,317.5 C692.0,317.2 693.0,316.9 694.0,316.6 C695.0,316.3 696.0,316.0 697.0,315.7 C698.0,315.4 699.0,315.1 700.0,314.8 C701.0,314.5 702.0,314.1 703.0,313.8 C704.0,313.4 705.0,313.1 706.0,312.7 C707.0,312.3 708.0,312.0 709.0,311.6 C710.0,311.2 711.0,310.8 712.0,310.4 C713.0,310.0 714.0,309.5 715.0,309.1 C716.0,308.7 717.0,308.3 718.0,307.9 C719.0,307.4 720.0,307.0 721.0,306.6 C722.0,306.2 723.0,305.7 724.0,305.3 C725.0,304.8 726.0,304.3 727.0,303.9 C728.0,303.4 729.0,302.9 730.0,302.4 C731.0,301.9 732.0,301.3 733.0,300.8 C734.0,300.3 735.0,299.8 736.0,299.3 C737.0,298.8 738.0,298.2 739.0,297.7 C740.0,297.2 741.0,296.7 742.0,296.2 C743.0,295.7 744.0,295.2 745.0,294.7 C746.0,294.2 747.0,293.8 748.0,293.3 C749.0,292.8 750.0,292.4 751.0,291.9 C752.0,291.4 753.0,290.9 754.0,290.3 C755.0,289.7 756.0,289.0 757.0,288.4 C758.0,287.7 759.0,287.0 760.0,286.3 C761.0,285.5 762.0,284.8 763.0,284.0 C764.0,283.2 765.0,282.3 766.0,281.5 C767.0,280.6 768.0,279.8 769.0,279.0 C770.0,278.1 771.0,277.3 772.0,276.4 C773.0,275.5 774.0,274.7 775.0,273.7 C776.0,272.8 777.0,271.9 778.0,271.0 C779.0,270.0 780.0,269.1 781.0,268.1 C782.0,267.2 783.0,266.3 784.0,265.3 C785.0,264.4 786.0,263.5 787.0,262.5 C788.0,261.5 789.0,260.6 790.0,259.5 C791.0,258.4 792.0,257.3 793.0,256.1 C794.0,254.9 795.0,253.6 796.0,252.3 C797.0,251.0 798.0,249.7 799.0,248.3 C800.0,246.9 801.0,245.5 802.0,244.1 C803.0,242.7 804.0,241.2 805.0,239.7 C806.0,238.2 807.0,236.7 808.0,235.1 C809.0,233.6 810.0,231.9 811.0,230.3 C812.0,228.6 813.0,226.9 814.0,225.2 C815.0,223.5 816.0,221.8 817.0,220.1 C818.0,218.3 819.0,216.6 820.0,214.8 C821.0,213.1 822.0,211.4 823.0,209.6 C824.0,207.9 825.0,206.3 826.0,204.6 C827.0,202.9 828.0,201.2 829.0,199.4 C830.0,197.7 831.0,195.9 832.0,194.1 C833.0,192.4 834.0,190.6 835.0,188.8 C836.0,187.0 837.0,185.2 838.0,183.4 C839.0,181.7 840.0,179.9 841.0,178.1 C842.0,176.3 843.0,174.6 844.0,172.8 C845.0,171.0 846.3,168.6 847.0,167.4 C847.7,166.2 847.7,166.2 848.0,165.6 C848.3,165.0 848.7,164.5 849.0,163.9 C849.3,163.3 849.7,162.7 850.0,162.1 C850.3,161.5 850.7,160.9 851.0,160.3 C851.3,159.7 851.7,159.1 852.0,158.5 C852.3,157.9 852.7,157.3 853.0,156.7 C853.3,156.1 853.7,155.5 854.0,154.9 C854.3,154.3 854.7,153.6 855.0,153.0 C855.3,152.3 855.6,151.8 856.0,151.1 C856.4,150.3 857.2,148.8 857.4,148.4 L857.4,148.4 C857.2,149.1 856.7,151.5 856.4,153.0 C856.1,154.5 855.7,156.1 855.4,157.6 C855.1,159.0 854.7,160.4 854.4,161.9 C854.1,163.4 853.7,165.1 853.4,166.7 C853.1,168.2 852.7,169.7 852.4,171.2 C852.1,172.7 851.7,174.1 851.4,175.6 C851.1,177.0 850.7,178.4 850.4,179.8 C850.1,181.2 849.7,182.6 849.4,184.0 C849.1,185.4 848.7,186.8 848.4,188.2 C848.1,189.5 847.7,190.9 847.4,192.3 C847.1,193.7 846.7,195.0 846.4,196.3 C846.1,197.6 846.1,197.6 845.4,200.0 C844.7,202.4 843.4,207.4 842.4,210.8 C841.4,214.2 840.4,217.4 839.4,220.6 C838.4,223.8 837.4,226.9 836.4,230.1 C835.4,233.3 834.4,236.6 833.4,239.8 C832.4,243.1 831.4,246.3 830.4,249.6 C829.4,252.8 828.4,256.1 827.4,259.3 C826.4,262.5 825.4,265.9 824.4,268.9 C823.4,271.9 822.4,274.5 821.4,277.3 C820.4,280.1 819.4,283.2 818.4,285.9 C817.4,288.7 816.4,291.5 815.4,294.0 C814.4,296.5 813.4,298.7 812.4,301.0 C811.4,303.2 810.4,305.4 809.4,307.5 C808.4,309.6 807.4,311.7 806.4,313.7 C805.4,315.6 804.4,317.4 803.4,319.1 C802.4,320.9 801.4,322.6 800.4,324.3 C799.4,325.9 798.4,327.6 797.4,329.3 C796.4,330.9 795.4,332.6 794.4,334.2 C793.4,335.7 792.4,337.2 791.4,338.7 C790.4,340.1 789.4,341.5 788.4,342.9 C787.4,344.3 786.4,345.8 785.4,347.2 C784.4,348.6 783.4,350.0 782.4,351.4 C781.4,352.7 780.4,354.0 779.4,355.3 C778.4,356.5 777.4,357.6 776.4,358.7 C775.4,359.8 774.4,360.8 773.4,361.7 C772.4,362.7 771.4,363.6 770.4,364.5 C769.4,365.3 768.4,366.1 767.4,366.8 C766.4,367.6 765.4,368.2 764.4,368.8 C763.4,369.4 762.4,370.0 761.4,370.6 C760.4,371.2 759.4,371.8 758.4,372.4 C757.4,373.0 756.4,373.7 755.4,374.3 C754.4,375.0 753.4,375.6 752.4,376.3 C751.4,377.0 750.4,377.6 749.4,378.3 C748.4,378.9 747.4,379.6 746.4,380.2 C745.4,380.8 744.4,381.5 743.4,382.1 C742.4,382.7 741.4,383.3 740.4,383.8 C739.4,384.3 738.4,384.7 737.4,385.1 C736.4,385.5 735.4,385.8 734.4,386.2 C733.4,386.5 732.4,386.9 731.4,387.2 C730.4,387.6 729.4,387.9 728.4,388.2 C727.4,388.6 726.4,388.9 725.4,389.2 C724.4,389.5 723.4,389.8 722.4,390.2 C721.4,390.5 720.4,390.9 719.4,391.3 C718.4,391.8 717.4,392.3 716.4,392.8 C715.4,393.3 714.4,393.8 713.4,394.3 C712.4,394.9 711.4,395.4 710.4,395.9 C709.4,396.4 708.4,396.9 707.4,397.4 C706.4,398.0 705.4,398.5 704.4,399.0 C703.4,399.5 702.4,400.0 701.4,400.4 C700.4,400.9 699.4,401.4 698.4,401.8 C697.4,402.2 696.4,402.6 695.4,403.0 C694.4,403.4 693.4,403.8 692.4,404.2 C691.4,404.6 690.4,405.0 689.4,405.4 C688.4,405.7 687.4,406.1 686.4,406.4 C685.4,406.7 684.4,407.1 683.4,407.4 C682.4,407.8 681.4,408.1 680.4,408.5 C679.4,409.0 678.4,409.5 677.4,410.0 C676.4,410.5 675.4,411.1 674.4,411.7 C673.4,412.2 672.4,412.8 671.4,413.3 C670.4,413.8 669.4,414.2 668.4,414.6 C667.4,414.9 666.4,415.2 665.4,415.6 C664.4,415.9 663.4,416.2 662.4,416.5 C661.4,416.8 660.4,417.2 659.4,417.5 C658.4,417.8 657.4,418.2 656.4,418.6 C655.4,418.9 654.4,419.3 653.4,419.7 C652.4,420.1 651.4,420.4 650.4,420.8 C649.4,421.3 648.4,421.7 647.4,422.2 C646.4,422.6 645.4,423.1 644.4,423.6 C643.4,424.1 642.4,424.6 641.4,425.0 C640.4,425.4 639.4,425.8 638.4,426.2 C637.4,426.5 636.4,426.8 635.4,427.1 C634.4,427.4 633.4,427.7 632.4,428.0 C631.4,428.3 630.4,428.5 629.4,428.7 C628.4,429.0 627.4,429.2 626.4,429.4 C625.4,429.6 624.4,429.8 623.4,430.0 C622.4,430.2 621.4,430.4 620.4,430.6 C619.4,430.8 618.4,431.0 617.4,431.2 C616.4,431.4 615.4,431.5 614.4,431.7 C613.4,431.8 612.4,431.9 611.4,432.1 C610.4,432.2 609.4,432.4 608.4,432.5 C607.4,432.6 606.4,432.8 605.4,432.9 C604.4,433.1 603.4,433.2 602.4,433.3 C601.4,433.5 600.4,433.6 599.4,433.7 C598.4,433.9 597.4,434.0 596.4,434.1 C595.4,434.3 594.4,434.4 593.4,434.5 C592.4,434.7 591.4,434.8 590.4,435.0 C589.4,435.2 588.4,435.4 587.4,435.6 C586.4,435.8 585.4,436.1 584.4,436.3 C583.4,436.6 582.4,436.8 581.4,437.1 C580.4,437.3 579.4,437.6 578.4,437.8 C577.4,438.1 576.4,438.3 575.4,438.6 C574.4,438.9 573.4,439.3 572.4,439.6 C571.4,439.9 570.4,440.3 569.4,440.7 C568.4,441.1 567.4,441.4 566.4,441.8 C565.4,442.2 564.4,442.5 563.4,442.9 C562.4,443.3 561.4,443.7 560.4,444.1 C559.4,444.4 558.4,444.9 557.4,445.2 C556.4,445.6 555.4,446.1 554.4,446.4 C553.4,446.8 552.4,447.2 551.4,447.5 C550.4,447.9 549.4,448.2 548.4,448.5 C547.4,448.7 546.4,449.0 545.4,449.2 C544.4,449.4 543.4,449.6 542.4,449.9 C541.4,450.1 540.4,450.3 539.4,450.5 C538.4,450.6 537.4,450.8 536.4,450.9 C535.4,451.0 534.4,451.1 533.4,451.2 C532.4,451.3 531.4,451.4 530.4,451.5 C529.4,451.6 528.4,451.6 527.4,451.7 C526.4,451.7 525.4,451.7 524.4,451.7 C523.4,451.7 522.4,451.7 521.4,451.6 C520.4,451.6 519.4,451.6 518.4,451.5 C517.4,451.4 516.4,451.4 515.4,451.3 C514.4,451.2 513.4,451.1 512.4,451.0 C511.4,450.9 510.4,450.8 509.4,450.7 C508.4,450.6 507.4,450.5 506.4,450.4 C505.4,450.2 504.4,450.1 503.4,450.0 C502.4,449.9 501.4,449.8 500.4,449.7 C499.4,449.6 498.4,449.5 497.4,449.4 C496.4,449.3 495.4,449.2 494.4,449.1 C493.4,449.0 492.4,448.9 491.4,448.9 C490.4,448.8 489.4,448.7 488.4,448.6 C487.4,448.6 486.4,448.5 485.4,448.4 C484.4,448.4 483.4,448.3 482.4,448.2 C481.4,448.2 480.4,448.1 479.4,448.1 C478.4,448.0 477.4,447.9 476.4,447.9 C475.4,447.8 474.4,447.8 473.4,447.7 C472.4,447.7 471.4,447.6 470.4,447.6 C469.4,447.5 468.4,447.5 467.4,447.5 C466.4,447.4 465.4,447.4 464.4,447.3 C463.4,447.3 462.4,447.3 461.4,447.2 C460.4,447.2 459.4,447.2 458.4,447.2 C457.4,447.1 456.4,447.1 455.4,447.1 C454.4,447.1 453.4,447.1 452.4,447.1 C451.4,447.1 450.4,447.2 449.4,447.2 C448.4,447.3 447.4,447.4 446.4,447.4 C445.4,447.5 444.2,447.6 443.4,447.7 C442.6,447.7 442.1,447.7 441.4,447.8 C440.7,447.9 440.1,448.1 439.4,448.2 C438.7,448.3 438.1,448.5 437.4,448.6 C436.7,448.7 436.1,448.9 435.4,449.0 C434.7,449.2 434.1,449.3 433.4,449.5 C432.7,449.6 432.1,449.8 431.4,449.9 C430.7,450.1 430.1,450.3 429.4,450.4 C428.7,450.6 428.1,450.8 427.4,451.0 C426.7,451.2 426.1,451.3 425.4,451.5 C424.7,451.7 424.1,451.9 423.4,452.1 C422.7,452.3 422.1,452.5 421.4,452.7 C420.7,452.9 420.1,453.2 419.4,453.4 C418.7,453.6 418.1,453.8 417.4,454.1 C416.7,454.3 416.1,454.6 415.4,454.8 C414.7,455.1 414.1,455.3 413.4,455.6 C412.7,455.9 412.1,456.2 411.4,456.4 C410.7,456.7 410.1,457.0 409.4,457.3 C408.7,457.6 408.1,457.9 407.4,458.3 C406.7,458.6 406.1,458.9 405.4,459.2 C404.7,459.6 404.1,459.9 403.4,460.3 C402.7,460.6 402.1,461.0 401.4,461.4 C400.7,461.8 400.1,462.2 399.4,462.7 C398.7,463.1 398.1,463.6 397.4,464.0 C396.7,464.5 396.1,465.0 395.4,465.5 C394.7,465.9 394.1,466.4 393.4,466.9 C392.7,467.4 392.1,467.9 391.4,468.4 C390.7,468.9 390.1,469.4 389.4,470.0 C388.7,470.5 388.1,471.0 387.4,471.5 C386.7,472.0 386.1,472.5 385.4,473.0 C384.7,473.5 384.1,474.0 383.4,474.6 C382.7,475.1 382.1,475.6 381.4,476.2 C380.7,476.7 380.1,477.3 379.4,477.9 C378.7,478.4 378.1,479.0 377.4,479.6 C376.7,480.2 376.1,480.8 375.4,481.4 C374.7,482.1 374.1,482.7 373.4,483.4 C372.7,484.0 372.1,484.7 371.4,485.4 C370.7,486.1 370.1,486.8 369.4,487.6 C368.7,488.3 368.1,489.1 367.4,489.8 C366.7,490.6 366.1,491.3 365.4,492.1 C364.7,492.8 364.1,493.5 363.4,494.3 C362.7,495.1 362.1,495.9 361.4,496.6 C360.7,497.4 360.1,498.2 359.4,499.0 C358.7,499.8 358.1,500.6 357.4,501.5 C356.7,502.3 356.1,503.1 355.4,503.9 C354.7,504.7 354.1,505.5 353.4,506.3 C352.7,507.1 352.1,507.9 351.4,508.7 C350.7,509.5 350.1,510.3 349.4,511.1 C348.7,511.9 348.1,512.7 347.4,513.4 C346.7,514.2 346.1,514.9 345.4,515.7 C344.7,516.4 344.1,517.1 343.4,517.8 C342.7,518.6 342.1,519.3 341.4,520.0 C340.7,520.7 340.1,521.4 339.4,522.1 C338.7,522.8 338.1,523.5 337.4,524.1 C336.7,524.8 336.1,525.5 335.4,526.2 C334.7,526.9 334.1,527.6 333.4,528.2 C332.7,528.9 332.1,529.6 331.4,530.3 C330.7,531.0 330.1,531.7 329.4,532.3 C328.7,533.0 328.1,533.7 327.4,534.3 C326.7,535.0 326.1,535.6 325.4,536.2 C324.7,536.8 324.1,537.4 323.4,538.0 C322.7,538.6 322.1,539.2 321.4,539.8 C320.7,540.4 320.1,540.9 319.4,541.4 C318.7,541.9 318.1,542.4 317.4,542.8 C316.7,543.2 316.1,543.6 315.4,544.0 C314.7,544.3 314.1,544.7 313.4,544.9 C312.7,545.2 312.1,545.5 311.4,545.7 C310.7,545.9 310.1,546.1 309.4,546.3 C308.7,546.4 308.1,546.6 307.4,546.7 C306.7,546.9 306.1,547.0 305.4,547.1 C304.7,547.2 304.1,547.3 303.4,547.3 C302.7,547.4 302.1,547.5 301.4,547.6 C300.7,547.6 300.1,547.7 299.4,547.8 C298.7,547.9 298.1,547.9 297.4,548.0 C296.7,548.0 296.1,548.0 295.4,548.0 C294.7,548.0 294.1,548.0 293.4,548.0 C292.7,548.0 292.1,547.9 291.4,547.9 C290.7,547.9 290.1,547.9 289.4,547.8 C288.7,547.8 288.1,547.8 287.4,547.7 C286.7,547.7 286.1,547.7 285.4,547.6 C284.7,547.6 284.1,547.5 283.4,547.5 C282.7,547.4 282.1,547.4 281.4,547.3 C280.7,547.2 280.1,547.2 279.4,547.1 C278.7,547.0 278.1,546.9 277.4,546.8 C276.7,546.7 276.1,546.6 275.4,546.5 C274.7,546.4 274.1,546.2 273.4,546.1 C272.7,546.0 272.1,545.9 271.4,545.8 C270.7,545.6 270.1,545.5 269.4,545.4 C268.7,545.2 268.1,545.1 267.4,545.0 C266.7,544.8 266.1,544.7 265.4,544.6 C264.7,544.4 264.1,544.3 263.4,544.2 C262.7,544.0 262.1,543.9 261.4,543.7 C260.7,543.5 260.1,543.4 259.4,543.2 C258.7,543.0 258.1,542.8 257.4,542.7 C256.7,542.5 256.1,542.3 255.4,542.1 C254.7,541.9 254.1,541.7 253.4,541.5 C252.7,541.3 252.1,541.1 251.4,540.9 C250.7,540.7 250.1,540.5 249.4,540.3 C248.7,540.1 248.1,539.9 247.4,539.7 C246.7,539.5 246.1,539.2 245.4,539.0 C244.7,538.8 244.1,538.5 243.4,538.3 C242.7,538.1 242.1,537.8 241.4,537.6 C240.7,537.4 240.1,537.1 239.4,536.9 C238.7,536.7 238.1,536.5 237.4,536.3 C236.7,536.1 236.1,535.9 235.4,535.7 C234.7,535.5 234.1,535.4 233.4,535.2 C232.7,535.0 232.1,534.9 231.4,534.7 C230.7,534.6 230.1,534.4 229.4,534.3 C228.7,534.1 228.1,534.0 227.4,533.8 C226.7,533.7 226.1,533.6 225.4,533.4 C224.7,533.3 224.1,533.1 223.4,533.0 C222.7,532.9 222.1,532.8 221.4,532.6 C220.7,532.5 220.1,532.4 219.4,532.3 C218.7,532.1 218.1,532.0 217.4,531.9 C216.7,531.8 216.1,531.7 215.4,531.5 C214.7,531.4 214.1,531.3 213.4,531.2 C212.7,531.1 212.1,531.0 211.4,530.9 C210.7,530.7 210.1,530.6 209.4,530.5 C208.7,530.4 208.1,530.3 207.4,530.2 C206.7,530.1 205.9,530.0 205.4,529.9 C204.9,529.9 204.7,529.8 204.5,529.8"/>
<path d="M203.7,527.9 C204.0,526.9 205.0,523.6 205.3,521.9 C205.6,520.3 205.4,519.2 205.6,517.9 C205.8,516.5 206.2,515.2 206.5,513.8 C206.8,512.5 207.1,511.3 207.5,509.8 C208.0,508.3 208.7,506.4 209.3,504.7 C209.9,503.1 210.6,501.4 211.3,499.7 C212.1,498.0 213.0,496.3 213.9,494.7 C214.8,493.0 215.7,491.3 216.6,489.7 C217.5,488.0 218.5,486.3 219.5,484.7 C220.5,483.0 221.6,481.1 222.7,479.6 C223.7,478.1 224.8,477.2 226.0,475.8 C227.2,474.3 228.6,472.5 229.9,471.0 C231.2,469.6 232.6,468.3 234.0,467.0 C235.4,465.7 236.6,464.5 238.2,463.1 C239.8,461.8 241.6,460.3 243.5,458.8 C245.4,457.4 246.9,456.4 249.5,454.6 C252.2,452.8 256.2,450.1 259.5,447.9 C262.8,445.7 265.3,444.1 269.5,441.3 C273.6,438.5 279.4,434.3 284.4,431.3 C289.5,428.2 294.3,425.5 299.5,423.0 C304.7,420.5 311.2,418.5 315.5,416.5 C319.9,414.6 321.9,413.8 325.5,411.5 C329.0,409.3 334.6,405.0 337.0,403.2 C339.4,401.4 339.0,401.6 340.0,400.7 C341.0,399.8 342.0,398.9 343.0,397.9 C344.0,397.0 345.0,396.0 346.0,394.9 C347.0,393.8 348.0,392.8 349.0,391.6 C350.0,390.5 351.0,389.3 352.0,388.1 C353.0,386.8 354.0,385.4 355.0,384.1 C356.0,382.7 357.0,381.2 358.0,379.7 C359.0,378.3 360.0,376.7 361.0,375.1 C362.0,373.5 363.0,371.8 364.0,370.0 C365.0,368.2 366.0,366.4 367.0,364.4 C368.0,362.4 369.0,360.2 370.0,358.1 C371.0,355.9 372.0,353.6 373.0,351.3 C374.0,349.1 375.0,346.8 376.0,344.6 C377.0,342.4 378.0,340.2 379.0,338.2 C380.0,336.1 381.0,334.2 382.0,332.3 C383.0,330.5 384.0,328.8 385.0,327.1 C386.0,325.5 387.0,323.9 388.0,322.4 C389.0,320.9 390.0,319.5 391.0,318.2 C392.0,316.8 393.0,315.6 394.0,314.4 C395.0,313.1 396.0,312.0 397.0,310.8 C398.0,309.6 399.0,308.5 400.0,307.4 C401.0,306.3 402.0,305.2 403.0,304.2 C404.0,303.1 405.0,302.1 406.0,301.1 C407.0,300.2 408.0,299.3 409.0,298.4 C410.0,297.6 411.0,296.8 412.0,296.1 C413.0,295.4 414.0,294.8 415.0,294.2 C416.0,293.7 417.0,293.2 418.0,292.8 C419.0,292.4 420.0,292.1 421.0,291.9 C422.0,291.7 423.0,291.5 424.0,291.5 C425.0,291.5 426.0,291.7 427.0,291.9 C428.0,292.1 429.0,292.3 430.0,292.7 C431.0,293.0 432.0,293.4 433.0,293.8 C434.0,294.3 435.0,294.8 436.0,295.4 C437.0,295.9 438.0,296.6 439.0,297.3 C440.0,298.0 441.0,298.8 442.0,299.6 C443.0,300.5 444.0,301.5 445.0,302.5 C446.0,303.4 447.0,304.4 448.0,305.3 C449.0,306.1 450.0,306.9 451.0,307.7 C452.0,308.5 453.0,309.2 454.0,310.1 C455.0,310.9 456.0,311.8 457.0,312.7 C458.0,313.5 459.0,314.4 460.0,315.3 C461.0,316.2 462.0,317.1 463.0,318.0 C464.0,318.8 465.0,319.7 466.0,320.6 C467.0,321.4 468.0,322.3 469.0,323.1 C470.0,323.9 471.0,324.7 472.0,325.5 C473.0,326.3 474.0,327.0 475.0,327.6 C476.0,328.3 477.0,328.8 478.0,329.3 C479.0,329.9 480.0,330.3 481.0,330.7 C482.0,331.2 483.0,331.6 484.0,332.1 C485.0,332.5 486.0,332.9 487.0,333.3 C488.0,333.8 489.0,334.2 490.0,334.6 C491.0,335.0 492.0,335.3 493.0,335.7 C494.0,336.0 495.0,336.3 496.0,336.6 C497.0,336.9 498.0,337.2 499.0,337.5 C500.0,337.8 501.0,338.0 502.0,338.3 C503.0,338.5 504.0,338.7 505.0,338.9 C506.0,339.1 507.0,339.3 508.0,339.5 C509.0,339.7 510.0,339.9 511.0,340.0 C512.0,340.2 513.0,340.3 514.0,340.3 C515.0,340.4 516.0,340.4 517.0,340.4 C518.0,340.4 519.0,340.4 520.0,340.4 C521.0,340.4 522.0,340.4 523.0,340.4 C524.0,340.4 525.0,340.4 526.0,340.3 C527.0,340.3 528.0,340.2 529.0,340.2 C530.0,340.1 531.0,340.1 532.0,340.0 C533.0,339.9 534.0,339.7 535.0,339.5 C536.0,339.4 537.0,339.1 538.0,338.9 C539.0,338.7 540.0,338.5 541.0,338.3 C542.0,338.1 543.0,338.0 544.0,337.8 C545.0,337.7 546.0,337.5 547.0,337.4 C548.0,337.3 549.0,337.1 550.0,337.0 C551.0,336.8 552.0,336.6 553.0,336.4 C554.0,336.1 555.0,335.7 556.0,335.4 C557.0,335.1 558.0,334.7 559.0,334.3 C560.0,334.0 561.0,333.6 562.0,333.3 C563.0,332.9 564.0,332.5 565.0,332.1 C566.0,331.7 567.0,331.3 568.0,330.9 C569.0,330.5 570.0,330.1 571.0,329.7 C572.0,329.2 573.0,328.8 574.0,328.4 C575.0,328.0 576.0,327.6 577.0,327.1 C578.0,326.7 579.0,326.3 580.0,325.8 C581.0,325.4 582.0,325.0 583.0,324.5 C584.0,324.1 585.0,323.7 586.0,323.3 C587.0,322.9 588.0,322.6 589.0,322.3 C590.0,322.0 591.0,321.7 592.0,321.4 C593.0,321.2 594.0,320.9 595.0,320.6 C596.0,320.4 597.0,320.1 598.0,319.9 C599.0,319.8 600.0,319.7 601.0,319.6 C602.0,319.5 603.0,319.5 604.0,319.6 C605.0,319.6 606.0,319.7 607.0,319.8 C608.0,319.9 609.0,320.0 610.0,320.1 C611.0,320.2 612.0,320.4 613.0,320.5 C614.0,320.6 615.0,320.8 616.0,320.9 C617.0,321.0 618.0,321.2 619.0,321.3 C620.0,321.4 621.0,321.5 622.0,321.6 C623.0,321.7 624.0,321.8 625.0,321.9 C626.0,322.0 627.0,322.1 628.0,322.2 C629.0,322.3 630.0,322.4 631.0,322.4 C632.0,322.4 633.0,322.4 634.0,322.4 C635.0,322.3 636.0,322.2 637.0,322.2 C638.0,322.1 639.0,322.1 640.0,322.0 C641.0,321.9 642.0,321.8 643.0,321.8 C644.0,321.7 645.0,321.6 646.0,321.5 C647.0,321.4 648.0,321.3 649.0,321.3 C650.0,321.2 651.0,321.1 652.0,321.0 C653.0,320.9 654.0,320.8 655.0,320.7 C656.0,320.6 657.0,320.5 658.0,320.3 C659.0,320.2 660.0,320.1 661.0,319.9 C662.0,319.8 663.0,319.6 664.0,319.5 C665.0,319.4 666.0,319.2 667.0,319.1 C668.0,319.0 669.0,318.8 670.0,318.6 C671.0,318.5 672.0,318.3 673.0,318.1 C674.0,317.9 675.0,317.7 676.0,317.5 C677.0,317.3 678.0,317.1 679.0,316.9 C680.0,316.7 681.0,316.5 682.0,316.3 C683.0,316.1 684.0,315.9 685.0,315.6 C686.0,315.4 687.0,315.1 688.0,314.8 C689.0,314.5 690.0,314.1 691.0,313.8 C692.0,313.5 693.0,313.2 694.0,312.8 C695.0,312.5 696.0,312.2 697.0,311.8 C698.0,311.5 699.0,311.1 700.0,310.8 C701.0,310.4 702.0,310.0 703.0,309.6 C704.0,309.2 705.0,308.8 706.0,308.4 C707.0,308.0 708.0,307.6 709.0,307.2 C710.0,306.7 711.0,306.3 712.0,305.8 C713.0,305.3 714.0,304.9 715.0,304.4 C716.0,303.9 717.0,303.4 718.0,303.0 C719.0,302.5 720.0,302.0 721.0,301.5 C722.0,301.0 723.0,300.5 724.0,300.0 C725.0,299.5 726.0,299.0 727.0,298.4 C728.0,297.9 729.0,297.3 730.0,296.7 C731.0,296.1 732.0,295.5 733.0,294.9 C734.0,294.3 735.0,293.7 736.0,293.1 C737.0,292.5 738.0,291.8 739.0,291.2 C740.0,290.6 741.0,290.0 742.0,289.4 C743.0,288.8 744.0,288.2 745.0,287.6 C746.0,287.0 747.0,286.5 748.0,285.9 C749.0,285.4 750.0,284.9 751.0,284.3 C752.0,283.7 753.0,283.1 754.0,282.5 C755.0,281.8 756.0,281.0 757.0,280.2 C758.0,279.5 759.0,278.6 760.0,277.8 C761.0,276.9 762.0,276.0 763.0,275.1 C764.0,274.2 765.0,273.2 766.0,272.2 C767.0,271.3 768.0,270.3 769.0,269.3 C770.0,268.3 771.0,267.3 772.0,266.3 C773.0,265.3 774.0,264.3 775.0,263.2 C776.0,262.2 777.0,261.1 778.0,260.0 C779.0,258.9 780.0,257.8 781.0,256.8 C782.0,255.7 783.0,254.6 784.0,253.5 C785.0,252.5 786.0,251.4 787.0,250.3 C788.0,249.2 789.0,248.1 790.0,246.9 C791.0,245.7 792.0,244.4 793.0,243.1 C794.0,241.7 795.0,240.4 796.0,238.9 C797.0,237.5 798.0,236.1 799.0,234.6 C800.0,233.1 801.0,231.5 802.0,230.0 C803.0,228.4 804.0,226.8 805.0,225.1 C806.0,223.5 807.0,221.8 808.0,220.0 C809.0,218.2 810.0,216.4 811.0,214.5 C812.0,212.7 813.0,210.8 814.0,208.9 C815.0,206.9 816.0,205.0 817.0,203.0 C818.0,201.0 819.0,199.0 820.0,197.0 C821.0,195.0 822.0,193.1 823.0,191.1 C824.0,189.2 825.0,187.3 826.0,185.4 C827.0,183.5 828.0,181.6 829.0,179.6 C830.0,177.7 831.0,175.7 832.0,173.6 C833.0,171.6 834.0,169.6 835.0,167.5 C836.0,165.5 837.0,163.5 838.0,161.4 C839.0,159.4 840.0,157.4 841.0,155.4 C842.0,153.4 843.0,151.3 844.0,149.3 C845.0,147.3 846.3,144.6 847.0,143.2 C847.7,141.9 847.7,141.9 848.0,141.2 C848.3,140.5 848.7,139.8 849.0,139.2 C849.3,138.5 849.7,137.8 850.0,137.2 C850.3,136.5 850.7,135.8 851.0,135.2 C851.3,134.5 851.7,133.9 852.0,133.2 C852.3,132.5 852.7,131.9 853.0,131.2 C853.3,130.5 853.7,129.9 854.0,129.2 C854.3,128.5 854.7,127.8 855.0,127.1 C855.3,126.4 855.6,125.9 856.0,125.0 C856.4,124.2 857.2,122.6 857.4,122.1 L857.4,122.1 C857.2,122.9 856.7,125.3 856.4,126.9 C856.1,128.5 855.7,130.1 855.4,131.7 C855.1,133.3 854.7,134.8 854.4,136.4 C854.1,138.1 853.7,140.0 853.4,141.7 C853.1,143.5 852.7,145.2 852.4,146.8 C852.1,148.5 851.7,150.1 851.4,151.8 C851.1,153.4 850.7,155.0 850.4,156.6 C850.1,158.2 849.7,159.8 849.4,161.3 C849.1,162.9 848.7,164.4 848.4,166.0 C848.1,167.5 847.7,169.1 847.4,170.7 C847.1,172.2 846.7,173.7 846.4,175.1 C846.1,176.6 846.1,176.6 845.4,179.2 C844.7,181.9 843.4,187.4 842.4,191.0 C841.4,194.7 840.4,197.8 839.4,201.2 C838.4,204.5 837.4,207.6 836.4,211.0 C835.4,214.4 834.4,218.0 833.4,221.5 C832.4,225.0 831.4,228.7 830.4,232.2 C829.4,235.7 828.4,239.3 827.4,242.8 C826.4,246.3 825.4,249.9 824.4,253.1 C823.4,256.4 822.4,259.2 821.4,262.3 C820.4,265.5 819.4,268.7 818.4,271.8 C817.4,274.8 816.4,277.8 815.4,280.5 C814.4,283.2 813.4,285.6 812.4,288.0 C811.4,290.4 810.4,292.8 809.4,295.1 C808.4,297.4 807.4,299.6 806.4,301.7 C805.4,303.9 804.4,305.8 803.4,307.8 C802.4,309.8 801.4,311.6 800.4,313.5 C799.4,315.4 798.4,317.2 797.4,319.0 C796.4,320.8 795.4,322.7 794.4,324.4 C793.4,326.2 792.4,327.9 791.4,329.5 C790.4,331.1 789.4,332.7 788.4,334.3 C787.4,335.9 786.4,337.5 785.4,339.0 C784.4,340.6 783.4,342.2 782.4,343.7 C781.4,345.2 780.4,346.7 779.4,348.0 C778.4,349.4 777.4,350.7 776.4,351.9 C775.4,353.2 774.4,354.3 773.4,355.4 C772.4,356.5 771.4,357.5 770.4,358.5 C769.4,359.5 768.4,360.4 767.4,361.3 C766.4,362.2 765.4,362.9 764.4,363.7 C763.4,364.5 762.4,365.3 761.4,366.0 C760.4,366.8 759.4,367.6 758.4,368.3 C757.4,369.1 756.4,369.9 755.4,370.6 C754.4,371.4 753.4,372.2 752.4,373.0 C751.4,373.8 750.4,374.7 749.4,375.4 C748.4,376.2 747.4,377.0 746.4,377.7 C745.4,378.5 744.4,379.2 743.4,379.9 C742.4,380.6 741.4,381.3 740.4,381.9 C739.4,382.5 738.4,383.0 737.4,383.5 C736.4,384.0 735.4,384.4 734.4,384.8 C733.4,385.3 732.4,385.7 731.4,386.1 C730.4,386.5 729.4,386.9 728.4,387.2 C727.4,387.6 726.4,387.9 725.4,388.3 C724.4,388.7 723.4,389.0 722.4,389.4 C721.4,389.8 720.4,390.2 719.4,390.7 C718.4,391.1 717.4,391.7 716.4,392.2 C715.4,392.7 714.4,393.3 713.4,393.8 C712.4,394.3 711.4,394.9 710.4,395.4 C709.4,395.9 708.4,396.5 707.4,397.0 C706.4,397.5 705.4,398.0 704.4,398.5 C703.4,399.1 702.4,399.6 701.4,400.1 C700.4,400.5 699.4,401.0 698.4,401.4 C697.4,401.9 696.4,402.3 695.4,402.7 C694.4,403.1 693.4,403.5 692.4,403.9 C691.4,404.3 690.4,404.7 689.4,405.1 C688.4,405.4 687.4,405.8 686.4,406.1 C685.4,406.4 684.4,406.7 683.4,407.1 C682.4,407.4 681.4,407.8 680.4,408.2 C679.4,408.6 678.4,409.1 677.4,409.6 C676.4,410.1 675.4,410.7 674.4,411.2 C673.4,411.8 672.4,412.3 671.4,412.8 C670.4,413.3 669.4,413.7 668.4,414.1 C667.4,414.5 666.4,414.8 665.4,415.1 C664.4,415.4 663.4,415.7 662.4,416.0 C661.4,416.3 660.4,416.6 659.4,417.0 C658.4,417.3 657.4,417.7 656.4,418.0 C655.4,418.4 654.4,418.7 653.4,419.1 C652.4,419.4 651.4,419.8 650.4,420.2 C649.4,420.6 648.4,421.0 647.4,421.4 C646.4,421.8 645.4,422.3 644.4,422.7 C643.4,423.2 642.4,423.6 641.4,424.0 C640.4,424.4 639.4,424.8 638.4,425.1 C637.4,425.4 636.4,425.7 635.4,426.0 C634.4,426.2 633.4,426.5 632.4,426.7 C631.4,427.0 630.4,427.2 629.4,427.4 C628.4,427.6 627.4,427.8 626.4,428.0 C625.4,428.2 624.4,428.4 623.4,428.5 C622.4,428.7 621.4,428.9 620.4,429.1 C619.4,429.2 618.4,429.4 617.4,429.6 C616.4,429.7 615.4,429.8 614.4,430.0 C613.4,430.1 612.4,430.2 611.4,430.4 C610.4,430.5 609.4,430.6 608.4,430.8 C607.4,430.9 606.4,431.0 605.4,431.1 C604.4,431.3 603.4,431.4 602.4,431.5 C601.4,431.6 600.4,431.7 599.4,431.9 C598.4,432.0 597.4,432.1 596.4,432.2 C595.4,432.3 594.4,432.4 593.4,432.6 C592.4,432.7 591.4,432.8 590.4,432.9 C589.4,433.1 588.4,433.2 587.4,433.4 C586.4,433.6 585.4,433.8 584.4,434.0 C583.4,434.2 582.4,434.5 581.4,434.7 C580.4,434.9 579.4,435.1 578.4,435.3 C577.4,435.6 576.4,435.8 575.4,436.0 C574.4,436.3 573.4,436.6 572.4,436.8 C571.4,437.1 570.4,437.5 569.4,437.8 C568.4,438.1 567.4,438.4 566.4,438.7 C565.4,439.1 564.4,439.4 563.4,439.7 C562.4,440.0 561.4,440.4 560.4,440.7 C559.4,441.1 558.4,441.4 557.4,441.8 C556.4,442.1 555.4,442.5 554.4,442.9 C553.4,443.2 552.4,443.6 551.4,443.9 C550.4,444.2 549.4,444.5 548.4,444.8 C547.4,445.0 546.4,445.3 545.4,445.5 C544.4,445.8 543.4,446.0 542.4,446.2 C541.4,446.4 540.4,446.7 539.4,446.9 C538.4,447.1 537.4,447.2 536.4,447.4 C535.4,447.5 534.4,447.6 533.4,447.8 C532.4,447.9 531.4,448.0 530.4,448.1 C529.4,448.2 528.4,448.4 527.4,448.4 C526.4,448.5 525.4,448.6 524.4,448.6 C523.4,448.6 522.4,448.7 521.4,448.7 C520.4,448.7 519.4,448.7 518.4,448.7 C517.4,448.7 516.4,448.6 515.4,448.6 C514.4,448.6 513.4,448.5 512.4,448.5 C511.4,448.4 510.4,448.4 509.4,448.3 C508.4,448.3 507.4,448.2 506.4,448.2 C505.4,448.1 504.4,448.1 503.4,448.0 C502.4,447.9 501.4,447.9 500.4,447.8 C499.4,447.8 498.4,447.7 497.4,447.7 C496.4,447.7 495.4,447.6 494.4,447.6 C493.4,447.5 492.4,447.5 491.4,447.4 C490.4,447.4 489.4,447.3 488.4,447.3 C487.4,447.2 486.4,447.2 485.4,447.1 C484.4,447.1 483.4,447.1 482.4,447.0 C481.4,447.0 480.4,447.0 479.4,446.9 C478.4,446.9 477.4,446.9 476.4,446.8 C475.4,446.8 474.4,446.8 473.4,446.7 C472.4,446.7 471.4,446.7 470.4,446.7 C469.4,446.7 468.4,446.6 467.4,446.6 C466.4,446.6 465.4,446.6 464.4,446.6 C463.4,446.5 462.4,446.5 461.4,446.5 C460.4,446.5 459.4,446.5 458.4,446.5 C457.4,446.5 456.4,446.5 455.4,446.5 C454.4,446.5 453.4,446.5 452.4,446.5 C451.4,446.6 450.4,446.6 449.4,446.7 C448.4,446.8 447.4,446.9 446.4,446.9 C445.4,447.0 444.2,447.1 443.4,447.2 C442.6,447.2 442.1,447.3 441.4,447.3 C440.7,447.4 440.1,447.5 439.4,447.6 C438.7,447.7 438.1,447.9 437.4,448.0 C436.7,448.1 436.1,448.2 435.4,448.3 C434.7,448.5 434.1,448.6 433.4,448.7 C432.7,448.8 432.1,449.0 431.4,449.1 C430.7,449.3 430.1,449.4 429.4,449.6 C428.7,449.7 428.1,449.9 427.4,450.0 C426.7,450.2 426.1,450.4 425.4,450.5 C424.7,450.7 424.1,450.9 423.4,451.0 C422.7,451.2 422.1,451.4 421.4,451.6 C420.7,451.8 420.1,452.0 419.4,452.1 C418.7,452.3 418.1,452.5 417.4,452.7 C416.7,452.9 416.1,453.1 415.4,453.3 C414.7,453.5 414.1,453.7 413.4,453.9 C412.7,454.1 412.1,454.3 411.4,454.6 C410.7,454.8 410.1,455.0 409.4,455.2 C408.7,455.4 408.1,455.7 407.4,455.9 C406.7,456.2 406.1,456.4 405.4,456.7 C404.7,456.9 404.1,457.2 403.4,457.4 C402.7,457.7 402.1,458.0 401.4,458.3 C400.7,458.6 400.1,458.9 399.4,459.2 C398.7,459.5 398.1,459.8 397.4,460.2 C396.7,460.5 396.1,460.9 395.4,461.2 C394.7,461.6 394.1,461.9 393.4,462.3 C392.7,462.7 392.1,463.1 391.4,463.5 C390.7,463.9 390.1,464.3 389.4,464.7 C388.7,465.1 388.1,465.5 387.4,466.0 C386.7,466.4 386.1,466.9 385.4,467.3 C384.7,467.8 384.1,468.3 383.4,468.8 C382.7,469.3 382.1,469.8 381.4,470.3 C380.7,470.8 380.1,471.3 379.4,471.9 C378.7,472.4 378.1,472.9 377.4,473.4 C376.7,473.9 376.1,474.5 375.4,475.0 C374.7,475.5 374.1,476.0 373.4,476.5 C372.7,477.1 372.1,477.6 371.4,478.1 C370.7,478.7 370.1,479.2 369.4,479.7 C368.7,480.3 368.1,480.8 367.4,481.4 C366.7,482.0 366.1,482.5 365.4,483.1 C364.7,483.7 364.1,484.3 363.4,485.0 C362.7,485.6 362.1,486.2 361.4,486.9 C360.7,487.6 360.1,488.2 359.4,488.9 C358.7,489.6 358.1,490.3 357.4,491.0 C356.7,491.7 356.1,492.4 355.4,493.1 C354.7,493.8 354.1,494.5 353.4,495.2 C352.7,495.9 352.1,496.6 351.4,497.3 C350.7,498.0 350.1,498.7 349.4,499.4 C348.7,500.1 348.1,500.7 347.4,501.4 C346.7,502.1 346.1,502.7 345.4,503.4 C344.7,504.0 344.1,504.7 343.4,505.3 C342.7,505.9 342.1,506.6 341.4,507.2 C340.7,507.8 340.1,508.5 339.4,509.1 C338.7,509.7 338.1,510.3 337.4,511.0 C336.7,511.6 336.1,512.2 335.4,512.8 C334.7,513.4 334.1,514.1 333.4,514.7 C332.7,515.3 332.1,515.9 331.4,516.6 C330.7,517.2 330.1,517.8 329.4,518.4 C328.7,519.1 328.1,519.7 327.4,520.3 C326.7,520.9 326.1,521.5 325.4,522.1 C324.7,522.7 324.1,523.2 323.4,523.8 C322.7,524.4 322.1,525.0 321.4,525.5 C320.7,526.1 320.1,526.7 319.4,527.2 C318.7,527.7 318.1,528.2 317.4,528.6 C316.7,529.1 316.1,529.5 315.4,529.9 C314.7,530.3 314.1,530.7 313.4,531.1 C312.7,531.4 312.1,531.8 311.4,532.1 C310.7,532.4 310.1,532.7 309.4,532.9 C308.7,533.2 308.1,533.4 307.4,533.7 C306.7,533.9 306.1,534.1 305.4,534.3 C304.7,534.5 304.1,534.7 303.4,534.9 C302.7,535.1 302.1,535.3 301.4,535.4 C300.7,535.6 300.1,535.8 299.4,535.9 C298.7,536.1 298.1,536.2 297.4,536.3 C296.7,536.4 296.1,536.5 295.4,536.6 C294.7,536.6 294.1,536.7 293.4,536.8 C292.7,536.9 292.1,536.9 291.4,537.0 C290.7,537.0 290.1,537.1 289.4,537.1 C288.7,537.2 288.1,537.2 287.4,537.2 C286.7,537.3 286.1,537.3 285.4,537.3 C284.7,537.3 284.1,537.3 283.4,537.3 C282.7,537.3 282.1,537.3 281.4,537.3 C280.7,537.3 280.1,537.3 279.4,537.3 C278.7,537.2 278.1,537.2 277.4,537.2 C276.7,537.2 276.1,537.2 275.4,537.2 C274.7,537.2 274.1,537.1 273.4,537.1 C272.7,537.1 272.1,537.1 271.4,537.0 C270.7,537.0 270.1,537.0 269.4,537.0 C268.7,537.0 268.1,536.9 267.4,536.9 C266.7,536.9 266.1,536.8 265.4,536.8 C264.7,536.8 264.1,536.8 263.4,536.7 C262.7,536.7 262.1,536.6 261.4,536.6 C260.7,536.5 260.1,536.4 259.4,536.3 C258.7,536.3 258.1,536.2 257.4,536.1 C256.7,536.0 256.1,535.9 255.4,535.8 C254.7,535.7 254.1,535.6 253.4,535.5 C252.7,535.4 252.1,535.3 251.4,535.2 C250.7,535.1 250.1,535.0 249.4,534.9 C248.7,534.8 248.1,534.7 247.4,534.5 C246.7,534.4 246.1,534.3 245.4,534.1 C244.7,534.0 244.1,533.8 243.4,533.6 C242.7,533.5 242.1,533.3 241.4,533.2 C240.7,533.0 240.1,532.8 239.4,532.7 C238.7,532.5 238.1,532.4 237.4,532.2 C236.7,532.1 236.1,532.0 235.4,531.9 C234.7,531.8 234.1,531.7 233.4,531.6 C232.7,531.4 232.1,531.4 231.4,531.3 C230.7,531.2 230.1,531.1 229.4,531.0 C228.7,530.9 228.1,530.8 227.4,530.7 C226.7,530.7 226.1,530.6 225.4,530.5 C224.7,530.4 224.1,530.3 223.4,530.3 C222.7,530.2 222.1,530.1 221.4,530.0 C220.7,529.9 220.1,529.9 219.4,529.8 C218.7,529.7 218.1,529.6 217.4,529.5 C216.7,529.4 216.1,529.4 215.4,529.3 C214.7,529.2 214.1,529.1 213.4,529.0 C212.7,528.9 212.1,528.8 211.4,528.8 C210.7,528.7 210.1,528.6 209.4,528.5 C208.7,528.4 208.1,528.3 207.4,528.3 C206.7,528.2 205.9,528.1 205.4,528.0 C204.9,528.0 204.7,527.9 204.5,527.9"/>
<path d="M203.7,526.2 C203.9,525.5 204.5,523.3 204.8,521.9 C205.0,520.5 204.9,519.2 205.1,517.8 C205.3,516.4 205.7,515.1 206.0,513.7 C206.3,512.3 206.6,511.1 207.0,509.6 C207.5,508.1 208.2,506.2 208.8,504.6 C209.4,502.9 210.1,501.2 210.9,499.5 C211.7,497.8 212.6,496.1 213.5,494.5 C214.4,492.8 215.3,491.1 216.2,489.4 C217.2,487.8 218.1,486.1 219.1,484.4 C220.2,482.7 221.2,480.8 222.3,479.3 C223.4,477.9 224.4,476.9 225.7,475.5 C226.9,474.0 228.2,472.2 229.6,470.7 C230.9,469.3 232.3,468.0 233.7,466.6 C235.1,465.3 236.3,464.1 237.9,462.7 C239.5,461.4 241.3,459.8 243.2,458.4 C245.1,457.0 246.5,455.9 249.2,454.1 C251.9,452.3 255.8,449.6 259.1,447.4 C262.5,445.2 264.9,443.5 269.1,440.7 C273.3,437.9 279.1,433.7 284.1,430.7 C289.1,427.6 294.0,424.8 299.2,422.3 C304.4,419.9 310.9,417.8 315.2,415.8 C319.5,413.9 321.5,413.1 325.1,410.8 C328.7,408.6 334.5,404.0 337.0,402.2 C339.5,400.3 339.0,400.4 340.0,399.5 C341.0,398.5 342.0,397.6 343.0,396.6 C344.0,395.6 345.0,394.5 346.0,393.4 C347.0,392.3 348.0,391.2 349.0,390.0 C350.0,388.8 351.0,387.6 352.0,386.3 C353.0,385.0 354.0,383.6 355.0,382.2 C356.0,380.8 357.0,379.3 358.0,377.8 C359.0,376.2 360.0,374.7 361.0,373.0 C362.0,371.4 363.0,369.7 364.0,367.8 C365.0,366.0 366.0,364.1 367.0,362.0 C368.0,360.0 369.0,357.8 370.0,355.6 C371.0,353.4 372.0,351.1 373.0,348.8 C374.0,346.6 375.0,344.2 376.0,342.0 C377.0,339.7 378.0,337.5 379.0,335.4 C380.0,333.3 381.0,331.3 382.0,329.4 C383.0,327.5 384.0,325.8 385.0,324.0 C386.0,322.3 387.0,320.7 388.0,319.1 C389.0,317.6 390.0,316.2 391.0,314.8 C392.0,313.4 393.0,312.2 394.0,310.9 C395.0,309.6 396.0,308.4 397.0,307.2 C398.0,306.0 399.0,304.8 400.0,303.7 C401.0,302.6 402.0,301.4 403.0,300.4 C404.0,299.3 405.0,298.2 406.0,297.2 C407.0,296.2 408.0,295.3 409.0,294.4 C410.0,293.6 411.0,292.7 412.0,292.0 C413.0,291.3 414.0,290.7 415.0,290.1 C416.0,289.5 417.0,289.1 418.0,288.7 C419.0,288.3 420.0,287.9 421.0,287.7 C422.0,287.5 423.0,287.4 424.0,287.5 C425.0,287.5 426.0,287.6 427.0,287.9 C428.0,288.1 429.0,288.4 430.0,288.8 C431.0,289.1 432.0,289.6 433.0,290.1 C434.0,290.6 435.0,291.1 436.0,291.8 C437.0,292.4 438.0,293.1 439.0,293.9 C440.0,294.7 441.0,295.5 442.0,296.4 C443.0,297.4 444.0,298.5 445.0,299.5 C446.0,300.6 447.0,301.6 448.0,302.6 C449.0,303.5 450.0,304.3 451.0,305.2 C452.0,306.0 453.0,306.9 454.0,307.8 C455.0,308.7 456.0,309.6 457.0,310.5 C458.0,311.5 459.0,312.4 460.0,313.3 C461.0,314.3 462.0,315.2 463.0,316.2 C464.0,317.1 465.0,318.0 466.0,318.9 C467.0,319.9 468.0,320.8 469.0,321.6 C470.0,322.5 471.0,323.3 472.0,324.1 C473.0,324.9 474.0,325.7 475.0,326.3 C476.0,327.0 477.0,327.5 478.0,328.1 C479.0,328.6 480.0,329.0 481.0,329.5 C482.0,329.9 483.0,330.4 484.0,330.8 C485.0,331.3 486.0,331.7 487.0,332.2 C488.0,332.6 489.0,333.0 490.0,333.4 C491.0,333.8 492.0,334.2 493.0,334.6 C494.0,334.9 495.0,335.2 496.0,335.5 C497.0,335.9 498.0,336.2 499.0,336.4 C500.0,336.7 501.0,337.0 502.0,337.2 C503.0,337.4 504.0,337.6 505.0,337.8 C506.0,338.1 507.0,338.3 508.0,338.4 C509.0,338.6 510.0,338.8 511.0,338.9 C512.0,339.1 513.0,339.1 514.0,339.2 C515.0,339.2 516.0,339.2 517.0,339.2 C518.0,339.2 519.0,339.2 520.0,339.2 C521.0,339.1 522.0,339.1 523.0,339.1 C524.0,339.0 525.0,338.9 526.0,338.9 C527.0,338.8 528.0,338.7 529.0,338.7 C530.0,338.6 531.0,338.5 532.0,338.4 C533.0,338.2 534.0,338.0 535.0,337.8 C536.0,337.6 537.0,337.3 538.0,337.0 C539.0,336.7 540.0,336.5 541.0,336.2 C542.0,336.0 543.0,335.8 544.0,335.6 C545.0,335.4 546.0,335.2 547.0,335.1 C548.0,334.9 549.0,334.7 550.0,334.5 C551.0,334.3 552.0,334.0 553.0,333.7 C554.0,333.4 555.0,333.0 556.0,332.6 C557.0,332.2 558.0,331.7 559.0,331.3 C560.0,330.8 561.0,330.4 562.0,330.0 C563.0,329.5 564.0,329.1 565.0,328.6 C566.0,328.1 567.0,327.6 568.0,327.2 C569.0,326.7 570.0,326.2 571.0,325.7 C572.0,325.2 573.0,324.7 574.0,324.2 C575.0,323.7 576.0,323.2 577.0,322.7 C578.0,322.2 579.0,321.7 580.0,321.2 C581.0,320.7 582.0,320.2 583.0,319.7 C584.0,319.2 585.0,318.7 586.0,318.2 C587.0,317.8 588.0,317.4 589.0,317.1 C590.0,316.8 591.0,316.5 592.0,316.2 C593.0,315.9 594.0,315.5 595.0,315.3 C596.0,315.0 597.0,314.7 598.0,314.6 C599.0,314.4 600.0,314.3 601.0,314.3 C602.0,314.2 603.0,314.2 604.0,314.3 C605.0,314.4 606.0,314.5 607.0,314.7 C608.0,314.9 609.0,315.0 610.0,315.2 C611.0,315.4 612.0,315.6 613.0,315.8 C614.0,316.0 615.0,316.2 616.0,316.4 C617.0,316.6 618.0,316.9 619.0,317.0 C620.0,317.2 621.0,317.4 622.0,317.5 C623.0,317.7 624.0,317.8 625.0,317.9 C626.0,318.0 627.0,318.1 628.0,318.2 C629.0,318.3 630.0,318.4 631.0,318.4 C632.0,318.4 633.0,318.4 634.0,318.4 C635.0,318.4 636.0,318.3 637.0,318.2 C638.0,318.2 639.0,318.1 640.0,318.0 C641.0,318.0 642.0,317.9 643.0,317.8 C644.0,317.7 645.0,317.6 646.0,317.6 C647.0,317.5 648.0,317.4 649.0,317.3 C650.0,317.3 651.0,317.2 652.0,317.1 C653.0,317.0 654.0,316.9 655.0,316.8 C656.0,316.7 657.0,316.5 658.0,316.4 C659.0,316.2 660.0,316.1 661.0,315.9 C662.0,315.8 663.0,315.6 664.0,315.5 C665.0,315.3 666.0,315.2 667.0,315.0 C668.0,314.8 669.0,314.7 670.0,314.5 C671.0,314.3 672.0,314.1 673.0,313.9 C674.0,313.7 675.0,313.5 676.0,313.2 C677.0,313.0 678.0,312.8 679.0,312.6 C680.0,312.4 681.0,312.2 682.0,312.0 C683.0,311.8 684.0,311.5 685.0,311.3 C686.0,311.0 687.0,310.6 688.0,310.3 C689.0,310.0 690.0,309.6 691.0,309.3 C692.0,308.9 693.0,308.6 694.0,308.2 C695.0,307.8 696.0,307.5 697.0,307.1 C698.0,306.7 699.0,306.3 700.0,305.9 C701.0,305.5 702.0,305.1 703.0,304.7 C704.0,304.3 705.0,303.9 706.0,303.4 C707.0,303.0 708.0,302.5 709.0,302.1 C710.0,301.6 711.0,301.1 712.0,300.5 C713.0,300.0 714.0,299.5 715.0,299.0 C716.0,298.5 717.0,298.0 718.0,297.4 C719.0,296.9 720.0,296.4 721.0,295.9 C722.0,295.3 723.0,294.8 724.0,294.2 C725.0,293.6 726.0,293.0 727.0,292.4 C728.0,291.8 729.0,291.2 730.0,290.5 C731.0,289.9 732.0,289.2 733.0,288.5 C734.0,287.8 735.0,287.1 736.0,286.4 C737.0,285.7 738.0,284.9 739.0,284.2 C740.0,283.5 741.0,282.8 742.0,282.1 C743.0,281.4 744.0,280.6 745.0,279.9 C746.0,279.2 747.0,278.6 748.0,277.9 C749.0,277.3 750.0,276.7 751.0,276.0 C752.0,275.4 753.0,274.7 754.0,273.9 C755.0,273.2 756.0,272.3 757.0,271.4 C758.0,270.5 759.0,269.5 760.0,268.5 C761.0,267.6 762.0,266.5 763.0,265.5 C764.0,264.4 765.0,263.3 766.0,262.2 C767.0,261.1 768.0,260.0 769.0,258.9 C770.0,257.7 771.0,256.6 772.0,255.5 C773.0,254.3 774.0,253.1 775.0,251.9 C776.0,250.7 777.0,249.5 778.0,248.3 C779.0,247.0 780.0,245.8 781.0,244.6 C782.0,243.4 783.0,242.2 784.0,241.0 C785.0,239.8 786.0,238.6 787.0,237.4 C788.0,236.1 789.0,234.9 790.0,233.5 C791.0,232.2 792.0,230.8 793.0,229.3 C794.0,227.9 795.0,226.4 796.0,224.9 C797.0,223.3 798.0,221.8 799.0,220.2 C800.0,218.5 801.0,216.8 802.0,215.1 C803.0,213.4 804.0,211.6 805.0,209.8 C806.0,207.9 807.0,206.1 808.0,204.1 C809.0,202.1 810.0,200.1 811.0,198.0 C812.0,195.9 813.0,193.8 814.0,191.6 C815.0,189.5 816.0,187.3 817.0,185.0 C818.0,182.8 819.0,180.5 820.0,178.3 C821.0,176.0 822.0,173.8 823.0,171.7 C824.0,169.5 825.0,167.4 826.0,165.3 C827.0,163.1 828.0,161.0 829.0,158.8 C830.0,156.6 831.0,154.3 832.0,152.1 C833.0,149.8 834.0,147.5 835.0,145.2 C836.0,142.9 837.0,140.6 838.0,138.3 C839.0,136.0 840.0,133.7 841.0,131.5 C842.0,129.2 843.0,126.9 844.0,124.6 C845.0,122.4 846.3,119.3 847.0,117.8 C847.7,116.2 847.7,116.2 848.0,115.5 C848.3,114.7 848.7,113.9 849.0,113.2 C849.3,112.5 849.7,111.7 850.0,111.0 C850.3,110.3 850.7,109.5 851.0,108.8 C851.3,108.0 851.7,107.3 852.0,106.6 C852.3,105.8 852.7,105.1 853.0,104.3 C853.3,103.6 853.7,102.9 854.0,102.1 C854.3,101.4 854.7,100.6 855.0,99.9 C855.3,99.1 855.6,98.5 856.0,97.6 C856.4,96.7 857.2,95.0 857.4,94.5 L857.4,94.5 C857.2,95.3 856.7,97.7 856.4,99.4 C856.1,101.0 855.7,102.6 855.4,104.2 C855.1,105.8 854.7,107.3 854.4,109.1 C854.1,110.9 853.7,112.9 853.4,114.8 C853.1,116.7 852.7,118.5 852.4,120.3 C852.1,122.2 851.7,124.0 851.4,125.8 C851.1,127.5 850.7,129.3 850.4,131.1 C850.1,132.8 849.7,134.5 849.4,136.2 C849.1,137.9 848.7,139.6 848.4,141.3 C848.1,143.0 847.7,144.7 847.4,146.3 C847.1,148.0 846.7,149.7 846.4,151.2 C846.1,152.8 846.1,152.8 845.4,155.6 C844.7,158.4 843.4,164.3 842.4,168.0 C841.4,171.8 840.4,174.8 839.4,178.1 C838.4,181.4 837.4,184.5 836.4,187.9 C835.4,191.4 834.4,195.1 833.4,198.8 C832.4,202.5 831.4,206.5 830.4,210.2 C829.4,214.0 828.4,217.8 827.4,221.5 C826.4,225.2 825.4,229.0 824.4,232.4 C823.4,235.9 822.4,239.1 821.4,242.4 C820.4,245.8 819.4,249.4 818.4,252.7 C817.4,256.0 816.4,259.2 815.4,262.2 C814.4,265.1 813.4,267.7 812.4,270.4 C811.4,273.0 810.4,275.6 809.4,278.1 C808.4,280.6 807.4,283.1 806.4,285.5 C805.4,287.8 804.4,290.1 803.4,292.3 C802.4,294.6 801.4,296.7 800.4,298.8 C799.4,300.9 798.4,303.0 797.4,305.1 C796.4,307.1 795.4,309.2 794.4,311.2 C793.4,313.2 792.4,315.1 791.4,317.0 C790.4,318.9 789.4,320.7 788.4,322.6 C787.4,324.4 786.4,326.3 785.4,328.1 C784.4,329.9 783.4,331.8 782.4,333.5 C781.4,335.2 780.4,336.9 779.4,338.6 C778.4,340.2 777.4,341.7 776.4,343.2 C775.4,344.7 774.4,346.1 773.4,347.5 C772.4,348.8 771.4,350.2 770.4,351.4 C769.4,352.7 768.4,353.9 767.4,355.1 C766.4,356.3 765.4,357.3 764.4,358.4 C763.4,359.5 762.4,360.5 761.4,361.5 C760.4,362.6 759.4,363.5 758.4,364.5 C757.4,365.4 756.4,366.3 755.4,367.2 C754.4,368.1 753.4,369.0 752.4,369.9 C751.4,370.8 750.4,371.7 749.4,372.6 C748.4,373.5 747.4,374.3 746.4,375.1 C745.4,376.0 744.4,376.8 743.4,377.6 C742.4,378.4 741.4,379.2 740.4,379.8 C739.4,380.5 738.4,381.1 737.4,381.7 C736.4,382.2 735.4,382.7 734.4,383.2 C733.4,383.7 732.4,384.2 731.4,384.7 C730.4,385.2 729.4,385.6 728.4,386.1 C727.4,386.5 726.4,386.9 725.4,387.3 C724.4,387.7 723.4,388.1 722.4,388.5 C721.4,389.0 720.4,389.4 719.4,389.9 C718.4,390.4 717.4,391.0 716.4,391.5 C715.4,392.0 714.4,392.6 713.4,393.2 C712.4,393.7 711.4,394.3 710.4,394.8 C709.4,395.4 708.4,395.9 707.4,396.5 C706.4,397.0 705.4,397.5 704.4,398.1 C703.4,398.6 702.4,399.1 701.4,399.6 C700.4,400.1 699.4,400.6 698.4,401.0 C697.4,401.5 696.4,401.9 695.4,402.3 C694.4,402.7 693.4,403.2 692.4,403.6 C691.4,404.0 690.4,404.4 689.4,404.8 C688.4,405.1 687.4,405.4 686.4,405.8 C685.4,406.1 684.4,406.4 683.4,406.7 C682.4,407.1 681.4,407.4 680.4,407.8 C679.4,408.3 678.4,408.7 677.4,409.2 C676.4,409.7 675.4,410.3 674.4,410.8 C673.4,411.4 672.4,411.9 671.4,412.4 C670.4,412.9 669.4,413.3 668.4,413.6 C667.4,414.0 666.4,414.3 665.4,414.6 C664.4,414.9 663.4,415.2 662.4,415.5 C661.4,415.8 660.4,416.1 659.4,416.4 C658.4,416.8 657.4,417.1 656.4,417.4 C655.4,417.8 654.4,418.1 653.4,418.5 C652.4,418.8 651.4,419.1 650.4,419.5 C649.4,419.9 648.4,420.3 647.4,420.7 C646.4,421.0 645.4,421.5 644.4,421.8 C643.4,422.2 642.4,422.7 641.4,423.0 C640.4,423.4 639.4,423.7 638.4,424.0 C637.4,424.3 636.4,424.5 635.4,424.8 C634.4,425.0 633.4,425.3 632.4,425.5 C631.4,425.7 630.4,425.9 629.4,426.1 C628.4,426.2 627.4,426.4 626.4,426.6 C625.4,426.8 624.4,426.9 623.4,427.1 C622.4,427.2 621.4,427.4 620.4,427.5 C619.4,427.7 618.4,427.8 617.4,427.9 C616.4,428.1 615.4,428.2 614.4,428.3 C613.4,428.4 612.4,428.5 611.4,428.6 C610.4,428.8 609.4,428.9 608.4,429.0 C607.4,429.1 606.4,429.2 605.4,429.4 C604.4,429.5 603.4,429.6 602.4,429.7 C601.4,429.8 600.4,429.9 599.4,430.0 C598.4,430.1 597.4,430.2 596.4,430.3 C595.4,430.4 594.4,430.5 593.4,430.6 C592.4,430.6 591.4,430.7 590.4,430.9 C589.4,431.0 588.4,431.1 587.4,431.3 C586.4,431.4 585.4,431.6 584.4,431.8 C583.4,431.9 582.4,432.1 581.4,432.3 C580.4,432.5 579.4,432.6 578.4,432.8 C577.4,433.0 576.4,433.2 575.4,433.4 C574.4,433.6 573.4,433.8 572.4,434.1 C571.4,434.3 570.4,434.6 569.4,434.9 C568.4,435.1 567.4,435.4 566.4,435.7 C565.4,435.9 564.4,436.2 563.4,436.5 C562.4,436.8 561.4,437.0 560.4,437.3 C559.4,437.6 558.4,437.9 557.4,438.2 C556.4,438.5 555.4,438.8 554.4,439.1 C553.4,439.4 552.4,439.8 551.4,440.0 C550.4,440.3 549.4,440.6 548.4,440.8 C547.4,441.1 546.4,441.3 545.4,441.5 C544.4,441.7 543.4,442.0 542.4,442.2 C541.4,442.4 540.4,442.6 539.4,442.8 C538.4,443.0 537.4,443.2 536.4,443.3 C535.4,443.5 534.4,443.6 533.4,443.8 C532.4,443.9 531.4,444.1 530.4,444.2 C529.4,444.3 528.4,444.5 527.4,444.6 C526.4,444.7 525.4,444.8 524.4,444.9 C523.4,444.9 522.4,445.0 521.4,445.1 C520.4,445.2 519.4,445.2 518.4,445.3 C517.4,445.3 516.4,445.4 515.4,445.4 C514.4,445.5 513.4,445.5 512.4,445.5 C511.4,445.5 510.4,445.6 509.4,445.6 C508.4,445.6 507.4,445.6 506.4,445.7 C505.4,445.7 504.4,445.7 503.4,445.7 C502.4,445.8 501.4,445.8 500.4,445.8 C499.4,445.9 498.4,445.9 497.4,445.9 C496.4,445.9 495.4,445.9 494.4,446.0 C493.4,446.0 492.4,445.9 491.4,445.9 C490.4,445.9 489.4,445.9 488.4,445.9 C487.4,445.9 486.4,445.9 485.4,445.8 C484.4,445.8 483.4,445.8 482.4,445.8 C481.4,445.8 480.4,445.8 479.4,445.8 C478.4,445.8 477.4,445.8 476.4,445.8 C475.4,445.8 474.4,445.8 473.4,445.8 C472.4,445.8 471.4,445.8 470.4,445.8 C469.4,445.8 468.4,445.8 467.4,445.8 C466.4,445.8 465.4,445.8 464.4,445.8 C463.4,445.8 462.4,445.8 461.4,445.8 C460.4,445.8 459.4,445.8 458.4,445.9 C457.4,445.9 456.4,445.9 455.4,445.9 C454.4,445.9 453.4,445.9 452.4,446.0 C451.4,446.0 450.4,446.1 449.4,446.2 C448.4,446.2 447.4,446.3 446.4,446.4 C445.4,446.5 444.2,446.6 443.4,446.7 C442.6,446.7 442.1,446.8 441.4,446.8 C440.7,446.9 440.1,447.0 439.4,447.1 C438.7,447.2 438.1,447.3 437.4,447.4 C436.7,447.5 436.1,447.6 435.4,447.7 C434.7,447.8 434.1,447.9 433.4,448.1 C432.7,448.2 432.1,448.3 431.4,448.4 C430.7,448.5 430.1,448.7 429.4,448.8 C428.7,448.9 428.1,449.1 427.4,449.2 C426.7,449.3 426.1,449.5 425.4,449.6 C424.7,449.8 424.1,449.9 423.4,450.1 C422.7,450.3 422.1,450.4 421.4,450.6 C420.7,450.7 420.1,450.9 419.4,451.1 C418.7,451.2 418.1,451.4 417.4,451.6 C416.7,451.8 416.1,451.9 415.4,452.1 C414.7,452.3 414.1,452.5 413.4,452.7 C412.7,452.8 412.1,453.0 411.4,453.2 C410.7,453.4 410.1,453.6 409.4,453.8 C408.7,454.0 408.1,454.2 407.4,454.4 C406.7,454.7 406.1,454.9 405.4,455.1 C404.7,455.4 404.1,455.6 403.4,455.8 C402.7,456.1 402.1,456.4 401.4,456.6 C400.7,456.9 400.1,457.2 399.4,457.5 C398.7,457.9 398.1,458.2 397.4,458.5 C396.7,458.9 396.1,459.2 395.4,459.6 C394.7,459.9 394.1,460.3 393.4,460.6 C392.7,461.0 392.1,461.4 391.4,461.7 C390.7,462.1 390.1,462.5 389.4,462.8 C388.7,463.2 388.1,463.6 387.4,463.9 C386.7,464.3 386.1,464.7 385.4,465.1 C384.7,465.5 384.1,465.9 383.4,466.3 C382.7,466.7 382.1,467.1 381.4,467.5 C380.7,467.9 380.1,468.3 379.4,468.7 C378.7,469.1 378.1,469.5 377.4,470.0 C376.7,470.4 376.1,470.8 375.4,471.2 C374.7,471.7 374.1,472.1 373.4,472.5 C372.7,473.0 372.1,473.4 371.4,473.9 C370.7,474.3 370.1,474.8 369.4,475.3 C368.7,475.7 368.1,476.2 367.4,476.7 C366.7,477.2 366.1,477.7 365.4,478.2 C364.7,478.7 364.1,479.2 363.4,479.8 C362.7,480.3 362.1,480.9 361.4,481.5 C360.7,482.1 360.1,482.7 359.4,483.3 C358.7,483.9 358.1,484.5 357.4,485.1 C356.7,485.7 356.1,486.3 355.4,487.0 C354.7,487.6 354.1,488.2 353.4,488.9 C352.7,489.5 352.1,490.1 351.4,490.8 C350.7,491.4 350.1,492.0 349.4,492.6 C348.7,493.3 348.1,493.9 347.4,494.5 C346.7,495.1 346.1,495.6 345.4,496.2 C344.7,496.8 344.1,497.4 343.4,497.9 C342.7,498.5 342.1,499.1 341.4,499.6 C340.7,500.2 340.1,500.8 339.4,501.3 C338.7,501.9 338.1,502.4 337.4,503.0 C336.7,503.6 336.1,504.1 335.4,504.7 C334.7,505.2 334.1,505.8 333.4,506.3 C332.7,506.9 332.1,507.4 331.4,507.9 C330.7,508.5 330.1,509.0 329.4,509.6 C328.7,510.1 328.1,510.6 327.4,511.2 C326.7,511.7 326.1,512.3 325.4,512.8 C324.7,513.4 324.1,513.9 323.4,514.5 C322.7,515.1 322.1,515.8 321.4,516.4 C320.7,517.0 320.1,517.6 319.4,518.2 C318.7,518.7 318.1,519.2 317.4,519.6 C316.7,520.0 316.1,520.3 315.4,520.7 C314.7,521.0 314.1,521.3 313.4,521.6 C312.7,521.9 312.1,522.2 311.4,522.4 C310.7,522.7 310.1,522.9 309.4,523.1 C308.7,523.3 308.1,523.5 307.4,523.7 C306.7,523.9 306.1,524.1 305.4,524.3 C304.7,524.5 304.1,524.7 303.4,524.8 C302.7,525.0 302.1,525.2 301.4,525.3 C300.7,525.5 300.1,525.7 299.4,525.8 C298.7,526.0 298.1,526.1 297.4,526.2 C296.7,526.4 296.1,526.5 295.4,526.6 C294.7,526.7 294.1,526.8 293.4,527.0 C292.7,527.1 292.1,527.2 291.4,527.3 C290.7,527.4 290.1,527.5 289.4,527.6 C288.7,527.7 288.1,527.8 287.4,527.9 C286.7,528.0 286.1,528.1 285.4,528.2 C284.7,528.2 284.1,528.3 283.4,528.4 C282.7,528.5 282.1,528.6 281.4,528.6 C280.7,528.7 280.1,528.8 279.4,528.9 C278.7,529.0 278.1,529.0 277.4,529.1 C276.7,529.2 276.1,529.3 275.4,529.3 C274.7,529.4 274.1,529.5 273.4,529.6 C272.7,529.6 272.1,529.7 271.4,529.7 C270.7,529.8 270.1,529.8 269.4,529.9 C268.7,529.9 268.1,529.9 267.4,530.0 C266.7,530.0 266.1,530.0 265.4,530.0 C264.7,530.0 264.1,530.0 263.4,530.0 C262.7,530.0 262.1,530.0 261.4,530.0 C260.7,530.0 260.1,530.0 259.4,530.0 C258.7,530.0 258.1,530.0 257.4,530.0 C256.7,530.0 256.1,530.0 255.4,530.0 C254.7,530.0 254.1,530.0 253.4,530.0 C252.7,530.0 252.1,530.0 251.4,530.0 C250.7,530.0 250.1,530.0 249.4,530.0 C248.7,530.0 248.1,530.0 247.4,529.9 C246.7,529.9 246.1,529.8 245.4,529.8 C244.7,529.7 244.1,529.6 243.4,529.6 C242.7,529.5 242.1,529.4 241.4,529.3 C240.7,529.3 240.1,529.2 239.4,529.1 C238.7,529.0 238.1,528.9 237.4,528.9 C236.7,528.8 236.1,528.7 235.4,528.6 C234.7,528.6 234.1,528.5 233.4,528.4 C232.7,528.4 232.1,528.3 231.4,528.2 C230.7,528.2 230.1,528.1 229.4,528.0 C228.7,528.0 228.1,527.9 227.4,527.8 C226.7,527.8 226.1,527.7 225.4,527.6 C224.7,527.6 224.1,527.5 223.4,527.5 C222.7,527.4 222.1,527.3 221.4,527.3 C220.7,527.2 220.1,527.2 219.4,527.1 C218.7,527.1 218.1,527.0 217.4,527.0 C216.7,526.9 216.1,526.9 215.4,526.8 C214.7,526.8 214.1,526.7 213.4,526.7 C212.7,526.6 212.1,526.6 211.4,526.6 C210.7,526.5 210.1,526.5 209.4,526.4 C208.7,526.4 208.1,526.4 207.4,526.3 C206.7,526.3 205.9,526.3 205.4,526.2 C204.9,526.2 204.7,526.2 204.5,526.2"/>
<path d="M203.7,521.7 C203.8,521.7 204.1,522.5 204.2,521.9 C204.4,521.2 204.3,519.1 204.6,517.7 C204.8,516.3 205.2,514.9 205.5,513.6 C205.8,512.2 206.1,511.0 206.5,509.5 C207.0,507.9 207.7,506.1 208.3,504.4 C209.0,502.7 209.7,501.0 210.4,499.3 C211.2,497.6 212.2,495.9 213.1,494.2 C213.9,492.6 214.9,490.9 215.8,489.2 C216.8,487.5 217.7,485.9 218.8,484.2 C219.8,482.5 220.9,480.6 221.9,479.1 C223.0,477.6 224.1,476.6 225.3,475.2 C226.5,473.8 227.9,471.9 229.2,470.4 C230.6,468.9 232.0,467.6 233.4,466.3 C234.7,464.9 236.0,463.7 237.5,462.3 C239.1,460.9 241.0,459.4 242.9,458.0 C244.7,456.5 246.2,455.5 248.9,453.6 C251.5,451.8 255.5,449.1 258.8,446.9 C262.1,444.6 264.6,443.0 268.7,440.2 C272.9,437.4 278.7,433.2 283.7,430.1 C288.7,427.0 293.7,424.2 298.9,421.7 C304.1,419.2 310.6,417.1 314.9,415.1 C319.2,413.2 321.1,412.5 324.8,410.1 C328.4,407.8 334.5,403.1 337.0,401.1 C339.5,399.1 339.0,399.2 340.0,398.2 C341.0,397.3 342.0,396.3 343.0,395.2 C344.0,394.2 345.0,393.1 346.0,391.9 C347.0,390.8 348.0,389.6 349.0,388.4 C350.0,387.2 351.0,386.0 352.0,384.7 C353.0,383.3 354.0,381.9 355.0,380.5 C356.0,379.0 357.0,377.5 358.0,376.0 C359.0,374.5 360.0,373.0 361.0,371.3 C362.0,369.7 363.0,368.0 364.0,366.1 C365.0,364.3 366.0,362.4 367.0,360.4 C368.0,358.4 369.0,356.3 370.0,354.1 C371.0,351.9 372.0,349.6 373.0,347.4 C374.0,345.1 375.0,342.8 376.0,340.6 C377.0,338.4 378.0,336.2 379.0,334.1 C380.0,332.0 381.0,330.0 382.0,328.0 C383.0,326.1 384.0,324.4 385.0,322.6 C386.0,320.9 387.0,319.2 388.0,317.7 C389.0,316.1 390.0,314.7 391.0,313.3 C392.0,311.9 393.0,310.6 394.0,309.3 C395.0,308.0 396.0,306.8 397.0,305.6 C398.0,304.3 399.0,303.2 400.0,302.0 C401.0,300.9 402.0,299.7 403.0,298.6 C404.0,297.5 405.0,296.4 406.0,295.4 C407.0,294.4 408.0,293.5 409.0,292.6 C410.0,291.7 411.0,290.9 412.0,290.2 C413.0,289.4 414.0,288.8 415.0,288.2 C416.0,287.7 417.0,287.2 418.0,286.8 C419.0,286.4 420.0,286.1 421.0,285.9 C422.0,285.6 423.0,285.6 424.0,285.6 C425.0,285.6 426.0,285.8 427.0,286.0 C428.0,286.3 429.0,286.6 430.0,287.0 C431.0,287.4 432.0,287.8 433.0,288.4 C434.0,288.9 435.0,289.4 436.0,290.1 C437.0,290.7 438.0,291.5 439.0,292.2 C440.0,293.0 441.0,293.9 442.0,294.9 C443.0,295.8 444.0,297.0 445.0,298.0 C446.0,299.0 447.0,300.1 448.0,301.1 C449.0,302.0 450.0,302.8 451.0,303.7 C452.0,304.5 453.0,305.4 454.0,306.2 C455.0,307.1 456.0,308.1 457.0,309.0 C458.0,309.9 459.0,310.9 460.0,311.8 C461.0,312.8 462.0,313.7 463.0,314.7 C464.0,315.6 465.0,316.6 466.0,317.5 C467.0,318.4 468.0,319.3 469.0,320.2 C470.0,321.1 471.0,321.9 472.0,322.7 C473.0,323.6 474.0,324.3 475.0,325.0 C476.0,325.7 477.0,326.3 478.0,326.8 C479.0,327.3 480.0,327.8 481.0,328.2 C482.0,328.7 483.0,329.2 484.0,329.6 C485.0,330.1 486.0,330.5 487.0,331.0 C488.0,331.4 489.0,331.9 490.0,332.3 C491.0,332.7 492.0,333.1 493.0,333.5 C494.0,333.9 495.0,334.2 496.0,334.5 C497.0,334.8 498.0,335.1 499.0,335.4 C500.0,335.7 501.0,335.9 502.0,336.2 C503.0,336.4 504.0,336.6 505.0,336.8 C506.0,337.0 507.0,337.2 508.0,337.4 C509.0,337.5 510.0,337.7 511.0,337.9 C512.0,338.0 513.0,338.0 514.0,338.1 C515.0,338.1 516.0,338.0 517.0,338.0 C518.0,338.0 519.0,337.9 520.0,337.9 C521.0,337.8 522.0,337.8 523.0,337.7 C524.0,337.7 525.0,337.6 526.0,337.5 C527.0,337.4 528.0,337.3 529.0,337.2 C530.0,337.1 531.0,337.0 532.0,336.8 C533.0,336.7 534.0,336.4 535.0,336.2 C536.0,335.9 537.0,335.5 538.0,335.2 C539.0,334.9 540.0,334.6 541.0,334.3 C542.0,334.1 543.0,333.8 544.0,333.6 C545.0,333.4 546.0,333.2 547.0,332.9 C548.0,332.7 549.0,332.5 550.0,332.3 C551.0,332.0 552.0,331.7 553.0,331.4 C554.0,331.0 555.0,330.5 556.0,330.0 C557.0,329.6 558.0,329.1 559.0,328.6 C560.0,328.1 561.0,327.6 562.0,327.1 C563.0,326.6 564.0,326.1 565.0,325.5 C566.0,325.0 567.0,324.4 568.0,323.9 C569.0,323.3 570.0,322.8 571.0,322.2 C572.0,321.7 573.0,321.1 574.0,320.6 C575.0,320.0 576.0,319.5 577.0,318.9 C578.0,318.3 579.0,317.7 580.0,317.2 C581.0,316.6 582.0,316.0 583.0,315.4 C584.0,314.9 585.0,314.3 586.0,313.8 C587.0,313.4 588.0,313.0 589.0,312.6 C590.0,312.2 591.0,311.9 592.0,311.6 C593.0,311.2 594.0,310.9 595.0,310.6 C596.0,310.3 597.0,310.0 598.0,309.9 C599.0,309.7 600.0,309.6 601.0,309.6 C602.0,309.6 603.0,309.6 604.0,309.7 C605.0,309.9 606.0,310.1 607.0,310.3 C608.0,310.5 609.0,310.7 610.0,311.0 C611.0,311.2 612.0,311.5 613.0,311.8 C614.0,312.0 615.0,312.3 616.0,312.6 C617.0,312.8 618.0,313.1 619.0,313.3 C620.0,313.6 621.0,313.8 622.0,313.9 C623.0,314.1 624.0,314.2 625.0,314.3 C626.0,314.5 627.0,314.6 628.0,314.7 C629.0,314.8 630.0,314.9 631.0,315.0 C632.0,315.1 633.0,315.1 634.0,315.1 C635.0,315.1 636.0,315.0 637.0,315.0 C638.0,314.9 639.0,314.9 640.0,314.8 C641.0,314.8 642.0,314.7 643.0,314.6 C644.0,314.6 645.0,314.5 646.0,314.5 C647.0,314.4 648.0,314.3 649.0,314.3 C650.0,314.2 651.0,314.2 652.0,314.1 C653.0,314.0 654.0,313.9 655.0,313.8 C656.0,313.6 657.0,313.5 658.0,313.3 C659.0,313.1 660.0,312.8 661.0,312.6 C662.0,312.4 663.0,312.2 664.0,312.0 C665.0,311.8 666.0,311.6 667.0,311.4 C668.0,311.1 669.0,310.9 670.0,310.7 C671.0,310.4 672.0,310.2 673.0,309.9 C674.0,309.6 675.0,309.3 676.0,309.1 C677.0,308.8 678.0,308.5 679.0,308.3 C680.0,308.0 681.0,307.8 682.0,307.5 C683.0,307.3 684.0,307.0 685.0,306.7 C686.0,306.4 687.0,306.1 688.0,305.7 C689.0,305.3 690.0,305.0 691.0,304.6 C692.0,304.2 693.0,303.8 694.0,303.4 C695.0,303.0 696.0,302.6 697.0,302.2 C698.0,301.8 699.0,301.4 700.0,301.0 C701.0,300.6 702.0,300.1 703.0,299.7 C704.0,299.2 705.0,298.8 706.0,298.3 C707.0,297.8 708.0,297.3 709.0,296.8 C710.0,296.3 711.0,295.7 712.0,295.2 C713.0,294.6 714.0,294.0 715.0,293.5 C716.0,292.9 717.0,292.4 718.0,291.8 C719.0,291.3 720.0,290.7 721.0,290.1 C722.0,289.5 723.0,288.9 724.0,288.3 C725.0,287.7 726.0,287.1 727.0,286.4 C728.0,285.7 729.0,285.0 730.0,284.3 C731.0,283.6 732.0,282.8 733.0,282.0 C734.0,281.2 735.0,280.4 736.0,279.6 C737.0,278.8 738.0,277.9 739.0,277.1 C740.0,276.3 741.0,275.4 742.0,274.6 C743.0,273.7 744.0,272.8 745.0,271.9 C746.0,271.1 747.0,270.2 748.0,269.4 C749.0,268.6 750.0,267.9 751.0,267.1 C752.0,266.3 753.0,265.6 754.0,264.6 C755.0,263.7 756.0,262.7 757.0,261.6 C758.0,260.5 759.0,259.4 760.0,258.3 C761.0,257.1 762.0,256.0 763.0,254.8 C764.0,253.5 765.0,252.2 766.0,251.0 C767.0,249.7 768.0,248.4 769.0,247.1 C770.0,245.8 771.0,244.4 772.0,243.1 C773.0,241.7 774.0,240.3 775.0,238.9 C776.0,237.5 777.0,236.1 778.0,234.7 C779.0,233.3 780.0,231.9 781.0,230.5 C782.0,229.1 783.0,227.7 784.0,226.3 C785.0,224.9 786.0,223.6 787.0,222.1 C788.0,220.7 789.0,219.2 790.0,217.7 C791.0,216.1 792.0,214.5 793.0,212.9 C794.0,211.3 795.0,209.7 796.0,208.0 C797.0,206.3 798.0,204.6 799.0,202.8 C800.0,201.0 801.0,199.1 802.0,197.1 C803.0,195.2 804.0,193.2 805.0,191.2 C806.0,189.1 807.0,187.0 808.0,184.8 C809.0,182.6 810.0,180.3 811.0,177.9 C812.0,175.6 813.0,173.2 814.0,170.8 C815.0,168.3 816.0,165.8 817.0,163.3 C818.0,160.7 819.0,158.1 820.0,155.5 C821.0,153.0 822.0,150.5 823.0,148.1 C824.0,145.6 825.0,143.3 826.0,140.9 C827.0,138.5 828.0,136.1 829.0,133.6 C830.0,131.1 831.0,128.5 832.0,125.9 C833.0,123.4 834.0,120.7 835.0,118.1 C836.0,115.5 837.0,112.9 838.0,110.3 C839.0,107.7 840.0,105.1 841.0,102.5 C842.0,99.9 843.0,97.3 844.0,94.7 C845.0,92.1 846.3,88.7 847.0,86.9 C847.7,85.2 847.7,85.2 848.0,84.3 C848.3,83.4 848.7,82.6 849.0,81.8 C849.3,80.9 849.7,80.1 850.0,79.3 C850.3,78.4 850.7,77.6 851.0,76.8 C851.3,76.0 851.7,75.1 852.0,74.3 C852.3,73.5 852.7,72.6 853.0,71.8 C853.3,71.0 853.7,70.2 854.0,69.4 C854.3,68.6 854.7,67.8 855.0,66.9 C855.3,66.1 855.6,65.5 856.0,64.5 C856.4,63.5 857.2,61.6 857.4,61.0 L857.4,61.0 C857.2,61.9 856.7,64.3 856.4,65.9 C856.1,67.5 855.7,69.1 855.4,70.7 C855.1,72.4 854.7,74.0 854.4,75.9 C854.1,77.8 853.7,80.0 853.4,82.0 C853.1,84.0 852.7,86.0 852.4,88.0 C852.1,90.0 851.7,92.0 851.4,94.0 C851.1,96.0 850.7,97.9 850.4,99.8 C850.1,101.7 849.7,103.5 849.4,105.4 C849.1,107.3 848.7,109.1 848.4,111.0 C848.1,112.8 847.7,114.7 847.4,116.5 C847.1,118.3 846.7,120.2 846.4,121.8 C846.1,123.5 846.1,123.6 845.4,126.6 C844.7,129.5 843.4,135.8 842.4,139.7 C841.4,143.5 840.4,146.3 839.4,149.6 C838.4,152.8 837.4,155.7 836.4,159.2 C835.4,162.7 834.4,166.6 833.4,170.5 C832.4,174.4 831.4,178.7 830.4,182.7 C829.4,186.8 828.4,190.9 827.4,194.8 C826.4,198.8 825.4,202.7 824.4,206.4 C823.4,210.1 822.4,213.6 821.4,217.3 C820.4,221.0 819.4,224.9 818.4,228.5 C817.4,232.1 816.4,235.7 815.4,239.0 C814.4,242.2 813.4,245.1 812.4,248.0 C811.4,251.0 810.4,253.8 809.4,256.6 C808.4,259.4 807.4,262.2 806.4,264.9 C805.4,267.6 804.4,270.2 803.4,272.8 C802.4,275.3 801.4,277.8 800.4,280.2 C799.4,282.7 798.4,285.0 797.4,287.4 C796.4,289.8 795.4,292.1 794.4,294.5 C793.4,296.8 792.4,299.0 791.4,301.2 C790.4,303.4 789.4,305.5 788.4,307.7 C787.4,309.9 786.4,312.0 785.4,314.2 C784.4,316.3 783.4,318.4 782.4,320.5 C781.4,322.5 780.4,324.5 779.4,326.4 C778.4,328.3 777.4,330.1 776.4,331.9 C775.4,333.7 774.4,335.3 773.4,337.0 C772.4,338.6 771.4,340.2 770.4,341.7 C769.4,343.3 768.4,344.8 767.4,346.2 C766.4,347.7 765.4,349.0 764.4,350.4 C763.4,351.8 762.4,353.1 761.4,354.4 C760.4,355.7 759.4,356.9 758.4,358.0 C757.4,359.2 756.4,360.2 755.4,361.3 C754.4,362.4 753.4,363.4 752.4,364.5 C751.4,365.5 750.4,366.6 749.4,367.6 C748.4,368.6 747.4,369.6 746.4,370.6 C745.4,371.5 744.4,372.5 743.4,373.4 C742.4,374.3 741.4,375.3 740.4,376.1 C739.4,376.9 738.4,377.6 737.4,378.3 C736.4,379.0 735.4,379.6 734.4,380.2 C733.4,380.8 732.4,381.4 731.4,382.0 C730.4,382.6 729.4,383.1 728.4,383.7 C727.4,384.2 726.4,384.7 725.4,385.2 C724.4,385.7 723.4,386.1 722.4,386.6 C721.4,387.1 720.4,387.7 719.4,388.2 C718.4,388.8 717.4,389.4 716.4,389.9 C715.4,390.5 714.4,391.1 713.4,391.7 C712.4,392.3 711.4,392.9 710.4,393.5 C709.4,394.1 708.4,394.7 707.4,395.3 C706.4,395.9 705.4,396.4 704.4,397.0 C703.4,397.6 702.4,398.1 701.4,398.7 C700.4,399.2 699.4,399.7 698.4,400.2 C697.4,400.7 696.4,401.2 695.4,401.6 C694.4,402.1 693.4,402.6 692.4,403.0 C691.4,403.5 690.4,403.9 689.4,404.3 C688.4,404.7 687.4,405.0 686.4,405.3 C685.4,405.7 684.4,406.0 683.4,406.3 C682.4,406.7 681.4,407.0 680.4,407.4 C679.4,407.9 678.4,408.3 677.4,408.8 C676.4,409.3 675.4,409.9 674.4,410.4 C673.4,410.9 672.4,411.5 671.4,411.9 C670.4,412.4 669.4,412.8 668.4,413.2 C667.4,413.5 666.4,413.8 665.4,414.1 C664.4,414.4 663.4,414.7 662.4,415.0 C661.4,415.3 660.4,415.6 659.4,415.9 C658.4,416.2 657.4,416.6 656.4,416.9 C655.4,417.2 654.4,417.5 653.4,417.9 C652.4,418.2 651.4,418.5 650.4,418.8 C649.4,419.2 648.4,419.5 647.4,419.9 C646.4,420.2 645.4,420.6 644.4,421.0 C643.4,421.3 642.4,421.7 641.4,422.0 C640.4,422.3 639.4,422.6 638.4,422.9 C637.4,423.1 636.4,423.4 635.4,423.6 C634.4,423.8 633.4,424.0 632.4,424.2 C631.4,424.4 630.4,424.6 629.4,424.7 C628.4,424.9 627.4,425.0 626.4,425.2 C625.4,425.3 624.4,425.5 623.4,425.6 C622.4,425.7 621.4,425.8 620.4,425.9 C619.4,426.1 618.4,426.2 617.4,426.3 C616.4,426.4 615.4,426.5 614.4,426.6 C613.4,426.7 612.4,426.8 611.4,426.9 C610.4,427.0 609.4,427.2 608.4,427.3 C607.4,427.4 606.4,427.5 605.4,427.6 C604.4,427.7 603.4,427.8 602.4,427.9 C601.4,427.9 600.4,428.0 599.4,428.1 C598.4,428.2 597.4,428.3 596.4,428.3 C595.4,428.4 594.4,428.5 593.4,428.6 C592.4,428.6 591.4,428.7 590.4,428.8 C589.4,428.9 588.4,429.0 587.4,429.1 C586.4,429.2 585.4,429.4 584.4,429.5 C583.4,429.6 582.4,429.8 581.4,429.9 C580.4,430.0 579.4,430.2 578.4,430.3 C577.4,430.5 576.4,430.6 575.4,430.8 C574.4,430.9 573.4,431.1 572.4,431.3 C571.4,431.5 570.4,431.7 569.4,432.0 C568.4,432.2 567.4,432.4 566.4,432.6 C565.4,432.8 564.4,433.0 563.4,433.3 C562.4,433.5 561.4,433.7 560.4,434.0 C559.4,434.2 558.4,434.5 557.4,434.7 C556.4,435.0 555.4,435.2 554.4,435.5 C553.4,435.8 552.4,436.0 551.4,436.3 C550.4,436.5 549.4,436.8 548.4,437.0 C547.4,437.3 546.4,437.5 545.4,437.7 C544.4,437.9 543.4,438.2 542.4,438.4 C541.4,438.6 540.4,438.8 539.4,439.0 C538.4,439.2 537.4,439.4 536.4,439.6 C535.4,439.8 534.4,439.9 533.4,440.1 C532.4,440.3 531.4,440.4 530.4,440.6 C529.4,440.7 528.4,440.9 527.4,441.0 C526.4,441.2 525.4,441.3 524.4,441.5 C523.4,441.6 522.4,441.7 521.4,441.8 C520.4,442.0 519.4,442.1 518.4,442.2 C517.4,442.3 516.4,442.4 515.4,442.5 C514.4,442.6 513.4,442.7 512.4,442.8 C511.4,442.9 510.4,443.0 509.4,443.1 C508.4,443.2 507.4,443.2 506.4,443.3 C505.4,443.4 504.4,443.5 503.4,443.6 C502.4,443.7 501.4,443.8 500.4,443.9 C499.4,444.0 498.4,444.1 497.4,444.2 C496.4,444.2 495.4,444.3 494.4,444.4 C493.4,444.4 492.4,444.4 491.4,444.5 C490.4,444.5 489.4,444.5 488.4,444.5 C487.4,444.5 486.4,444.5 485.4,444.5 C484.4,444.6 483.4,444.6 482.4,444.6 C481.4,444.6 480.4,444.6 479.4,444.7 C478.4,444.7 477.4,444.7 476.4,444.7 C475.4,444.7 474.4,444.8 473.4,444.8 C472.4,444.8 471.4,444.8 470.4,444.9 C469.4,444.9 468.4,444.9 467.4,444.9 C466.4,445.0 465.4,445.0 464.4,445.0 C463.4,445.1 462.4,445.1 461.4,445.1 C460.4,445.1 459.4,445.2 458.4,445.2 C457.4,445.2 456.4,445.3 455.4,445.3 C454.4,445.3 453.4,445.4 452.4,445.4 C451.4,445.5 450.4,445.6 449.4,445.6 C448.4,445.7 447.4,445.8 446.4,445.9 C445.4,446.0 444.2,446.1 443.4,446.2 C442.6,446.3 442.1,446.3 441.4,446.4 C440.7,446.4 440.1,446.5 439.4,446.6 C438.7,446.7 438.1,446.7 437.4,446.8 C436.7,446.9 436.1,447.0 435.4,447.1 C434.7,447.2 434.1,447.3 433.4,447.4 C432.7,447.5 432.1,447.6 431.4,447.7 C430.7,447.8 430.1,447.9 429.4,448.0 C428.7,448.2 428.1,448.3 427.4,448.4 C426.7,448.5 426.1,448.7 425.4,448.8 C424.7,448.9 424.1,449.1 423.4,449.2 C422.7,449.4 422.1,449.5 421.4,449.6 C420.7,449.8 420.1,449.9 419.4,450.1 C418.7,450.2 418.1,450.4 417.4,450.6 C416.7,450.7 416.1,450.9 415.4,451.0 C414.7,451.2 414.1,451.3 413.4,451.5 C412.7,451.7 412.1,451.8 411.4,452.0 C410.7,452.2 410.1,452.4 409.4,452.5 C408.7,452.7 408.1,452.9 407.4,453.1 C406.7,453.3 406.1,453.5 405.4,453.7 C404.7,453.9 404.1,454.1 403.4,454.4 C402.7,454.6 402.1,454.8 401.4,455.1 C400.7,455.3 400.1,455.6 399.4,455.9 C398.7,456.2 398.1,456.5 397.4,456.8 C396.7,457.1 396.1,457.4 395.4,457.7 C394.7,458.0 394.1,458.3 393.4,458.7 C392.7,459.0 392.1,459.3 391.4,459.6 C390.7,460.0 390.1,460.3 389.4,460.6 C388.7,460.9 388.1,461.2 387.4,461.5 C386.7,461.9 386.1,462.2 385.4,462.5 C384.7,462.8 384.1,463.2 383.4,463.5 C382.7,463.8 382.1,464.2 381.4,464.5 C380.7,464.9 380.1,465.2 379.4,465.5 C378.7,465.9 378.1,466.2 377.4,466.6 C376.7,467.0 376.1,467.3 375.4,467.7 C374.7,468.0 374.1,468.4 373.4,468.8 C372.7,469.2 372.1,469.5 371.4,469.9 C370.7,470.3 370.1,470.7 369.4,471.1 C368.7,471.5 368.1,471.9 367.4,472.3 C366.7,472.7 366.1,473.1 365.4,473.5 C364.7,474.0 364.1,474.4 363.4,474.8 C362.7,475.3 362.1,475.7 361.4,476.2 C360.7,476.7 360.1,477.1 359.4,477.6 C358.7,478.1 358.1,478.5 357.4,479.0 C356.7,479.5 356.1,480.0 355.4,480.5 C354.7,481.0 354.1,481.5 353.4,482.0 C352.7,482.4 352.1,482.9 351.4,483.4 C350.7,483.9 350.1,484.4 349.4,484.9 C348.7,485.4 348.1,485.9 347.4,486.4 C346.7,486.9 346.1,487.4 345.4,487.8 C344.7,488.3 344.1,488.8 343.4,489.3 C342.7,489.8 342.1,490.3 341.4,490.7 C340.7,491.2 340.1,491.7 339.4,492.2 C338.7,492.7 338.1,493.2 337.4,493.7 C336.7,494.1 336.1,494.6 335.4,495.1 C334.7,495.6 334.1,496.1 333.4,496.6 C332.7,497.0 332.1,497.5 331.4,498.0 C330.7,498.5 330.1,499.0 329.4,499.4 C328.7,499.9 328.1,500.4 327.4,500.9 C326.7,501.4 326.1,501.8 325.4,502.3 C324.7,502.8 324.1,503.2 323.4,503.7 C322.7,504.2 322.1,504.7 321.4,505.2 C320.7,505.7 320.1,506.1 319.4,506.6 C318.7,507.0 318.1,507.5 317.4,507.9 C316.7,508.3 316.1,508.7 315.4,509.1 C314.7,509.5 314.1,509.8 313.4,510.2 C312.7,510.5 312.1,510.8 311.4,511.0 C310.7,511.3 310.1,511.5 309.4,511.7 C308.7,511.9 308.1,512.1 307.4,512.4 C306.7,512.6 306.1,512.9 305.4,513.1 C304.7,513.4 304.1,513.7 303.4,514.0 C302.7,514.3 302.1,514.5 301.4,514.7 C300.7,514.9 300.1,515.0 299.4,515.2 C298.7,515.4 298.1,515.5 297.4,515.7 C296.7,515.8 296.1,516.0 295.4,516.1 C294.7,516.3 294.1,516.4 293.4,516.6 C292.7,516.7 292.1,516.8 291.4,517.0 C290.7,517.1 290.1,517.2 289.4,517.4 C288.7,517.5 288.1,517.6 287.4,517.8 C286.7,517.9 286.1,518.0 285.4,518.1 C284.7,518.3 284.1,518.4 283.4,518.5 C282.7,518.6 282.1,518.8 281.4,518.9 C280.7,519.0 280.1,519.2 279.4,519.3 C278.7,519.4 278.1,519.6 277.4,519.7 C276.7,519.8 276.1,520.0 275.4,520.1 C274.7,520.2 274.1,520.3 273.4,520.5 C272.7,520.6 272.1,520.7 271.4,520.8 C270.7,520.9 270.1,521.0 269.4,521.1 C268.7,521.2 268.1,521.2 267.4,521.3 C266.7,521.4 266.1,521.4 265.4,521.5 C264.7,521.5 264.1,521.5 263.4,521.6 C262.7,521.6 262.1,521.6 261.4,521.7 C260.7,521.7 260.1,521.7 259.4,521.7 C258.7,521.7 258.1,521.8 257.4,521.8 C256.7,521.8 256.1,521.8 255.4,521.8 C254.7,521.9 254.1,521.9 253.4,521.9 C252.7,521.9 252.1,521.9 251.4,522.0 C250.7,522.0 250.1,522.0 249.4,522.0 C248.7,522.0 248.1,522.1 247.4,522.1 C246.7,522.1 246.1,522.2 245.4,522.2 C244.7,522.2 244.1,522.3 243.4,522.3 C242.7,522.4 242.1,522.4 241.4,522.4 C240.7,522.5 240.1,522.5 239.4,522.5 C238.7,522.5 238.1,522.6 237.4,522.6 C236.7,522.6 236.1,522.6 235.4,522.6 C234.7,522.6 234.1,522.6 233.4,522.6 C232.7,522.6 232.1,522.6 231.4,522.5 C230.7,522.5 230.1,522.5 229.4,522.5 C228.7,522.5 228.1,522.4 227.4,522.4 C226.7,522.4 226.1,522.3 225.4,522.3 C224.7,522.3 224.1,522.2 223.4,522.2 C222.7,522.2 222.1,522.1 221.4,522.1 C220.7,522.1 220.1,522.1 219.4,522.0 C218.7,522.0 218.1,522.0 217.4,522.0 C216.7,522.0 216.1,521.9 215.4,521.9 C214.7,521.9 214.1,521.9 213.4,521.9 C212.7,521.9 212.1,521.9 211.4,521.8 C210.7,521.8 210.1,521.8 209.4,521.8 C208.7,521.8 208.1,521.8 207.4,521.8 C206.7,521.7 205.9,521.7 205.4,521.7 C204.9,521.7 204.7,521.7 204.5,521.7"/>
<path d="M203.7,518.9 C203.7,519.4 203.7,522.0 203.7,521.8 C203.8,521.6 203.8,519.0 204.0,517.6 C204.2,516.2 204.6,514.8 205.0,513.4 C205.3,512.1 205.6,510.9 206.0,509.3 C206.5,507.8 207.2,505.9 207.8,504.2 C208.5,502.5 209.2,500.8 210.0,499.1 C210.8,497.4 211.7,495.7 212.6,494.0 C213.5,492.3 214.5,490.7 215.4,489.0 C216.4,487.3 217.4,485.7 218.4,484.0 C219.4,482.3 220.5,480.3 221.6,478.8 C222.7,477.3 223.8,476.4 225.0,474.9 C226.2,473.5 227.5,471.6 228.9,470.1 C230.2,468.6 231.6,467.3 233.0,465.9 C234.4,464.6 235.6,463.3 237.2,461.9 C238.8,460.5 240.7,459.0 242.5,457.5 C244.4,456.1 245.9,455.0 248.5,453.1 C251.2,451.3 255.2,448.6 258.5,446.4 C261.8,444.1 264.2,442.5 268.4,439.6 C272.5,436.8 278.3,432.6 283.3,429.5 C288.4,426.4 293.4,423.5 298.6,421.0 C303.8,418.5 310.3,416.4 314.6,414.4 C318.9,412.5 320.7,411.8 324.4,409.4 C328.1,407.0 334.4,402.1 337.0,400.0 C339.6,397.9 339.0,398.0 340.0,397.0 C341.0,396.0 342.0,395.0 343.0,393.9 C344.0,392.8 345.0,391.6 346.0,390.5 C347.0,389.3 348.0,388.1 349.0,386.8 C350.0,385.6 351.0,384.4 352.0,383.0 C353.0,381.6 354.0,380.2 355.0,378.7 C356.0,377.3 357.0,375.8 358.0,374.2 C359.0,372.7 360.0,371.2 361.0,369.5 C362.0,367.9 363.0,366.2 364.0,364.4 C365.0,362.6 366.0,360.7 367.0,358.7 C368.0,356.7 369.0,354.6 370.0,352.4 C371.0,350.3 372.0,348.0 373.0,345.8 C374.0,343.5 375.0,341.2 376.0,339.0 C377.0,336.8 378.0,334.6 379.0,332.5 C380.0,330.4 381.0,328.4 382.0,326.4 C383.0,324.5 384.0,322.7 385.0,320.9 C386.0,319.2 387.0,317.5 388.0,315.9 C389.0,314.3 390.0,312.9 391.0,311.5 C392.0,310.0 393.0,308.7 394.0,307.4 C395.0,306.1 396.0,304.8 397.0,303.6 C398.0,302.4 399.0,301.2 400.0,300.0 C401.0,298.8 402.0,297.7 403.0,296.6 C404.0,295.4 405.0,294.3 406.0,293.3 C407.0,292.3 408.0,291.3 409.0,290.4 C410.0,289.5 411.0,288.7 412.0,287.9 C413.0,287.2 414.0,286.5 415.0,286.0 C416.0,285.4 417.0,285.0 418.0,284.6 C419.0,284.2 420.0,283.8 421.0,283.6 C422.0,283.4 423.0,283.3 424.0,283.4 C425.0,283.4 426.0,283.6 427.0,283.9 C428.0,284.1 429.0,284.5 430.0,284.9 C431.0,285.3 432.0,285.8 433.0,286.3 C434.0,286.9 435.0,287.5 436.0,288.2 C437.0,288.9 438.0,289.6 439.0,290.5 C440.0,291.3 441.0,292.2 442.0,293.2 C443.0,294.2 444.0,295.4 445.0,296.5 C446.0,297.6 447.0,298.7 448.0,299.7 C449.0,300.7 450.0,301.5 451.0,302.3 C452.0,303.2 453.0,304.0 454.0,304.9 C455.0,305.8 456.0,306.7 457.0,307.6 C458.0,308.6 459.0,309.5 460.0,310.4 C461.0,311.4 462.0,312.3 463.0,313.3 C464.0,314.2 465.0,315.2 466.0,316.1 C467.0,317.0 468.0,317.9 469.0,318.8 C470.0,319.7 471.0,320.6 472.0,321.4 C473.0,322.2 474.0,323.0 475.0,323.7 C476.0,324.4 477.0,325.0 478.0,325.5 C479.0,326.1 480.0,326.5 481.0,327.0 C482.0,327.5 483.0,328.0 484.0,328.4 C485.0,328.9 486.0,329.4 487.0,329.8 C488.0,330.3 489.0,330.8 490.0,331.2 C491.0,331.7 492.0,332.1 493.0,332.5 C494.0,332.8 495.0,333.2 496.0,333.5 C497.0,333.8 498.0,334.1 499.0,334.4 C500.0,334.7 501.0,335.0 502.0,335.2 C503.0,335.4 504.0,335.6 505.0,335.8 C506.0,336.0 507.0,336.2 508.0,336.3 C509.0,336.5 510.0,336.7 511.0,336.8 C512.0,336.9 513.0,337.0 514.0,337.0 C515.0,337.0 516.0,336.9 517.0,336.9 C518.0,336.8 519.0,336.8 520.0,336.7 C521.0,336.7 522.0,336.6 523.0,336.5 C524.0,336.5 525.0,336.4 526.0,336.3 C527.0,336.2 528.0,336.1 529.0,336.0 C530.0,335.9 531.0,335.8 532.0,335.6 C533.0,335.4 534.0,335.1 535.0,334.8 C536.0,334.6 537.0,334.2 538.0,333.9 C539.0,333.5 540.0,333.2 541.0,332.9 C542.0,332.6 543.0,332.4 544.0,332.1 C545.0,331.9 546.0,331.7 547.0,331.5 C548.0,331.2 549.0,331.0 550.0,330.8 C551.0,330.5 552.0,330.2 553.0,329.8 C554.0,329.5 555.0,329.0 556.0,328.5 C557.0,328.0 558.0,327.4 559.0,326.9 C560.0,326.4 561.0,325.9 562.0,325.3 C563.0,324.8 564.0,324.3 565.0,323.7 C566.0,323.1 567.0,322.5 568.0,321.9 C569.0,321.4 570.0,320.8 571.0,320.2 C572.0,319.6 573.0,319.0 574.0,318.4 C575.0,317.8 576.0,317.2 577.0,316.6 C578.0,316.0 579.0,315.4 580.0,314.8 C581.0,314.2 582.0,313.5 583.0,312.9 C584.0,312.3 585.0,311.7 586.0,311.2 C587.0,310.7 588.0,310.3 589.0,309.9 C590.0,309.5 591.0,309.2 592.0,308.9 C593.0,308.5 594.0,308.2 595.0,307.9 C596.0,307.6 597.0,307.3 598.0,307.1 C599.0,306.9 600.0,306.8 601.0,306.8 C602.0,306.8 603.0,306.9 604.0,307.0 C605.0,307.2 606.0,307.4 607.0,307.7 C608.0,307.9 609.0,308.2 610.0,308.5 C611.0,308.8 612.0,309.1 613.0,309.4 C614.0,309.7 615.0,310.0 616.0,310.3 C617.0,310.5 618.0,310.9 619.0,311.1 C620.0,311.4 621.0,311.6 622.0,311.8 C623.0,312.0 624.0,312.1 625.0,312.3 C626.0,312.4 627.0,312.5 628.0,312.6 C629.0,312.8 630.0,312.9 631.0,313.0 C632.0,313.1 633.0,313.1 634.0,313.1 C635.0,313.1 636.0,313.0 637.0,313.0 C638.0,313.0 639.0,312.9 640.0,312.9 C641.0,312.8 642.0,312.8 643.0,312.7 C644.0,312.7 645.0,312.6 646.0,312.6 C647.0,312.5 648.0,312.5 649.0,312.4 C650.0,312.4 651.0,312.3 652.0,312.2 C653.0,312.2 654.0,312.1 655.0,312.0 C656.0,311.8 657.0,311.6 658.0,311.5 C659.0,311.3 660.0,311.0 661.0,310.8 C662.0,310.6 663.0,310.4 664.0,310.2 C665.0,310.0 666.0,309.8 667.0,309.5 C668.0,309.3 669.0,309.1 670.0,308.8 C671.0,308.6 672.0,308.3 673.0,308.0 C674.0,307.8 675.0,307.5 676.0,307.2 C677.0,306.9 678.0,306.7 679.0,306.4 C680.0,306.2 681.0,306.0 682.0,305.7 C683.0,305.4 684.0,305.2 685.0,304.9 C686.0,304.6 687.0,304.2 688.0,303.9 C689.0,303.5 690.0,303.1 691.0,302.8 C692.0,302.4 693.0,302.0 694.0,301.6 C695.0,301.2 696.0,300.8 697.0,300.4 C698.0,300.0 699.0,299.6 700.0,299.2 C701.0,298.7 702.0,298.3 703.0,297.8 C704.0,297.4 705.0,297.0 706.0,296.5 C707.0,296.0 708.0,295.5 709.0,295.0 C710.0,294.5 711.0,293.9 712.0,293.3 C713.0,292.8 714.0,292.2 715.0,291.7 C716.0,291.1 717.0,290.5 718.0,290.0 C719.0,289.4 720.0,288.9 721.0,288.3 C722.0,287.7 723.0,287.1 724.0,286.5 C725.0,285.9 726.0,285.2 727.0,284.5 C728.0,283.9 729.0,283.1 730.0,282.4 C731.0,281.6 732.0,280.9 733.0,280.0 C734.0,279.2 735.0,278.3 736.0,277.4 C737.0,276.5 738.0,275.5 739.0,274.5 C740.0,273.5 741.0,272.4 742.0,271.3 C743.0,270.2 744.0,269.0 745.0,267.8 C746.0,266.6 747.0,265.4 748.0,264.3 C749.0,263.1 750.0,262.1 751.0,261.0 C752.0,259.9 753.0,258.8 754.0,257.6 C755.0,256.4 756.0,255.0 757.0,253.7 C758.0,252.3 759.0,250.9 760.0,249.5 C761.0,248.1 762.0,246.7 763.0,245.2 C764.0,243.7 765.0,242.1 766.0,240.5 C767.0,238.9 768.0,237.3 769.0,235.7 C770.0,234.1 771.0,232.4 772.0,230.7 C773.0,229.0 774.0,227.3 775.0,225.5 C776.0,223.8 777.0,222.0 778.0,220.2 C779.0,218.4 780.0,216.6 781.0,214.9 C782.0,213.1 783.0,211.3 784.0,209.6 C785.0,207.8 786.0,206.0 787.0,204.2 C788.0,202.3 789.0,200.4 790.0,198.5 C791.0,196.5 792.0,194.5 793.0,192.5 C794.0,190.6 795.0,188.6 796.0,186.5 C797.0,184.5 798.0,182.4 799.0,180.3 C800.0,178.1 801.0,175.8 802.0,173.5 C803.0,171.3 804.0,169.0 805.0,166.6 C806.0,164.2 807.0,161.8 808.0,159.2 C809.0,156.7 810.0,154.0 811.0,151.3 C812.0,148.6 813.0,145.9 814.0,143.0 C815.0,140.2 816.0,137.2 817.0,134.3 C818.0,131.3 819.0,128.3 820.0,125.3 C821.0,122.4 822.0,119.5 823.0,116.7 C824.0,113.9 825.0,111.2 826.0,108.4 C827.0,105.6 828.0,102.9 829.0,100.0 C830.0,97.2 831.0,94.2 832.0,91.2 C833.0,88.2 834.0,85.1 835.0,82.0 C836.0,79.0 837.0,76.0 838.0,73.0 C839.0,69.9 840.0,67.0 841.0,64.0 C842.0,61.0 843.0,58.0 844.0,54.9 C845.0,51.9 846.3,47.9 847.0,45.9 C847.7,43.8 847.7,43.8 848.0,42.8 C848.3,41.8 848.7,40.8 849.0,39.9 C849.3,38.9 849.7,38.0 850.0,37.0 C850.3,36.1 850.7,35.1 851.0,34.2 C851.3,33.2 851.7,32.3 852.0,31.3 C852.3,30.4 852.7,29.4 853.0,28.5 C853.3,27.6 853.7,26.7 854.0,25.8 C854.3,24.9 854.7,24.0 855.0,23.0 C855.3,22.1 855.6,21.4 856.0,20.3 C856.4,19.2 857.2,17.1 857.4,16.5 L857.4,16.5 C857.2,17.3 856.7,19.7 856.4,21.3 C856.1,22.9 855.7,24.4 855.4,26.1 C855.1,27.7 854.7,29.4 854.4,31.4 C854.1,33.4 853.7,35.8 853.4,38.0 C853.1,40.2 852.7,42.4 852.4,44.6 C852.1,46.8 851.7,49.1 851.4,51.2 C851.1,53.4 850.7,55.6 850.4,57.7 C850.1,59.7 849.7,61.7 849.4,63.8 C849.1,65.8 848.7,67.9 848.4,69.9 C848.1,72.0 847.7,74.1 847.4,76.0 C847.1,78.0 846.7,80.0 846.4,81.9 C846.1,83.7 846.1,83.8 845.4,87.0 C844.7,90.1 843.4,96.9 842.4,100.8 C841.4,104.7 840.4,107.2 839.4,110.3 C838.4,113.4 837.4,116.0 836.4,119.4 C835.4,122.9 834.4,127.0 833.4,131.2 C832.4,135.3 831.4,140.0 830.4,144.3 C829.4,148.7 828.4,153.1 827.4,157.4 C826.4,161.6 825.4,165.6 824.4,169.7 C823.4,173.8 822.4,177.7 821.4,181.8 C820.4,185.9 819.4,190.3 818.4,194.3 C817.4,198.4 816.4,202.4 815.4,206.0 C814.4,209.7 813.4,213.0 812.4,216.3 C811.4,219.7 810.4,222.9 809.4,226.1 C808.4,229.3 807.4,232.5 806.4,235.6 C805.4,238.7 804.4,241.9 803.4,244.9 C802.4,247.9 801.4,250.9 800.4,253.8 C799.4,256.7 798.4,259.4 797.4,262.2 C796.4,265.0 795.4,267.8 794.4,270.5 C793.4,273.2 792.4,275.9 791.4,278.5 C790.4,281.1 789.4,283.6 788.4,286.1 C787.4,288.6 786.4,291.2 785.4,293.7 C784.4,296.1 783.4,298.6 782.4,301.0 C781.4,303.3 780.4,305.6 779.4,307.8 C778.4,310.0 777.4,312.3 776.4,314.4 C775.4,316.5 774.4,318.5 773.4,320.5 C772.4,322.5 771.4,324.4 770.4,326.3 C769.4,328.2 768.4,330.1 767.4,331.9 C766.4,333.7 765.4,335.5 764.4,337.3 C763.4,339.1 762.4,341.0 761.4,342.6 C760.4,344.3 759.4,345.8 758.4,347.3 C757.4,348.7 756.4,350.0 755.4,351.4 C754.4,352.7 753.4,354.0 752.4,355.3 C751.4,356.6 750.4,357.9 749.4,359.1 C748.4,360.4 747.4,361.6 746.4,362.7 C745.4,363.9 744.4,365.1 743.4,366.3 C742.4,367.4 741.4,368.6 740.4,369.6 C739.4,370.6 738.4,371.5 737.4,372.4 C736.4,373.3 735.4,374.1 734.4,374.9 C733.4,375.7 732.4,376.5 731.4,377.3 C730.4,378.1 729.4,378.8 728.4,379.5 C727.4,380.1 726.4,380.8 725.4,381.4 C724.4,382.0 723.4,382.7 722.4,383.3 C721.4,383.9 720.4,384.6 719.4,385.2 C718.4,385.9 717.4,386.5 716.4,387.2 C715.4,387.9 714.4,388.6 713.4,389.2 C712.4,389.9 711.4,390.6 710.4,391.2 C709.4,391.9 708.4,392.5 707.4,393.2 C706.4,393.8 705.4,394.5 704.4,395.1 C703.4,395.8 702.4,396.4 701.4,397.1 C700.4,397.7 699.4,398.3 698.4,398.9 C697.4,399.4 696.4,400.0 695.4,400.5 C694.4,401.1 693.4,401.6 692.4,402.2 C691.4,402.7 690.4,403.2 689.4,403.6 C688.4,404.0 687.4,404.4 686.4,404.8 C685.4,405.1 684.4,405.4 683.4,405.8 C682.4,406.2 681.4,406.5 680.4,407.0 C679.4,407.4 678.4,407.9 677.4,408.4 C676.4,408.9 675.4,409.5 674.4,410.0 C673.4,410.5 672.4,411.0 671.4,411.5 C670.4,411.9 669.4,412.3 668.4,412.7 C667.4,413.1 666.4,413.3 665.4,413.6 C664.4,413.9 663.4,414.2 662.4,414.5 C661.4,414.8 660.4,415.1 659.4,415.4 C658.4,415.7 657.4,416.0 656.4,416.3 C655.4,416.6 654.4,416.9 653.4,417.2 C652.4,417.6 651.4,417.9 650.4,418.2 C649.4,418.5 648.4,418.8 647.4,419.1 C646.4,419.5 645.4,419.8 644.4,420.1 C643.4,420.4 642.4,420.7 641.4,421.0 C640.4,421.3 639.4,421.6 638.4,421.8 C637.4,422.0 636.4,422.2 635.4,422.4 C634.4,422.6 633.4,422.8 632.4,422.9 C631.4,423.1 630.4,423.3 629.4,423.4 C628.4,423.5 627.4,423.7 626.4,423.8 C625.4,423.9 624.4,424.0 623.4,424.1 C622.4,424.2 621.4,424.3 620.4,424.4 C619.4,424.5 618.4,424.6 617.4,424.6 C616.4,424.7 615.4,424.8 614.4,424.9 C613.4,425.0 612.4,425.1 611.4,425.2 C610.4,425.3 609.4,425.4 608.4,425.5 C607.4,425.6 606.4,425.7 605.4,425.8 C604.4,425.9 603.4,426.0 602.4,426.0 C601.4,426.1 600.4,426.2 599.4,426.2 C598.4,426.3 597.4,426.3 596.4,426.4 C595.4,426.4 594.4,426.5 593.4,426.6 C592.4,426.6 591.4,426.7 590.4,426.7 C589.4,426.8 588.4,426.9 587.4,427.0 C586.4,427.0 585.4,427.1 584.4,427.2 C583.4,427.3 582.4,427.4 581.4,427.5 C580.4,427.6 579.4,427.7 578.4,427.8 C577.4,427.9 576.4,428.0 575.4,428.1 C574.4,428.3 573.4,428.4 572.4,428.6 C571.4,428.7 570.4,428.9 569.4,429.0 C568.4,429.2 567.4,429.4 566.4,429.5 C565.4,429.7 564.4,429.9 563.4,430.0 C562.4,430.2 561.4,430.4 560.4,430.6 C559.4,430.7 558.4,431.0 557.4,431.2 C556.4,431.4 555.4,431.6 554.4,431.8 C553.4,432.0 552.4,432.2 551.4,432.4 C550.4,432.6 549.4,432.9 548.4,433.1 C547.4,433.3 546.4,433.5 545.4,433.7 C544.4,433.9 543.4,434.1 542.4,434.3 C541.4,434.6 540.4,434.8 539.4,435.0 C538.4,435.2 537.4,435.4 536.4,435.6 C535.4,435.7 534.4,435.9 533.4,436.1 C532.4,436.3 531.4,436.5 530.4,436.6 C529.4,436.8 528.4,437.0 527.4,437.2 C526.4,437.4 525.4,437.5 524.4,437.7 C523.4,437.9 522.4,438.1 521.4,438.3 C520.4,438.4 519.4,438.6 518.4,438.8 C517.4,439.0 516.4,439.1 515.4,439.3 C514.4,439.5 513.4,439.7 512.4,439.8 C511.4,440.0 510.4,440.2 509.4,440.3 C508.4,440.5 507.4,440.7 506.4,440.9 C505.4,441.0 504.4,441.2 503.4,441.4 C502.4,441.5 501.4,441.7 500.4,441.9 C499.4,442.0 498.4,442.2 497.4,442.4 C496.4,442.5 495.4,442.7 494.4,442.8 C493.4,442.9 492.4,442.9 491.4,443.0 C490.4,443.0 489.4,443.1 488.4,443.1 C487.4,443.2 486.4,443.2 485.4,443.2 C484.4,443.3 483.4,443.3 482.4,443.4 C481.4,443.4 480.4,443.5 479.4,443.5 C478.4,443.6 477.4,443.6 476.4,443.7 C475.4,443.7 474.4,443.8 473.4,443.8 C472.4,443.8 471.4,443.9 470.4,443.9 C469.4,444.0 468.4,444.0 467.4,444.1 C466.4,444.2 465.4,444.2 464.4,444.3 C463.4,444.3 462.4,444.4 461.4,444.4 C460.4,444.5 459.4,444.5 458.4,444.6 C457.4,444.6 456.4,444.7 455.4,444.7 C454.4,444.8 453.4,444.8 452.4,444.9 C451.4,445.0 450.4,445.0 449.4,445.1 C448.4,445.2 447.4,445.3 446.4,445.4 C445.4,445.5 444.2,445.6 443.4,445.7 C442.6,445.8 442.1,445.8 441.4,445.9 C440.7,445.9 440.1,446.0 439.4,446.0 C438.7,446.1 438.1,446.2 437.4,446.3 C436.7,446.3 436.1,446.4 435.4,446.5 C434.7,446.6 434.1,446.6 433.4,446.7 C432.7,446.8 432.1,446.9 431.4,447.0 C430.7,447.1 430.1,447.2 429.4,447.3 C428.7,447.4 428.1,447.5 427.4,447.6 C426.7,447.7 426.1,447.8 425.4,447.9 C424.7,448.0 424.1,448.2 423.4,448.3 C422.7,448.4 422.1,448.5 421.4,448.7 C420.7,448.8 420.1,448.9 419.4,449.0 C418.7,449.2 418.1,449.3 417.4,449.4 C416.7,449.5 416.1,449.6 415.4,449.8 C414.7,449.9 414.1,450.0 413.4,450.1 C412.7,450.3 412.1,450.4 411.4,450.5 C410.7,450.6 410.1,450.8 409.4,450.9 C408.7,451.0 408.1,451.2 407.4,451.3 C406.7,451.5 406.1,451.6 405.4,451.8 C404.7,452.0 404.1,452.1 403.4,452.3 C402.7,452.5 402.1,452.7 401.4,452.9 C400.7,453.1 400.1,453.3 399.4,453.5 C398.7,453.8 398.1,454.0 397.4,454.3 C396.7,454.6 396.1,454.8 395.4,455.1 C394.7,455.4 394.1,455.7 393.4,455.9 C392.7,456.2 392.1,456.5 391.4,456.7 C390.7,457.0 390.1,457.3 389.4,457.5 C388.7,457.8 388.1,458.0 387.4,458.3 C386.7,458.6 386.1,458.8 385.4,459.1 C384.7,459.3 384.1,459.6 383.4,459.8 C382.7,460.1 382.1,460.4 381.4,460.6 C380.7,460.9 380.1,461.2 379.4,461.4 C378.7,461.7 378.1,462.0 377.4,462.3 C376.7,462.5 376.1,462.8 375.4,463.1 C374.7,463.4 374.1,463.7 373.4,464.0 C372.7,464.3 372.1,464.7 371.4,465.0 C370.7,465.3 370.1,465.6 369.4,466.0 C368.7,466.3 368.1,466.7 367.4,467.0 C366.7,467.4 366.1,467.7 365.4,468.1 C364.7,468.4 364.1,468.8 363.4,469.2 C362.7,469.6 362.1,469.9 361.4,470.3 C360.7,470.7 360.1,471.1 359.4,471.5 C358.7,471.9 358.1,472.3 357.4,472.7 C356.7,473.1 356.1,473.5 355.4,473.9 C354.7,474.3 354.1,474.7 353.4,475.1 C352.7,475.5 352.1,476.0 351.4,476.4 C350.7,476.8 350.1,477.2 349.4,477.6 C348.7,478.1 348.1,478.5 347.4,478.9 C346.7,479.3 346.1,479.8 345.4,480.2 C344.7,480.6 344.1,481.0 343.4,481.5 C342.7,481.9 342.1,482.4 341.4,482.8 C340.7,483.3 340.1,483.7 339.4,484.2 C338.7,484.6 338.1,485.1 337.4,485.5 C336.7,485.9 336.1,486.4 335.4,486.8 C334.7,487.3 334.1,487.7 333.4,488.2 C332.7,488.6 332.1,489.1 331.4,489.5 C330.7,490.0 330.1,490.4 329.4,490.9 C328.7,491.3 328.1,491.8 327.4,492.2 C326.7,492.6 326.1,493.1 325.4,493.5 C324.7,493.9 324.1,494.3 323.4,494.6 C322.7,495.0 322.1,495.4 321.4,495.7 C320.7,496.1 320.1,496.4 319.4,496.8 C318.7,497.1 318.1,497.5 317.4,497.8 C316.7,498.2 316.1,498.5 315.4,498.8 C314.7,499.2 314.1,499.5 313.4,499.9 C312.7,500.2 312.1,500.5 311.4,500.8 C310.7,501.1 310.1,501.3 309.4,501.6 C308.7,501.9 308.1,502.1 307.4,502.4 C306.7,502.6 306.1,502.8 305.4,503.1 C304.7,503.3 304.1,503.5 303.4,503.7 C302.7,503.9 302.1,504.2 301.4,504.4 C300.7,504.7 300.1,505.0 299.4,505.2 C298.7,505.5 298.1,505.8 297.4,506.0 C296.7,506.3 296.1,506.5 295.4,506.7 C294.7,506.9 294.1,507.1 293.4,507.3 C292.7,507.5 292.1,507.7 291.4,507.9 C290.7,508.0 290.1,508.2 289.4,508.4 C288.7,508.6 288.1,508.7 287.4,508.9 C286.7,509.1 286.1,509.2 285.4,509.4 C284.7,509.6 284.1,509.7 283.4,509.9 C282.7,510.1 282.1,510.2 281.4,510.4 C280.7,510.6 280.1,510.7 279.4,510.9 C278.7,511.0 278.1,511.2 277.4,511.4 C276.7,511.5 276.1,511.7 275.4,511.8 C274.7,512.0 274.1,512.1 273.4,512.3 C272.7,512.4 272.1,512.6 271.4,512.7 C270.7,512.9 270.1,513.0 269.4,513.1 C268.7,513.3 268.1,513.4 267.4,513.5 C266.7,513.7 266.1,513.8 265.4,513.9 C264.7,514.1 264.1,514.2 263.4,514.3 C262.7,514.4 262.1,514.5 261.4,514.6 C260.7,514.8 260.1,514.9 259.4,515.0 C258.7,515.1 258.1,515.2 257.4,515.3 C256.7,515.4 256.1,515.5 255.4,515.6 C254.7,515.7 254.1,515.8 253.4,515.9 C252.7,516.0 252.1,516.1 251.4,516.2 C250.7,516.2 250.1,516.3 249.4,516.4 C248.7,516.4 248.1,516.5 247.4,516.5 C246.7,516.6 246.1,516.6 245.4,516.7 C244.7,516.7 244.1,516.8 243.4,516.8 C242.7,516.9 242.1,516.9 241.4,517.0 C240.7,517.0 240.1,517.1 239.4,517.1 C238.7,517.1 238.1,517.2 237.4,517.2 C236.7,517.3 236.1,517.3 235.4,517.4 C234.7,517.4 234.1,517.5 233.4,517.5 C232.7,517.6 232.1,517.6 231.4,517.7 C230.7,517.7 230.1,517.8 229.4,517.8 C228.7,517.9 228.1,518.0 227.4,518.0 C226.7,518.1 226.1,518.1 225.4,518.2 C224.7,518.2 224.1,518.3 223.4,518.3 C222.7,518.4 222.1,518.4 221.4,518.4 C220.7,518.5 220.1,518.5 219.4,518.5 C218.7,518.6 218.1,518.6 217.4,518.6 C216.7,518.6 216.1,518.7 215.4,518.7 C214.7,518.7 214.1,518.7 213.4,518.7 C212.7,518.8 212.1,518.8 211.4,518.8 C210.7,518.8 210.1,518.8 209.4,518.8 C208.7,518.9 208.1,518.9 207.4,518.9 C206.7,518.9 205.9,518.9 205.4,518.9 C204.9,518.9 204.7,518.9 204.5,518.9"/>
<path d="M203.6,546 L203.4,556"/>
</svg>
</body></html>
